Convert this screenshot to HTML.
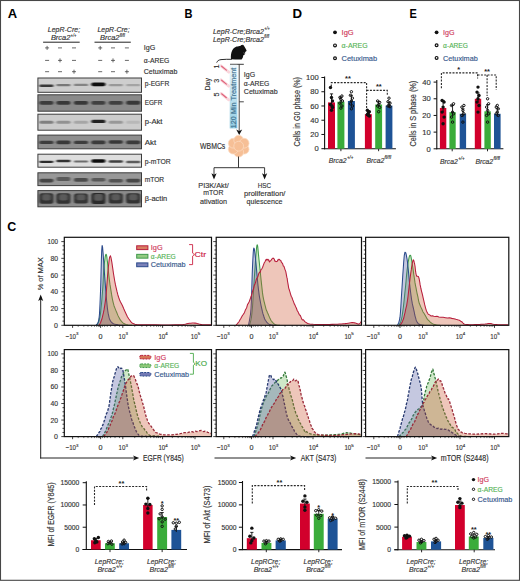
<!DOCTYPE html>
<html><head><meta charset="utf-8"><style>
html,body{margin:0;padding:0;background:#fff;}
svg{display:block;}
text{font-family:"Liberation Sans", sans-serif;}
</style></head><body>
<svg width="520" height="581" viewBox="0 0 520 581">
<rect x="0" y="0" width="520" height="581" fill="#fff"/>
<text x="7.80" y="18.00" font-size="13.2" fill="#000" font-weight="bold" textLength="9.40" lengthAdjust="spacingAndGlyphs" >A</text>
<text x="184.60" y="18.20" font-size="13.2" fill="#000" font-weight="bold" textLength="8.00" lengthAdjust="spacingAndGlyphs" >B</text>
<text x="7.30" y="231.40" font-size="13.4" fill="#000" font-weight="bold" textLength="9.00" lengthAdjust="spacingAndGlyphs" >C</text>
<text x="292.40" y="18.30" font-size="13.2" fill="#000" font-weight="bold" textLength="9.60" lengthAdjust="spacingAndGlyphs" >D</text>
<text x="409.60" y="18.30" font-size="13.2" fill="#000" font-weight="bold" textLength="7.30" lengthAdjust="spacingAndGlyphs" >E</text>
<text x="47.80" y="31.80" font-size="7.2" fill="#333" font-style="italic" textLength="32.30" lengthAdjust="spacingAndGlyphs" stroke="#333" stroke-width="0.15" >LepR-Cre;</text>
<text x="50.90" y="40.20" font-size="7.2" fill="#333" font-style="italic" textLength="19.50" lengthAdjust="spacingAndGlyphs" stroke="#333" stroke-width="0.15" >Brca2</text>
<text x="70.60" y="36.60" font-size="4.6" fill="#333" font-style="italic" textLength="5.80" lengthAdjust="spacingAndGlyphs" stroke="#333" stroke-width="0.15" >+/+</text>
<text x="97.50" y="31.80" font-size="7.2" fill="#333" font-style="italic" textLength="32.10" lengthAdjust="spacingAndGlyphs" stroke="#333" stroke-width="0.15" >LepR-Cre;</text>
<text x="100.00" y="40.20" font-size="7.2" fill="#333" font-style="italic" textLength="19.50" lengthAdjust="spacingAndGlyphs" stroke="#333" stroke-width="0.15" >Brca2</text>
<text x="119.70" y="36.60" font-size="4.6" fill="#333" font-style="italic" textLength="5.20" lengthAdjust="spacingAndGlyphs" stroke="#333" stroke-width="0.15" >fl/fl</text>
<line x1="43.10" y1="42.20" x2="79.70" y2="42.20" stroke="#222" stroke-width="1.0" />
<line x1="94.50" y1="42.20" x2="130.80" y2="42.20" stroke="#222" stroke-width="1.0" />
<line x1="45.10" y1="47.90" x2="49.10" y2="47.90" stroke="#444" stroke-width="0.8" />
<line x1="47.10" y1="45.90" x2="47.10" y2="49.90" stroke="#444" stroke-width="0.8" />
<line x1="58.00" y1="47.90" x2="62.00" y2="47.90" stroke="#444" stroke-width="0.8" />
<line x1="72.00" y1="47.90" x2="76.00" y2="47.90" stroke="#444" stroke-width="0.8" />
<line x1="98.20" y1="47.90" x2="102.20" y2="47.90" stroke="#444" stroke-width="0.8" />
<line x1="100.20" y1="45.90" x2="100.20" y2="49.90" stroke="#444" stroke-width="0.8" />
<line x1="111.00" y1="47.90" x2="115.00" y2="47.90" stroke="#444" stroke-width="0.8" />
<line x1="124.90" y1="47.90" x2="128.90" y2="47.90" stroke="#444" stroke-width="0.8" />
<line x1="45.10" y1="60.40" x2="49.10" y2="60.40" stroke="#444" stroke-width="0.8" />
<line x1="58.00" y1="60.40" x2="62.00" y2="60.40" stroke="#444" stroke-width="0.8" />
<line x1="60.00" y1="58.40" x2="60.00" y2="62.40" stroke="#444" stroke-width="0.8" />
<line x1="72.00" y1="60.40" x2="76.00" y2="60.40" stroke="#444" stroke-width="0.8" />
<line x1="98.20" y1="60.40" x2="102.20" y2="60.40" stroke="#444" stroke-width="0.8" />
<line x1="111.00" y1="60.40" x2="115.00" y2="60.40" stroke="#444" stroke-width="0.8" />
<line x1="113.00" y1="58.40" x2="113.00" y2="62.40" stroke="#444" stroke-width="0.8" />
<line x1="124.90" y1="60.40" x2="128.90" y2="60.40" stroke="#444" stroke-width="0.8" />
<line x1="45.10" y1="71.70" x2="49.10" y2="71.70" stroke="#444" stroke-width="0.8" />
<line x1="58.00" y1="71.70" x2="62.00" y2="71.70" stroke="#444" stroke-width="0.8" />
<line x1="72.00" y1="71.70" x2="76.00" y2="71.70" stroke="#444" stroke-width="0.8" />
<line x1="74.00" y1="69.70" x2="74.00" y2="73.70" stroke="#444" stroke-width="0.8" />
<line x1="98.20" y1="71.70" x2="102.20" y2="71.70" stroke="#444" stroke-width="0.8" />
<line x1="111.00" y1="71.70" x2="115.00" y2="71.70" stroke="#444" stroke-width="0.8" />
<line x1="124.90" y1="71.70" x2="128.90" y2="71.70" stroke="#444" stroke-width="0.8" />
<line x1="126.90" y1="69.70" x2="126.90" y2="73.70" stroke="#444" stroke-width="0.8" />
<text x="143.80" y="50.30" font-size="7.3" fill="#333" textLength="11.50" lengthAdjust="spacingAndGlyphs" stroke="#333" stroke-width="0.15" >IgG</text>
<text x="143.80" y="63.00" font-size="7.3" fill="#333" textLength="25.50" lengthAdjust="spacingAndGlyphs" stroke="#333" stroke-width="0.15" >α-AREG</text>
<text x="143.80" y="74.00" font-size="7.3" fill="#333" textLength="33.50" lengthAdjust="spacingAndGlyphs" stroke="#333" stroke-width="0.15" >Cetuximab</text>
<defs><filter id="bl" x="-20%" y="-60%" width="140%" height="220%"><feGaussianBlur stdDeviation="1.0 0.75"/></filter><filter id="bl2" x="-5%" y="-5%" width="110%" height="110%"><feGaussianBlur stdDeviation="0.5"/></filter></defs>
<rect x="37.90" y="78.00" width="103.60" height="14.30" fill="rgb(206,206,206)" stroke="#3c3c3c" stroke-width="1.0" />
<g filter="url(#bl)">
<rect x="39.30" y="84.50" width="14.2" height="2.60" rx="1.30" fill="rgb(56,56,56)"/>
<rect x="56.30" y="83.90" width="14.2" height="2.40" rx="1.20" fill="rgb(120,120,120)"/>
<rect x="73.90" y="83.70" width="14.2" height="2.40" rx="1.20" fill="rgb(132,132,132)"/>
<rect x="91.30" y="82.40" width="14.2" height="3.80" rx="1.90" fill="rgb(14,14,14)"/>
<rect x="108.70" y="84.05" width="14.2" height="2.30" rx="1.15" fill="rgb(152,152,152)"/>
<rect x="126.10" y="84.10" width="14.2" height="2.20" rx="1.10" fill="rgb(164,164,164)"/>
</g>
<rect x="37.90" y="94.80" width="103.60" height="16.40" fill="rgb(138,138,138)" stroke="#3c3c3c" stroke-width="1.0" />
<g filter="url(#bl)">
<rect x="39.30" y="100.90" width="14.2" height="3.80" rx="1.90" fill="rgb(58,58,58)"/>
<rect x="56.30" y="100.90" width="14.2" height="3.80" rx="1.90" fill="rgb(56,56,56)"/>
<rect x="73.90" y="100.90" width="14.2" height="3.80" rx="1.90" fill="rgb(56,56,56)"/>
<rect x="91.30" y="100.90" width="14.2" height="3.80" rx="1.90" fill="rgb(64,64,64)"/>
<rect x="108.70" y="100.90" width="14.2" height="3.80" rx="1.90" fill="rgb(64,64,64)"/>
<rect x="126.10" y="100.80" width="14.2" height="4.00" rx="2.00" fill="rgb(56,56,56)"/>
</g>
<rect x="37.90" y="114.20" width="103.60" height="16.00" fill="rgb(204,204,204)" stroke="#3c3c3c" stroke-width="1.0" />
<g filter="url(#bl)">
<rect x="39.30" y="120.70" width="14.2" height="3.00" rx="1.50" fill="rgb(128,128,128)"/>
<rect x="56.30" y="120.70" width="14.2" height="3.00" rx="1.50" fill="rgb(146,146,146)"/>
<rect x="73.90" y="120.70" width="14.2" height="3.00" rx="1.50" fill="rgb(166,166,166)"/>
<rect x="91.30" y="119.80" width="14.2" height="3.20" rx="1.60" fill="rgb(34,34,34)"/>
<rect x="108.70" y="120.70" width="14.2" height="3.00" rx="1.50" fill="rgb(152,152,152)"/>
<rect x="126.10" y="120.70" width="14.2" height="3.00" rx="1.50" fill="rgb(184,184,184)"/>
</g>
<rect x="37.90" y="135.10" width="103.60" height="13.70" fill="rgb(142,142,142)" stroke="#3c3c3c" stroke-width="1.0" />
<g filter="url(#bl)">
<rect x="39.30" y="140.70" width="14.2" height="3.40" rx="1.70" fill="rgb(60,60,60)"/>
<rect x="56.30" y="140.60" width="14.2" height="3.60" rx="1.80" fill="rgb(56,56,56)"/>
<rect x="73.90" y="140.70" width="14.2" height="3.40" rx="1.70" fill="rgb(62,62,62)"/>
<rect x="91.30" y="140.60" width="14.2" height="3.60" rx="1.80" fill="rgb(58,58,58)"/>
<rect x="108.70" y="140.30" width="14.2" height="3.40" rx="1.70" fill="rgb(56,56,56)"/>
<rect x="126.10" y="140.60" width="14.2" height="3.60" rx="1.80" fill="rgb(58,58,58)"/>
</g>
<rect x="37.90" y="154.20" width="103.60" height="13.00" fill="rgb(222,222,222)" stroke="#3c3c3c" stroke-width="1.0" />
<g filter="url(#bl)">
<rect x="39.30" y="160.65" width="14.2" height="2.30" rx="1.15" fill="rgb(44,44,44)"/>
<rect x="56.30" y="159.80" width="14.2" height="2.40" rx="1.20" fill="rgb(48,48,48)"/>
<rect x="73.90" y="160.60" width="14.2" height="2.00" rx="1.00" fill="rgb(108,108,108)"/>
<rect x="91.30" y="159.20" width="14.2" height="3.60" rx="1.80" fill="rgb(12,12,12)"/>
<rect x="108.70" y="160.35" width="14.2" height="2.50" rx="1.25" fill="rgb(64,64,64)"/>
<rect x="126.10" y="160.65" width="14.2" height="2.50" rx="1.25" fill="rgb(92,92,92)"/>
</g>
<rect x="37.90" y="172.80" width="103.60" height="12.80" fill="rgb(152,152,152)" stroke="#3c3c3c" stroke-width="1.0" />
<g filter="url(#bl)">
<rect x="39.30" y="178.80" width="14.2" height="3.60" rx="1.80" fill="rgb(68,68,68)"/>
<rect x="56.30" y="177.00" width="14.2" height="4.00" rx="2.00" fill="rgb(90,90,90)"/>
<rect x="73.90" y="178.10" width="14.2" height="3.60" rx="1.80" fill="rgb(76,76,76)"/>
<rect x="91.30" y="177.90" width="14.2" height="3.60" rx="1.80" fill="rgb(88,88,88)"/>
<rect x="108.70" y="179.00" width="14.2" height="3.40" rx="1.70" fill="rgb(82,82,82)"/>
<rect x="126.10" y="178.80" width="14.2" height="3.60" rx="1.80" fill="rgb(70,70,70)"/>
</g>
<rect x="37.90" y="190.60" width="103.60" height="16.20" fill="rgb(140,140,140)" stroke="#3c3c3c" stroke-width="1.0" />
<g filter="url(#bl)">
<rect x="39.30" y="193.15" width="14.2" height="10.50" rx="2.50" fill="rgb(48,48,48)"/>
<rect x="42.10" y="194.15" width="8.6" height="6.30" rx="2" fill="#5a5a5a"/>
<rect x="56.30" y="193.15" width="14.2" height="10.50" rx="2.50" fill="rgb(48,48,48)"/>
<rect x="59.10" y="194.15" width="8.6" height="6.30" rx="2" fill="#5a5a5a"/>
<rect x="73.90" y="193.40" width="14.2" height="10.00" rx="2.50" fill="rgb(52,52,52)"/>
<rect x="76.70" y="194.40" width="8.6" height="5.80" rx="2" fill="#5a5a5a"/>
<rect x="91.30" y="192.90" width="14.2" height="11.00" rx="2.50" fill="rgb(44,44,44)"/>
<rect x="94.10" y="193.90" width="8.6" height="6.80" rx="2" fill="#5a5a5a"/>
<rect x="108.70" y="193.30" width="14.2" height="10.20" rx="2.50" fill="rgb(50,50,50)"/>
<rect x="111.50" y="194.30" width="8.6" height="6.00" rx="2" fill="#5a5a5a"/>
<rect x="126.10" y="193.30" width="14.2" height="10.20" rx="2.50" fill="rgb(50,50,50)"/>
<rect x="128.90" y="194.30" width="8.6" height="6.00" rx="2" fill="#5a5a5a"/>
</g>
<text x="144.70" y="86.30" font-size="7.3" fill="#333" textLength="24.60" lengthAdjust="spacingAndGlyphs" stroke="#333" stroke-width="0.15" >p-EGFR</text>
<text x="144.70" y="104.60" font-size="7.3" fill="#333" textLength="17.60" lengthAdjust="spacingAndGlyphs" stroke="#333" stroke-width="0.15" >EGFR</text>
<text x="144.70" y="124.30" font-size="7.3" fill="#333" textLength="17.80" lengthAdjust="spacingAndGlyphs" stroke="#333" stroke-width="0.15" >p-Akt</text>
<text x="144.70" y="145.00" font-size="7.3" fill="#333" textLength="11.50" lengthAdjust="spacingAndGlyphs" stroke="#333" stroke-width="0.15" >Akt</text>
<text x="144.70" y="164.00" font-size="7.3" fill="#333" textLength="26.00" lengthAdjust="spacingAndGlyphs" stroke="#333" stroke-width="0.15" >p-mTOR</text>
<text x="144.70" y="182.40" font-size="7.3" fill="#333" textLength="19.50" lengthAdjust="spacingAndGlyphs" stroke="#333" stroke-width="0.15" >mTOR</text>
<text x="144.70" y="201.20" font-size="7.3" fill="#333" textLength="22.50" lengthAdjust="spacingAndGlyphs" stroke="#333" stroke-width="0.15" >β-actin</text>
<text x="212.90" y="33.50" font-size="7.2" fill="#333" font-style="italic" textLength="51.00" lengthAdjust="spacingAndGlyphs" stroke="#333" stroke-width="0.15" >LepR-Cre;Brca2</text>
<text x="264.20" y="29.80" font-size="4.6" fill="#333" font-style="italic" textLength="5.50" lengthAdjust="spacingAndGlyphs" stroke="#333" stroke-width="0.15" >+/+</text>
<text x="212.90" y="41.50" font-size="7.2" fill="#333" font-style="italic" textLength="51.00" lengthAdjust="spacingAndGlyphs" stroke="#333" stroke-width="0.15" >LepR-Cre;Brca2</text>
<text x="264.20" y="37.80" font-size="4.6" fill="#333" font-style="italic" textLength="5.00" lengthAdjust="spacingAndGlyphs" stroke="#333" stroke-width="0.15" >fl/fl</text>
<path d="M231.0,59.2 C230.6,56.5 231.0,52.5 232.3,50.2 C233.2,48.6 234.6,47.4 236.6,46.6 C238.0,46.1 239.4,46.1 240.4,45.9 C240.8,44.9 241.6,44.6 242.1,45.2 C242.6,44.6 243.4,44.6 243.7,45.6 C244.6,46.6 245.6,48.6 246.6,50.6 C246.4,51.4 245.8,51.8 245.0,52.0 C245.4,52.8 245.2,53.6 244.8,54.2 C244.2,55.0 243.6,55.2 243.2,55.6 C243.2,57.0 242.6,58.6 241.6,59.4 L235.0,59.6 Z" fill="#111"/>
<path d="M231.8,59.3 C228.5,59.2 224.5,59.3 221.0,59.6 C218.6,59.9 217.3,61.0 216.7,62.6" fill="none" stroke="#111" stroke-width="0.9"/>
<path d="M243.9,52.6 C244.4,52.9 244.6,53.4 244.3,53.9" fill="none" stroke="#fff" stroke-width="0.5"/>
<line x1="230.00" y1="64.30" x2="243.80" y2="64.30" stroke="#222" stroke-width="0.9" />
<defs><linearGradient id="bg1" x1="0" y1="0" x2="0" y2="1"><stop offset="0" stop-color="#eef7fb"/><stop offset="0.45" stop-color="#c4e4f1"/><stop offset="1" stop-color="#92cce3"/></linearGradient></defs>
<rect x="229.70" y="64.80" width="7.70" height="63.60" fill="url(#bg1)" stroke="none" stroke-width="0" />
<line x1="239.20" y1="64.30" x2="239.20" y2="131.00" stroke="#333" stroke-width="0.9" />
<line x1="239.20" y1="101.80" x2="243.80" y2="101.80" stroke="#333" stroke-width="0.9" />
<path d="M236.2,129.4 L239.2,135.0 L242.2,129.4 L239.2,131.0 Z" fill="#111"/>
<text x="235.80" y="128.20" font-size="6.4" fill="#3f7290" textLength="60.50" lengthAdjust="spacingAndGlyphs" transform="rotate(-90 235.80 128.20)" stroke="#3f7290" stroke-width="0.15" >120 Min Treatment</text>
<text x="209.60" y="90.50" font-size="7.0" fill="#333" textLength="12.50" lengthAdjust="spacingAndGlyphs" transform="rotate(-90 209.60 90.50)" stroke="#333" stroke-width="0.15" >Day</text>
<text x="218.80" y="68.60" font-size="7.2" fill="#333" transform="rotate(-90 218.80 68.60)" stroke="#333" stroke-width="0.15" >1</text>
<text x="218.80" y="82.80" font-size="7.2" fill="#333" transform="rotate(-90 218.80 82.80)" stroke="#333" stroke-width="0.15" >3</text>
<text x="218.80" y="96.40" font-size="7.2" fill="#333" transform="rotate(-90 218.80 96.40)" stroke="#333" stroke-width="0.15" >5</text>
<line x1="221.0" y1="65.80" x2="228.8" y2="72.20" stroke="#f9d6dc" stroke-width="2.8" stroke-linecap="round"/>
<line x1="221.6" y1="66.20" x2="226.4" y2="70.10" stroke="#de6078" stroke-width="1.1" stroke-linecap="round"/>
<line x1="221.0" y1="79.80" x2="228.8" y2="86.20" stroke="#f9d6dc" stroke-width="2.8" stroke-linecap="round"/>
<line x1="221.6" y1="80.20" x2="226.4" y2="84.10" stroke="#de6078" stroke-width="1.1" stroke-linecap="round"/>
<line x1="221.0" y1="93.40" x2="228.8" y2="99.80" stroke="#f9d6dc" stroke-width="2.8" stroke-linecap="round"/>
<line x1="221.6" y1="93.80" x2="226.4" y2="97.70" stroke="#de6078" stroke-width="1.1" stroke-linecap="round"/>
<text x="243.80" y="77.30" font-size="7.4" fill="#333" textLength="11.30" lengthAdjust="spacingAndGlyphs" stroke="#333" stroke-width="0.15" >IgG</text>
<text x="243.80" y="85.80" font-size="7.4" fill="#333" textLength="25.50" lengthAdjust="spacingAndGlyphs" stroke="#333" stroke-width="0.15" >α-AREG</text>
<text x="243.80" y="94.20" font-size="7.4" fill="#333" textLength="33.80" lengthAdjust="spacingAndGlyphs" stroke="#333" stroke-width="0.15" >Cetuximab</text>
<circle cx="244.16" cy="149.20" r="4.9" fill="#f6bf96" stroke="#fcdcc4" stroke-width="0.7"/>
<circle cx="238.70" cy="152.20" r="4.9" fill="#f6bf96" stroke="#fcdcc4" stroke-width="0.7"/>
<circle cx="233.24" cy="149.20" r="4.9" fill="#f6bf96" stroke="#fcdcc4" stroke-width="0.7"/>
<circle cx="233.24" cy="143.20" r="4.9" fill="#f6bf96" stroke="#fcdcc4" stroke-width="0.7"/>
<circle cx="238.70" cy="140.20" r="4.9" fill="#f6bf96" stroke="#fcdcc4" stroke-width="0.7"/>
<circle cx="244.16" cy="143.20" r="4.9" fill="#f6bf96" stroke="#fcdcc4" stroke-width="0.7"/>
<circle cx="238.70" cy="146.20" r="4.9" fill="#f6bf96" stroke="#fcdcc4" stroke-width="0.7"/>
<text x="200.10" y="149.00" font-size="8.2" fill="#333" textLength="25.20" lengthAdjust="spacingAndGlyphs" stroke="#333" stroke-width="0.15" >WBMCs</text>
<line x1="238.50" y1="156.50" x2="238.50" y2="167.70" stroke="#222" stroke-width="0.9" />
<line x1="214.00" y1="167.70" x2="264.60" y2="167.70" stroke="#222" stroke-width="0.9" />
<line x1="214.00" y1="167.70" x2="214.00" y2="175.00" stroke="#222" stroke-width="0.9" />
<line x1="264.60" y1="167.70" x2="264.60" y2="175.00" stroke="#222" stroke-width="0.9" />
<path d="M211.4,173.2 L214.0,179.4 L216.6,173.2 L214.0,174.8 Z" fill="#111"/>
<path d="M262.0,173.2 L264.6,179.4 L267.2,173.2 L264.6,174.8 Z" fill="#111"/>
<text x="213.50" y="187.50" font-size="7.8" fill="#333" text-anchor="middle" textLength="30.50" lengthAdjust="spacingAndGlyphs" stroke="#333" stroke-width="0.15" >PI3K/Akt/</text>
<text x="213.30" y="195.40" font-size="7.8" fill="#333" text-anchor="middle" textLength="20.10" lengthAdjust="spacingAndGlyphs" stroke="#333" stroke-width="0.15" >mTOR</text>
<text x="213.50" y="203.60" font-size="7.8" fill="#333" text-anchor="middle" textLength="26.90" lengthAdjust="spacingAndGlyphs" stroke="#333" stroke-width="0.15" >ativation</text>
<text x="264.40" y="187.70" font-size="7.8" fill="#333" text-anchor="middle" textLength="13.30" lengthAdjust="spacingAndGlyphs" stroke="#333" stroke-width="0.15" >HSC</text>
<text x="264.70" y="196.30" font-size="7.8" fill="#333" text-anchor="middle" textLength="41.50" lengthAdjust="spacingAndGlyphs" stroke="#333" stroke-width="0.15" >proliferation/</text>
<text x="264.50" y="204.10" font-size="7.8" fill="#333" text-anchor="middle" textLength="35.80" lengthAdjust="spacingAndGlyphs" stroke="#333" stroke-width="0.15" >quiescence</text>
<circle cx="335.00" cy="32.30" r="1.90" fill="#111"/>
<text x="341.60" y="34.90" font-size="7.4" fill="#d03a5a" textLength="12.08" lengthAdjust="spacingAndGlyphs" stroke="#d03a5a" stroke-width="0.15" >IgG</text>
<circle cx="335.00" cy="45.40" r="1.40" fill="none" stroke="#111" stroke-width="1.2"/>
<text x="341.60" y="48.00" font-size="7.4" fill="#58b458" textLength="26.04" lengthAdjust="spacingAndGlyphs" stroke="#58b458" stroke-width="0.15" >α-AREG</text>
<circle cx="335.00" cy="58.20" r="1.40" fill="none" stroke="#111" stroke-width="1.2"/>
<text x="341.60" y="60.80" font-size="7.4" fill="#36588c" textLength="35.49" lengthAdjust="spacingAndGlyphs" stroke="#36588c" stroke-width="0.15" >Cetuximab</text>
<line x1="324.60" y1="76.60" x2="324.60" y2="149.20" stroke="#111" stroke-width="1.1" />
<line x1="324.10" y1="148.70" x2="395.90" y2="148.70" stroke="#111" stroke-width="1.1" />
<line x1="321.40" y1="148.70" x2="324.60" y2="148.70" stroke="#111" stroke-width="1.0" />
<text x="318.70" y="151.40" font-size="7.6" fill="#333" text-anchor="end" stroke="#333" stroke-width="0.15" >0</text>
<line x1="321.40" y1="134.46" x2="324.60" y2="134.46" stroke="#111" stroke-width="1.0" />
<text x="318.70" y="137.16" font-size="7.6" fill="#333" text-anchor="end" stroke="#333" stroke-width="0.15" >20</text>
<line x1="321.40" y1="120.22" x2="324.60" y2="120.22" stroke="#111" stroke-width="1.0" />
<text x="318.70" y="122.92" font-size="7.6" fill="#333" text-anchor="end" stroke="#333" stroke-width="0.15" >40</text>
<line x1="321.40" y1="105.98" x2="324.60" y2="105.98" stroke="#111" stroke-width="1.0" />
<text x="318.70" y="108.68" font-size="7.6" fill="#333" text-anchor="end" stroke="#333" stroke-width="0.15" >60</text>
<line x1="321.40" y1="91.74" x2="324.60" y2="91.74" stroke="#111" stroke-width="1.0" />
<text x="318.70" y="94.44" font-size="7.6" fill="#333" text-anchor="end" stroke="#333" stroke-width="0.15" >80</text>
<line x1="321.40" y1="77.50" x2="324.60" y2="77.50" stroke="#111" stroke-width="1.0" />
<text x="318.70" y="80.20" font-size="7.6" fill="#333" text-anchor="end" stroke="#333" stroke-width="0.15" >100</text>
<line x1="340.90" y1="148.70" x2="340.90" y2="151.20" stroke="#111" stroke-width="0.9" />
<line x1="378.60" y1="148.70" x2="378.60" y2="151.20" stroke="#111" stroke-width="0.9" />
<text x="299.80" y="146.50" font-size="8.2" fill="#333" textLength="69.50" lengthAdjust="spacingAndGlyphs" transform="rotate(-90 299.80 146.50)" stroke="#333" stroke-width="0.15" >Cells in G0 phase (%)</text>
<rect x="328.00" y="102.42" width="7.00" height="46.28" fill="#d2002c" stroke="none" stroke-width="0" />
<line x1="331.50" y1="107.55" x2="331.50" y2="93.88" stroke="#111" stroke-width="0.9" />
<line x1="329.90" y1="93.88" x2="333.10" y2="93.88" stroke="#111" stroke-width="0.9" />
<circle cx="330.50" cy="87.47" r="1.70" fill="#111"/>
<circle cx="331.50" cy="97.44" r="1.70" fill="#111"/>
<circle cx="332.50" cy="101.00" r="1.70" fill="#111"/>
<circle cx="330.50" cy="104.56" r="1.70" fill="#111"/>
<circle cx="332.50" cy="107.40" r="1.70" fill="#111"/>
<circle cx="331.50" cy="110.25" r="1.70" fill="#111"/>
<circle cx="332.00" cy="105.98" r="1.70" fill="#111"/>
<rect x="337.40" y="101.71" width="7.00" height="46.99" fill="#3aac3a" stroke="none" stroke-width="0" />
<line x1="340.90" y1="104.27" x2="340.90" y2="97.44" stroke="#111" stroke-width="0.9" />
<line x1="339.30" y1="97.44" x2="342.50" y2="97.44" stroke="#111" stroke-width="0.9" />
<circle cx="339.90" cy="97.44" r="1.20" fill="none" stroke="#111" stroke-width="1.0"/>
<circle cx="341.90" cy="96.01" r="1.20" fill="none" stroke="#111" stroke-width="1.0"/>
<circle cx="340.90" cy="99.57" r="1.20" fill="none" stroke="#111" stroke-width="1.0"/>
<circle cx="339.90" cy="103.13" r="1.20" fill="none" stroke="#111" stroke-width="1.0"/>
<circle cx="341.90" cy="105.98" r="1.20" fill="none" stroke="#111" stroke-width="1.0"/>
<circle cx="340.90" cy="108.12" r="1.20" fill="none" stroke="#111" stroke-width="1.0"/>
<circle cx="342.40" cy="101.00" r="1.20" fill="none" stroke="#111" stroke-width="1.0"/>
<rect x="347.90" y="101.00" width="7.00" height="47.70" fill="#1e5396" stroke="none" stroke-width="0" />
<line x1="351.40" y1="104.41" x2="351.40" y2="95.30" stroke="#111" stroke-width="0.9" />
<line x1="349.80" y1="95.30" x2="353.00" y2="95.30" stroke="#111" stroke-width="0.9" />
<circle cx="351.40" cy="91.74" r="1.20" fill="none" stroke="#111" stroke-width="1.0"/>
<circle cx="350.40" cy="95.30" r="1.20" fill="none" stroke="#111" stroke-width="1.0"/>
<circle cx="352.40" cy="98.15" r="1.20" fill="none" stroke="#111" stroke-width="1.0"/>
<circle cx="351.40" cy="101.00" r="1.20" fill="none" stroke="#111" stroke-width="1.0"/>
<circle cx="350.40" cy="103.84" r="1.20" fill="none" stroke="#111" stroke-width="1.0"/>
<circle cx="352.40" cy="105.98" r="1.20" fill="none" stroke="#111" stroke-width="1.0"/>
<circle cx="351.40" cy="108.83" r="1.20" fill="none" stroke="#111" stroke-width="1.0"/>
<rect x="364.90" y="114.17" width="6.90" height="34.53" fill="#d2002c" stroke="none" stroke-width="0" />
<line x1="368.35" y1="115.88" x2="368.35" y2="111.32" stroke="#111" stroke-width="0.9" />
<line x1="366.75" y1="111.32" x2="369.95" y2="111.32" stroke="#111" stroke-width="0.9" />
<circle cx="367.35" cy="110.25" r="1.70" fill="#111"/>
<circle cx="369.35" cy="111.68" r="1.70" fill="#111"/>
<circle cx="368.35" cy="113.10" r="1.70" fill="#111"/>
<circle cx="367.35" cy="114.52" r="1.70" fill="#111"/>
<circle cx="369.35" cy="115.95" r="1.70" fill="#111"/>
<circle cx="368.35" cy="115.24" r="1.70" fill="#111"/>
<rect x="375.20" y="104.56" width="6.90" height="44.14" fill="#3aac3a" stroke="none" stroke-width="0" />
<line x1="378.65" y1="106.26" x2="378.65" y2="101.71" stroke="#111" stroke-width="0.9" />
<line x1="377.05" y1="101.71" x2="380.25" y2="101.71" stroke="#111" stroke-width="0.9" />
<circle cx="377.65" cy="101.00" r="1.20" fill="none" stroke="#111" stroke-width="1.0"/>
<circle cx="379.65" cy="102.42" r="1.20" fill="none" stroke="#111" stroke-width="1.0"/>
<circle cx="378.65" cy="104.56" r="1.20" fill="none" stroke="#111" stroke-width="1.0"/>
<circle cx="377.65" cy="105.98" r="1.20" fill="none" stroke="#111" stroke-width="1.0"/>
<circle cx="379.65" cy="107.40" r="1.20" fill="none" stroke="#111" stroke-width="1.0"/>
<circle cx="378.65" cy="111.68" r="1.20" fill="none" stroke="#111" stroke-width="1.0"/>
<rect x="385.60" y="105.62" width="6.80" height="43.08" fill="#1e5396" stroke="none" stroke-width="0" />
<line x1="389.00" y1="107.76" x2="389.00" y2="102.06" stroke="#111" stroke-width="0.9" />
<line x1="387.40" y1="102.06" x2="390.60" y2="102.06" stroke="#111" stroke-width="0.9" />
<circle cx="389.00" cy="98.15" r="1.20" fill="none" stroke="#111" stroke-width="1.0"/>
<circle cx="388.00" cy="101.71" r="1.20" fill="none" stroke="#111" stroke-width="1.0"/>
<circle cx="390.00" cy="103.13" r="1.20" fill="none" stroke="#111" stroke-width="1.0"/>
<circle cx="389.00" cy="105.27" r="1.20" fill="none" stroke="#111" stroke-width="1.0"/>
<circle cx="388.00" cy="105.98" r="1.20" fill="none" stroke="#111" stroke-width="1.0"/>
<circle cx="390.00" cy="106.69" r="1.20" fill="none" stroke="#111" stroke-width="1.0"/>
<path d="M331.30,86.50 L331.30,82.60 L366.60,82.60 L366.60,109.70" fill="none" stroke="#2a2a2a" stroke-width="1.1" stroke-dasharray="2.0 1.3"/>
<path d="M366.60,90.40 L387.30,90.40 L387.30,95.50" fill="none" stroke="#2a2a2a" stroke-width="1.1" stroke-dasharray="2.0 1.3"/>
<text x="348.00" y="81.00" font-size="7.4" fill="#222" text-anchor="middle" font-weight="bold" >**</text>
<text x="378.80" y="89.00" font-size="7.4" fill="#222" text-anchor="middle" font-weight="bold" >**</text>
<text x="328.80" y="163.20" font-size="7.3" fill="#333" font-style="italic" textLength="17.70" lengthAdjust="spacingAndGlyphs" stroke="#333" stroke-width="0.15" >Brca2</text>
<text x="346.90" y="159.20" font-size="4.6" fill="#333" font-style="italic" textLength="6.40" lengthAdjust="spacingAndGlyphs" stroke="#333" stroke-width="0.15" >+/+</text>
<text x="366.50" y="163.20" font-size="7.3" fill="#333" font-style="italic" textLength="17.70" lengthAdjust="spacingAndGlyphs" stroke="#333" stroke-width="0.15" >Brca2</text>
<text x="384.60" y="159.20" font-size="4.6" fill="#333" font-style="italic" textLength="6.40" lengthAdjust="spacingAndGlyphs" stroke="#333" stroke-width="0.15" >fl/fl</text>
<circle cx="436.60" cy="32.30" r="1.90" fill="#111"/>
<text x="443.10" y="34.90" font-size="7.3" fill="#d03a5a" textLength="11.50" lengthAdjust="spacingAndGlyphs" stroke="#d03a5a" stroke-width="0.15" >IgG</text>
<circle cx="436.60" cy="45.20" r="1.40" fill="none" stroke="#111" stroke-width="1.2"/>
<text x="443.10" y="47.80" font-size="7.3" fill="#58b458" textLength="24.80" lengthAdjust="spacingAndGlyphs" stroke="#58b458" stroke-width="0.15" >α-AREG</text>
<circle cx="436.60" cy="57.90" r="1.40" fill="none" stroke="#111" stroke-width="1.2"/>
<text x="443.10" y="60.50" font-size="7.3" fill="#36588c" textLength="34.60" lengthAdjust="spacingAndGlyphs" stroke="#36588c" stroke-width="0.15" >Cetuximab</text>
<line x1="436.80" y1="80.00" x2="436.80" y2="149.30" stroke="#111" stroke-width="1.1" />
<line x1="436.30" y1="148.80" x2="503.40" y2="148.80" stroke="#111" stroke-width="1.1" />
<line x1="433.60" y1="148.80" x2="436.80" y2="148.80" stroke="#111" stroke-width="1.0" />
<text x="430.80" y="151.50" font-size="7.6" fill="#333" text-anchor="end" stroke="#333" stroke-width="0.15" >0</text>
<line x1="433.60" y1="132.12" x2="436.80" y2="132.12" stroke="#111" stroke-width="1.0" />
<text x="430.80" y="134.82" font-size="7.6" fill="#333" text-anchor="end" stroke="#333" stroke-width="0.15" >10</text>
<line x1="433.60" y1="115.45" x2="436.80" y2="115.45" stroke="#111" stroke-width="1.0" />
<text x="430.80" y="118.15" font-size="7.6" fill="#333" text-anchor="end" stroke="#333" stroke-width="0.15" >20</text>
<line x1="433.60" y1="98.78" x2="436.80" y2="98.78" stroke="#111" stroke-width="1.0" />
<text x="430.80" y="101.48" font-size="7.6" fill="#333" text-anchor="end" stroke="#333" stroke-width="0.15" >30</text>
<line x1="433.60" y1="82.10" x2="436.80" y2="82.10" stroke="#111" stroke-width="1.0" />
<text x="430.80" y="84.80" font-size="7.6" fill="#333" text-anchor="end" stroke="#333" stroke-width="0.15" >40</text>
<line x1="452.20" y1="148.80" x2="452.20" y2="151.30" stroke="#111" stroke-width="0.9" />
<line x1="487.50" y1="148.80" x2="487.50" y2="151.30" stroke="#111" stroke-width="0.9" />
<text x="415.60" y="146.60" font-size="8.2" fill="#333" textLength="65.80" lengthAdjust="spacingAndGlyphs" transform="rotate(-90 415.60 146.60)" stroke="#333" stroke-width="0.15" >Cells in S phase (%)</text>
<rect x="439.90" y="107.95" width="6.40" height="40.85" fill="#d2002c" stroke="none" stroke-width="0" />
<line x1="443.10" y1="112.45" x2="443.10" y2="100.44" stroke="#111" stroke-width="0.9" />
<line x1="441.50" y1="100.44" x2="444.70" y2="100.44" stroke="#111" stroke-width="0.9" />
<circle cx="442.10" cy="100.44" r="1.70" fill="#111"/>
<circle cx="444.10" cy="102.11" r="1.70" fill="#111"/>
<circle cx="443.10" cy="107.11" r="1.70" fill="#111"/>
<circle cx="442.10" cy="112.12" r="1.70" fill="#111"/>
<circle cx="444.10" cy="117.12" r="1.70" fill="#111"/>
<circle cx="443.10" cy="123.79" r="1.70" fill="#111"/>
<rect x="449.40" y="112.12" width="6.30" height="36.69" fill="#3aac3a" stroke="none" stroke-width="0" />
<line x1="452.55" y1="116.12" x2="452.55" y2="105.45" stroke="#111" stroke-width="0.9" />
<line x1="450.95" y1="105.45" x2="454.15" y2="105.45" stroke="#111" stroke-width="0.9" />
<circle cx="453.55" cy="103.78" r="1.20" fill="none" stroke="#111" stroke-width="1.0"/>
<circle cx="451.55" cy="105.45" r="1.20" fill="none" stroke="#111" stroke-width="1.0"/>
<circle cx="452.55" cy="112.12" r="1.20" fill="none" stroke="#111" stroke-width="1.0"/>
<circle cx="453.55" cy="113.78" r="1.20" fill="none" stroke="#111" stroke-width="1.0"/>
<circle cx="451.55" cy="117.12" r="1.20" fill="none" stroke="#111" stroke-width="1.0"/>
<circle cx="452.55" cy="122.12" r="1.20" fill="none" stroke="#111" stroke-width="1.0"/>
<rect x="459.70" y="113.78" width="6.40" height="35.02" fill="#1e5396" stroke="none" stroke-width="0" />
<line x1="462.90" y1="116.78" x2="462.90" y2="108.78" stroke="#111" stroke-width="0.9" />
<line x1="461.30" y1="108.78" x2="464.50" y2="108.78" stroke="#111" stroke-width="0.9" />
<circle cx="463.90" cy="105.45" r="1.20" fill="none" stroke="#111" stroke-width="1.0"/>
<circle cx="461.90" cy="107.11" r="1.20" fill="none" stroke="#111" stroke-width="1.0"/>
<circle cx="462.90" cy="110.45" r="1.20" fill="none" stroke="#111" stroke-width="1.0"/>
<circle cx="463.90" cy="113.78" r="1.20" fill="none" stroke="#111" stroke-width="1.0"/>
<circle cx="461.90" cy="115.45" r="1.20" fill="none" stroke="#111" stroke-width="1.0"/>
<circle cx="462.90" cy="122.12" r="1.20" fill="none" stroke="#111" stroke-width="1.0"/>
<rect x="474.80" y="98.78" width="6.40" height="50.03" fill="#d2002c" stroke="none" stroke-width="0" />
<line x1="478.00" y1="102.28" x2="478.00" y2="92.94" stroke="#111" stroke-width="0.9" />
<line x1="476.40" y1="92.94" x2="479.60" y2="92.94" stroke="#111" stroke-width="0.9" />
<circle cx="478.00" cy="87.10" r="1.70" fill="#111"/>
<circle cx="477.00" cy="92.11" r="1.70" fill="#111"/>
<circle cx="479.00" cy="95.44" r="1.70" fill="#111"/>
<circle cx="478.00" cy="98.78" r="1.70" fill="#111"/>
<circle cx="477.00" cy="102.11" r="1.70" fill="#111"/>
<circle cx="479.00" cy="105.45" r="1.70" fill="#111"/>
<circle cx="478.00" cy="112.12" r="1.70" fill="#111"/>
<rect x="484.40" y="111.28" width="6.40" height="37.52" fill="#3aac3a" stroke="none" stroke-width="0" />
<line x1="487.60" y1="115.28" x2="487.60" y2="104.61" stroke="#111" stroke-width="0.9" />
<line x1="486.00" y1="104.61" x2="489.20" y2="104.61" stroke="#111" stroke-width="0.9" />
<circle cx="487.60" cy="98.78" r="1.20" fill="none" stroke="#111" stroke-width="1.0"/>
<circle cx="488.60" cy="103.78" r="1.20" fill="none" stroke="#111" stroke-width="1.0"/>
<circle cx="486.60" cy="107.11" r="1.20" fill="none" stroke="#111" stroke-width="1.0"/>
<circle cx="487.60" cy="110.45" r="1.20" fill="none" stroke="#111" stroke-width="1.0"/>
<circle cx="488.60" cy="113.78" r="1.20" fill="none" stroke="#111" stroke-width="1.0"/>
<circle cx="486.60" cy="115.45" r="1.20" fill="none" stroke="#111" stroke-width="1.0"/>
<circle cx="487.60" cy="122.12" r="1.20" fill="none" stroke="#111" stroke-width="1.0"/>
<rect x="494.00" y="113.78" width="6.60" height="35.02" fill="#1e5396" stroke="none" stroke-width="0" />
<line x1="497.30" y1="116.78" x2="497.30" y2="108.78" stroke="#111" stroke-width="0.9" />
<line x1="495.70" y1="108.78" x2="498.90" y2="108.78" stroke="#111" stroke-width="0.9" />
<circle cx="497.30" cy="105.45" r="1.20" fill="none" stroke="#111" stroke-width="1.0"/>
<circle cx="496.30" cy="107.11" r="1.20" fill="none" stroke="#111" stroke-width="1.0"/>
<circle cx="498.30" cy="108.78" r="1.20" fill="none" stroke="#111" stroke-width="1.0"/>
<circle cx="497.30" cy="112.12" r="1.20" fill="none" stroke="#111" stroke-width="1.0"/>
<circle cx="496.30" cy="113.78" r="1.20" fill="none" stroke="#111" stroke-width="1.0"/>
<circle cx="498.30" cy="115.45" r="1.20" fill="none" stroke="#111" stroke-width="1.0"/>
<path d="M441.40,88.20 L441.40,72.90 L477.60,72.90 L477.60,78.50" fill="none" stroke="#2a2a2a" stroke-width="1.1" stroke-dasharray="2.0 1.3"/>
<path d="M477.60,75.00 L496.20,75.00 L496.20,90.00" fill="none" stroke="#2a2a2a" stroke-width="1.1" stroke-dasharray="2.0 1.3"/>
<path d="M487.10,75.00 L487.10,96.00" fill="none" stroke="#2a2a2a" stroke-width="1.1" stroke-dasharray="2.0 1.3"/>
<text x="458.60" y="72.00" font-size="7.4" fill="#222" text-anchor="middle" font-weight="bold" >*</text>
<text x="487.10" y="73.60" font-size="7.4" fill="#222" text-anchor="middle" font-weight="bold" >**</text>
<text x="440.10" y="163.50" font-size="7.3" fill="#333" font-style="italic" textLength="17.70" lengthAdjust="spacingAndGlyphs" stroke="#333" stroke-width="0.15" >Brca2</text>
<text x="458.20" y="159.50" font-size="4.6" fill="#333" font-style="italic" textLength="6.40" lengthAdjust="spacingAndGlyphs" stroke="#333" stroke-width="0.15" >+/+</text>
<text x="475.40" y="163.50" font-size="7.3" fill="#333" font-style="italic" textLength="17.70" lengthAdjust="spacingAndGlyphs" stroke="#333" stroke-width="0.15" >Brca2</text>
<text x="493.50" y="159.50" font-size="4.6" fill="#333" font-style="italic" textLength="6.40" lengthAdjust="spacingAndGlyphs" stroke="#333" stroke-width="0.15" >fl/fl</text>
<text x="42.80" y="290.30" font-size="8.1" fill="#333" textLength="33.00" lengthAdjust="spacingAndGlyphs" transform="rotate(-90 42.80 290.30)" stroke="#333" stroke-width="0.15" >% of MAX</text>
<line x1="40.70" y1="297.00" x2="40.70" y2="458.50" stroke="#222" stroke-width="1.0" />
<path d="M38.2,301.0 L40.7,294.6 L43.2,301.0 L40.7,299.4 Z" fill="#111"/>
<line x1="40.20" y1="458.00" x2="135.20" y2="458.00" stroke="#222" stroke-width="1.0" />
<path d="M133.00,455.4 L139.20,458.0 L133.00,460.6 L134.60,458.0 Z" fill="#111"/>
<text x="143.10" y="461.00" font-size="8.5" fill="#2a2a2a" textLength="40.70" lengthAdjust="spacingAndGlyphs" stroke="#2a2a2a" stroke-width="0.15" >EGFR (Y845)</text>
<line x1="214.50" y1="458.00" x2="292.20" y2="458.00" stroke="#222" stroke-width="1.0" />
<path d="M290.00,455.4 L296.20,458.0 L290.00,460.6 L291.60,458.0 Z" fill="#111"/>
<text x="300.80" y="461.00" font-size="8.5" fill="#2a2a2a" textLength="35.40" lengthAdjust="spacingAndGlyphs" stroke="#2a2a2a" stroke-width="0.15" >AKT (S473)</text>
<line x1="365.50" y1="458.00" x2="433.20" y2="458.00" stroke="#222" stroke-width="1.0" />
<path d="M431.00,455.4 L437.20,458.0 L431.00,460.6 L432.60,458.0 Z" fill="#111"/>
<text x="440.80" y="461.00" font-size="8.5" fill="#2a2a2a" textLength="47.70" lengthAdjust="spacingAndGlyphs" stroke="#2a2a2a" stroke-width="0.15" >mTOR (S2448)</text>
<g>
<path d="M97.00,325.30 L97.42,324.43 L98.01,323.36 L98.69,321.89 L99.38,319.69 L100.00,316.69 L100.55,313.09 L101.08,307.79 L101.60,302.69 L102.07,297.02 L102.50,291.51 L102.86,286.60 L103.15,280.85 L103.41,275.80 L103.68,270.63 L104.00,266.42 L104.38,263.01 L104.79,260.01 L105.21,256.80 L105.62,254.93 L106.00,254.24 L106.33,254.66 L106.62,255.61 L106.90,257.44 L107.18,260.26 L107.50,262.21 L107.82,265.62 L108.14,268.50 L108.48,272.02 L108.89,275.85 L109.40,279.97 L110.02,284.68 L110.74,289.04 L111.52,294.20 L112.35,298.84 L113.20,302.61 L114.09,305.98 L115.04,308.42 L116.02,310.83 L116.98,313.07 L117.90,315.38 L118.74,316.98 L119.54,318.41 L120.32,319.89 L121.13,320.91 L122.00,321.95 L122.94,322.82 L123.94,323.52 L124.96,324.07 L125.99,324.52 L127.00,324.88 L128.08,325.13 L129.24,325.25 L130.36,325.28 L131.32,325.28 L132.00,325.30 L132.00,325.30 L97.00,325.30 Z" fill="#6eb958" fill-opacity="0.33" stroke="none"/>
<path d="M97.00,325.30 L97.42,324.43 L98.01,323.36 L98.69,321.89 L99.38,319.69 L100.00,316.69 L100.55,313.09 L101.08,307.79 L101.60,302.69 L102.07,297.02 L102.50,291.51 L102.86,286.60 L103.15,280.85 L103.41,275.80 L103.68,270.63 L104.00,266.42 L104.38,263.01 L104.79,260.01 L105.21,256.80 L105.62,254.93 L106.00,254.24 L106.33,254.66 L106.62,255.61 L106.90,257.44 L107.18,260.26 L107.50,262.21 L107.82,265.62 L108.14,268.50 L108.48,272.02 L108.89,275.85 L109.40,279.97 L110.02,284.68 L110.74,289.04 L111.52,294.20 L112.35,298.84 L113.20,302.61 L114.09,305.98 L115.04,308.42 L116.02,310.83 L116.98,313.07 L117.90,315.38 L118.74,316.98 L119.54,318.41 L120.32,319.89 L121.13,320.91 L122.00,321.95 L122.94,322.82 L123.94,323.52 L124.96,324.07 L125.99,324.52 L127.00,324.88 L128.08,325.13 L129.24,325.25 L130.36,325.28 L131.32,325.28 L132.00,325.30" fill="none" stroke="#3f9a4a" stroke-width="1.05" stroke-linejoin="round"/>
<path d="M96.00,325.30 L96.43,324.71 L97.06,324.07 L97.76,323.05 L98.45,321.34 L99.00,318.46 L99.39,315.05 L99.70,310.40 L99.96,304.70 L100.22,298.78 L100.50,291.84 L100.80,282.88 L101.08,271.26 L101.38,259.43 L101.71,250.71 L102.10,245.52 L102.56,247.05 L103.08,252.97 L103.63,260.67 L104.18,269.53 L104.70,276.43 L105.18,282.85 L105.66,288.95 L106.12,294.62 L106.56,300.13 L107.00,304.24 L107.40,308.09 L107.77,310.87 L108.14,313.17 L108.54,315.06 L109.00,317.17 L109.49,318.90 L109.98,319.92 L110.54,321.15 L111.19,321.97 L112.00,322.79 L112.99,323.48 L114.14,323.98 L115.38,324.35 L116.69,324.63 L118.00,324.88 L119.45,325.08 L121.06,325.19 L122.66,325.24 L124.03,325.27 L125.00,325.30 L125.00,325.30 L96.00,325.30 Z" fill="#4f58a1" fill-opacity="0.33" stroke="none"/>
<path d="M96.00,325.30 L96.43,324.71 L97.06,324.07 L97.76,323.05 L98.45,321.34 L99.00,318.46 L99.39,315.05 L99.70,310.40 L99.96,304.70 L100.22,298.78 L100.50,291.84 L100.80,282.88 L101.08,271.26 L101.38,259.43 L101.71,250.71 L102.10,245.52 L102.56,247.05 L103.08,252.97 L103.63,260.67 L104.18,269.53 L104.70,276.43 L105.18,282.85 L105.66,288.95 L106.12,294.62 L106.56,300.13 L107.00,304.24 L107.40,308.09 L107.77,310.87 L108.14,313.17 L108.54,315.06 L109.00,317.17 L109.49,318.90 L109.98,319.92 L110.54,321.15 L111.19,321.97 L112.00,322.79 L112.99,323.48 L114.14,323.98 L115.38,324.35 L116.69,324.63 L118.00,324.88 L119.45,325.08 L121.06,325.19 L122.66,325.24 L124.03,325.27 L125.00,325.30" fill="none" stroke="#2b4a8c" stroke-width="1.05" stroke-linejoin="round"/>
<path d="M99.00,325.30 L99.40,324.58 L99.96,323.67 L100.62,322.45 L101.32,320.49 L102.00,318.75 L102.68,315.95 L103.41,312.95 L104.15,309.13 L104.86,304.61 L105.50,300.11 L106.08,294.90 L106.61,288.20 L107.10,282.02 L107.56,275.73 L108.00,270.63 L108.41,266.50 L108.78,263.46 L109.12,260.11 L109.46,257.97 L109.80,256.59 L110.13,256.26 L110.45,255.80 L110.77,256.83 L111.11,258.24 L111.50,260.28 L111.93,262.70 L112.38,265.92 L112.86,269.14 L113.40,273.03 L114.00,276.66 L114.68,280.72 L115.43,284.68 L116.22,288.02 L117.05,291.71 L117.90,294.98 L118.75,297.61 L119.61,299.97 L120.51,302.00 L121.47,303.72 L122.50,305.70 L123.64,308.51 L124.86,311.19 L126.14,314.04 L127.43,316.82 L128.70,318.74 L129.80,320.28 L130.75,321.62 L131.78,322.72 L133.09,323.60 L134.90,324.30 L137.11,324.74 L139.58,324.89 L142.46,324.88 L145.88,324.81 L150.00,324.80 L155.40,324.85 L161.98,324.90 L168.87,324.92 L175.17,324.89 L180.00,324.80 L183.02,324.60 L184.83,324.31 L185.93,323.99 L186.82,323.68 L188.00,323.46 L189.46,323.30 L190.87,323.16 L192.25,323.08 L193.62,323.06 L195.00,323.12 L196.37,323.33 L197.70,323.65 L199.06,324.03 L200.47,324.38 L202.00,324.63 L203.82,324.76 L205.89,324.83 L207.95,324.86 L209.74,324.87 L211.00,324.88 L211.00,325.30 L99.00,325.30 Z" fill="#cb522e" fill-opacity="0.33" stroke="none"/>
<path d="M99.00,325.30 L99.40,324.58 L99.96,323.67 L100.62,322.45 L101.32,320.49 L102.00,318.75 L102.68,315.95 L103.41,312.95 L104.15,309.13 L104.86,304.61 L105.50,300.11 L106.08,294.90 L106.61,288.20 L107.10,282.02 L107.56,275.73 L108.00,270.63 L108.41,266.50 L108.78,263.46 L109.12,260.11 L109.46,257.97 L109.80,256.59 L110.13,256.26 L110.45,255.80 L110.77,256.83 L111.11,258.24 L111.50,260.28 L111.93,262.70 L112.38,265.92 L112.86,269.14 L113.40,273.03 L114.00,276.66 L114.68,280.72 L115.43,284.68 L116.22,288.02 L117.05,291.71 L117.90,294.98 L118.75,297.61 L119.61,299.97 L120.51,302.00 L121.47,303.72 L122.50,305.70 L123.64,308.51 L124.86,311.19 L126.14,314.04 L127.43,316.82 L128.70,318.74 L129.80,320.28 L130.75,321.62 L131.78,322.72 L133.09,323.60 L134.90,324.30 L137.11,324.74 L139.58,324.89 L142.46,324.88 L145.88,324.81 L150.00,324.80 L155.40,324.85 L161.98,324.90 L168.87,324.92 L175.17,324.89 L180.00,324.80 L183.02,324.60 L184.83,324.31 L185.93,323.99 L186.82,323.68 L188.00,323.46 L189.46,323.30 L190.87,323.16 L192.25,323.08 L193.62,323.06 L195.00,323.12 L196.37,323.33 L197.70,323.65 L199.06,324.03 L200.47,324.38 L202.00,324.63 L203.82,324.76 L205.89,324.83 L207.95,324.86 L209.74,324.87 L211.00,324.88" fill="none" stroke="#b81e3c" stroke-width="1.05" stroke-linejoin="round"/>
</g>
<rect x="64.30" y="237.30" width="147.20" height="88.00" fill="none" stroke="#111" stroke-width="1.2" />
<line x1="61.30" y1="325.30" x2="64.30" y2="325.30" stroke="#111" stroke-width="0.8" />
<line x1="62.50" y1="321.12" x2="64.30" y2="321.12" stroke="#111" stroke-width="0.8" />
<line x1="62.50" y1="316.93" x2="64.30" y2="316.93" stroke="#111" stroke-width="0.8" />
<line x1="62.50" y1="312.75" x2="64.30" y2="312.75" stroke="#111" stroke-width="0.8" />
<line x1="61.30" y1="308.56" x2="64.30" y2="308.56" stroke="#111" stroke-width="0.8" />
<line x1="62.50" y1="304.38" x2="64.30" y2="304.38" stroke="#111" stroke-width="0.8" />
<line x1="62.50" y1="300.19" x2="64.30" y2="300.19" stroke="#111" stroke-width="0.8" />
<line x1="62.50" y1="296.00" x2="64.30" y2="296.00" stroke="#111" stroke-width="0.8" />
<line x1="61.30" y1="291.82" x2="64.30" y2="291.82" stroke="#111" stroke-width="0.8" />
<line x1="62.50" y1="287.63" x2="64.30" y2="287.63" stroke="#111" stroke-width="0.8" />
<line x1="62.50" y1="283.45" x2="64.30" y2="283.45" stroke="#111" stroke-width="0.8" />
<line x1="62.50" y1="279.27" x2="64.30" y2="279.27" stroke="#111" stroke-width="0.8" />
<line x1="61.30" y1="275.08" x2="64.30" y2="275.08" stroke="#111" stroke-width="0.8" />
<line x1="62.50" y1="270.90" x2="64.30" y2="270.90" stroke="#111" stroke-width="0.8" />
<line x1="62.50" y1="266.71" x2="64.30" y2="266.71" stroke="#111" stroke-width="0.8" />
<line x1="62.50" y1="262.53" x2="64.30" y2="262.53" stroke="#111" stroke-width="0.8" />
<line x1="61.30" y1="258.34" x2="64.30" y2="258.34" stroke="#111" stroke-width="0.8" />
<line x1="62.50" y1="254.16" x2="64.30" y2="254.16" stroke="#111" stroke-width="0.8" />
<line x1="62.50" y1="249.97" x2="64.30" y2="249.97" stroke="#111" stroke-width="0.8" />
<line x1="62.50" y1="245.79" x2="64.30" y2="245.79" stroke="#111" stroke-width="0.8" />
<line x1="61.30" y1="241.60" x2="64.30" y2="241.60" stroke="#111" stroke-width="0.8" />
<line x1="72.60" y1="325.30" x2="72.60" y2="327.90" stroke="#111" stroke-width="0.8" />
<line x1="100.60" y1="325.30" x2="100.60" y2="327.90" stroke="#111" stroke-width="0.8" />
<line x1="122.80" y1="325.30" x2="122.80" y2="327.90" stroke="#111" stroke-width="0.8" />
<line x1="162.60" y1="325.30" x2="162.60" y2="327.90" stroke="#111" stroke-width="0.8" />
<line x1="195.00" y1="325.30" x2="195.00" y2="327.90" stroke="#111" stroke-width="0.8" />
<line x1="78.20" y1="325.30" x2="78.20" y2="326.80" stroke="#111" stroke-width="0.6" />
<line x1="83.80" y1="325.30" x2="83.80" y2="326.80" stroke="#111" stroke-width="0.6" />
<line x1="88.00" y1="325.30" x2="88.00" y2="326.80" stroke="#111" stroke-width="0.6" />
<line x1="91.64" y1="325.30" x2="91.64" y2="326.80" stroke="#111" stroke-width="0.6" />
<line x1="94.44" y1="325.30" x2="94.44" y2="326.80" stroke="#111" stroke-width="0.6" />
<line x1="96.68" y1="325.30" x2="96.68" y2="326.80" stroke="#111" stroke-width="0.6" />
<line x1="98.36" y1="325.30" x2="98.36" y2="326.80" stroke="#111" stroke-width="0.6" />
<line x1="99.48" y1="325.30" x2="99.48" y2="326.80" stroke="#111" stroke-width="0.6" />
<line x1="102.38" y1="325.30" x2="102.38" y2="326.80" stroke="#111" stroke-width="0.6" />
<line x1="104.60" y1="325.30" x2="104.60" y2="326.80" stroke="#111" stroke-width="0.6" />
<line x1="107.26" y1="325.30" x2="107.26" y2="326.80" stroke="#111" stroke-width="0.6" />
<line x1="110.59" y1="325.30" x2="110.59" y2="326.80" stroke="#111" stroke-width="0.6" />
<line x1="115.03" y1="325.30" x2="115.03" y2="326.80" stroke="#111" stroke-width="0.6" />
<line x1="119.47" y1="325.30" x2="119.47" y2="326.80" stroke="#111" stroke-width="0.6" />
<line x1="134.74" y1="325.30" x2="134.74" y2="326.80" stroke="#111" stroke-width="0.6" />
<line x1="172.32" y1="325.30" x2="172.32" y2="326.80" stroke="#111" stroke-width="0.6" />
<line x1="141.90" y1="325.30" x2="141.90" y2="326.80" stroke="#111" stroke-width="0.6" />
<line x1="178.15" y1="325.30" x2="178.15" y2="326.80" stroke="#111" stroke-width="0.6" />
<line x1="146.68" y1="325.30" x2="146.68" y2="326.80" stroke="#111" stroke-width="0.6" />
<line x1="182.04" y1="325.30" x2="182.04" y2="326.80" stroke="#111" stroke-width="0.6" />
<line x1="150.66" y1="325.30" x2="150.66" y2="326.80" stroke="#111" stroke-width="0.6" />
<line x1="185.28" y1="325.30" x2="185.28" y2="326.80" stroke="#111" stroke-width="0.6" />
<line x1="153.84" y1="325.30" x2="153.84" y2="326.80" stroke="#111" stroke-width="0.6" />
<line x1="187.87" y1="325.30" x2="187.87" y2="326.80" stroke="#111" stroke-width="0.6" />
<line x1="156.63" y1="325.30" x2="156.63" y2="326.80" stroke="#111" stroke-width="0.6" />
<line x1="190.14" y1="325.30" x2="190.14" y2="326.80" stroke="#111" stroke-width="0.6" />
<line x1="158.62" y1="325.30" x2="158.62" y2="326.80" stroke="#111" stroke-width="0.6" />
<line x1="191.76" y1="325.30" x2="191.76" y2="326.80" stroke="#111" stroke-width="0.6" />
<line x1="160.61" y1="325.30" x2="160.61" y2="326.80" stroke="#111" stroke-width="0.6" />
<line x1="193.38" y1="325.30" x2="193.38" y2="326.80" stroke="#111" stroke-width="0.6" />
<text x="65.60" y="338.70" font-size="7.2" fill="#333" textLength="10.40" lengthAdjust="spacingAndGlyphs" stroke="#333" stroke-width="0.15" >−10</text>
<text x="76.10" y="335.30" font-size="4.4" fill="#333" stroke="#333" stroke-width="0.15" >3</text>
<text x="100.60" y="338.70" font-size="7.2" fill="#333" text-anchor="middle" stroke="#333" stroke-width="0.15" >0</text>
<text x="118.60" y="338.70" font-size="7.2" fill="#333" textLength="6.80" lengthAdjust="spacingAndGlyphs" stroke="#333" stroke-width="0.15" >10</text>
<text x="125.50" y="335.30" font-size="4.4" fill="#333" stroke="#333" stroke-width="0.15" >3</text>
<text x="158.40" y="338.70" font-size="7.2" fill="#333" textLength="6.80" lengthAdjust="spacingAndGlyphs" stroke="#333" stroke-width="0.15" >10</text>
<text x="165.30" y="335.30" font-size="4.4" fill="#333" stroke="#333" stroke-width="0.15" >4</text>
<text x="190.80" y="338.70" font-size="7.2" fill="#333" textLength="6.80" lengthAdjust="spacingAndGlyphs" stroke="#333" stroke-width="0.15" >10</text>
<text x="197.70" y="335.30" font-size="4.4" fill="#333" stroke="#333" stroke-width="0.15" >5</text>
<text x="58.00" y="327.80" font-size="7.2" fill="#333" text-anchor="end" textLength="3.90" lengthAdjust="spacingAndGlyphs" stroke="#333" stroke-width="0.15" >0</text>
<text x="58.00" y="311.06" font-size="7.2" fill="#333" text-anchor="end" textLength="7.60" lengthAdjust="spacingAndGlyphs" stroke="#333" stroke-width="0.15" >20</text>
<text x="58.00" y="294.32" font-size="7.2" fill="#333" text-anchor="end" textLength="7.60" lengthAdjust="spacingAndGlyphs" stroke="#333" stroke-width="0.15" >40</text>
<text x="58.00" y="277.58" font-size="7.2" fill="#333" text-anchor="end" textLength="7.60" lengthAdjust="spacingAndGlyphs" stroke="#333" stroke-width="0.15" >60</text>
<text x="58.00" y="260.84" font-size="7.2" fill="#333" text-anchor="end" textLength="7.60" lengthAdjust="spacingAndGlyphs" stroke="#333" stroke-width="0.15" >80</text>
<text x="58.00" y="244.10" font-size="7.2" fill="#333" text-anchor="end" textLength="10.60" lengthAdjust="spacingAndGlyphs" stroke="#333" stroke-width="0.15" >100</text>
<g>
<path d="M249.50,325.30 L249.84,323.99 L250.32,322.39 L250.88,320.26 L251.46,317.19 L252.00,312.43 L252.50,306.97 L253.00,299.31 L253.50,291.05 L254.00,282.72 L254.50,275.00 L255.01,267.83 L255.52,260.18 L256.04,253.71 L256.53,247.96 L257.00,244.98 L257.41,244.89 L257.76,246.87 L258.12,250.58 L258.51,254.90 L259.00,259.66 L259.62,265.47 L260.34,272.47 L261.10,280.09 L261.84,286.80 L262.50,292.92 L263.06,296.61 L263.57,299.12 L264.05,301.34 L264.52,303.24 L265.00,305.12 L265.48,306.78 L265.95,308.83 L266.43,310.32 L266.94,311.29 L267.50,312.73 L268.13,314.02 L268.80,315.64 L269.52,317.40 L270.25,318.82 L271.00,320.51 L271.75,321.38 L272.52,322.35 L273.30,323.19 L274.13,323.89 L275.00,324.46 L276.02,324.86 L277.17,325.08 L278.31,325.19 L279.30,325.24 L280.00,325.30 L280.00,325.30 L249.50,325.30 Z" fill="#6eb958" fill-opacity="0.33" stroke="none"/>
<path d="M249.50,325.30 L249.84,323.99 L250.32,322.39 L250.88,320.26 L251.46,317.19 L252.00,312.43 L252.50,306.97 L253.00,299.31 L253.50,291.05 L254.00,282.72 L254.50,275.00 L255.01,267.83 L255.52,260.18 L256.04,253.71 L256.53,247.96 L257.00,244.98 L257.41,244.89 L257.76,246.87 L258.12,250.58 L258.51,254.90 L259.00,259.66 L259.62,265.47 L260.34,272.47 L261.10,280.09 L261.84,286.80 L262.50,292.92 L263.06,296.61 L263.57,299.12 L264.05,301.34 L264.52,303.24 L265.00,305.12 L265.48,306.78 L265.95,308.83 L266.43,310.32 L266.94,311.29 L267.50,312.73 L268.13,314.02 L268.80,315.64 L269.52,317.40 L270.25,318.82 L271.00,320.51 L271.75,321.38 L272.52,322.35 L273.30,323.19 L274.13,323.89 L275.00,324.46 L276.02,324.86 L277.17,325.08 L278.31,325.19 L279.30,325.24 L280.00,325.30" fill="none" stroke="#3f9a4a" stroke-width="1.05" stroke-linejoin="round"/>
<path d="M248.50,325.30 L248.86,323.43 L249.37,320.78 L249.95,317.53 L250.52,314.10 L251.00,308.58 L251.37,301.17 L251.68,292.53 L251.96,282.64 L252.23,274.00 L252.50,267.04 L252.77,261.33 L253.02,256.43 L253.26,252.32 L253.52,249.69 L253.80,248.06 L254.10,248.41 L254.41,249.48 L254.74,251.95 L255.10,254.69 L255.50,258.15 L255.96,263.03 L256.47,268.75 L257.00,274.70 L257.52,280.46 L258.00,285.35 L258.42,289.08 L258.79,291.88 L259.15,294.86 L259.54,297.37 L260.00,299.86 L260.54,302.74 L261.13,305.79 L261.75,308.56 L262.38,311.44 L263.00,313.90 L263.58,315.49 L264.15,317.52 L264.73,319.01 L265.34,320.28 L266.00,321.02 L266.70,322.12 L267.43,322.95 L268.21,323.62 L269.06,324.17 L270.00,324.63 L271.17,324.96 L272.54,325.14 L273.94,325.22 L275.15,325.25 L276.00,325.30 L276.00,325.30 L248.50,325.30 Z" fill="#4f58a1" fill-opacity="0.33" stroke="none"/>
<path d="M248.50,325.30 L248.86,323.43 L249.37,320.78 L249.95,317.53 L250.52,314.10 L251.00,308.58 L251.37,301.17 L251.68,292.53 L251.96,282.64 L252.23,274.00 L252.50,267.04 L252.77,261.33 L253.02,256.43 L253.26,252.32 L253.52,249.69 L253.80,248.06 L254.10,248.41 L254.41,249.48 L254.74,251.95 L255.10,254.69 L255.50,258.15 L255.96,263.03 L256.47,268.75 L257.00,274.70 L257.52,280.46 L258.00,285.35 L258.42,289.08 L258.79,291.88 L259.15,294.86 L259.54,297.37 L260.00,299.86 L260.54,302.74 L261.13,305.79 L261.75,308.56 L262.38,311.44 L263.00,313.90 L263.58,315.49 L264.15,317.52 L264.73,319.01 L265.34,320.28 L266.00,321.02 L266.70,322.12 L267.43,322.95 L268.21,323.62 L269.06,324.17 L270.00,324.63 L271.17,324.96 L272.54,325.14 L273.94,325.22 L275.15,325.25 L276.00,325.30" fill="none" stroke="#2b4a8c" stroke-width="1.05" stroke-linejoin="round"/>
<path d="M236.00,325.30 L236.54,324.66 L237.31,323.77 L238.21,322.71 L239.14,321.52 L240.00,319.83 L240.81,318.50 L241.62,316.96 L242.44,315.41 L243.23,314.49 L244.00,313.39 L244.72,311.85 L245.39,309.90 L246.05,308.77 L246.74,307.47 L247.50,304.55 L248.35,303.39 L249.28,301.48 L250.22,298.83 L251.15,296.30 L252.00,293.46 L252.77,290.57 L253.49,289.07 L254.17,285.89 L254.84,284.33 L255.50,282.53 L256.17,279.78 L256.84,278.14 L257.50,277.53 L258.12,275.83 L258.70,273.72 L259.19,272.66 L259.60,271.97 L260.00,272.52 L260.45,271.60 L261.00,269.49 L261.71,269.08 L262.53,267.50 L263.39,265.07 L264.24,262.81 L265.00,261.77 L265.68,260.14 L266.32,259.24 L266.92,260.29 L267.48,259.50 L268.00,259.22 L268.45,260.15 L268.82,260.00 L269.18,261.46 L269.55,262.00 L270.00,261.23 L270.54,260.89 L271.13,260.12 L271.75,259.06 L272.38,258.81 L273.00,257.95 L273.60,258.55 L274.20,258.89 L274.80,261.11 L275.40,261.05 L276.00,261.62 L276.60,261.59 L277.20,261.43 L277.80,259.85 L278.40,260.01 L279.00,259.18 L279.60,259.61 L280.20,260.33 L280.80,260.48 L281.40,262.21 L282.00,262.85 L282.62,263.61 L283.26,265.98 L283.89,266.15 L284.48,267.87 L285.00,269.58 L285.44,270.66 L285.80,271.67 L286.13,273.45 L286.45,275.10 L286.80,277.21 L287.15,278.10 L287.49,281.00 L287.83,282.78 L288.23,285.10 L288.70,288.07 L289.28,289.75 L289.93,291.93 L290.63,294.30 L291.34,296.50 L292.00,297.59 L292.61,299.53 L293.19,300.88 L293.76,302.34 L294.36,304.05 L295.00,305.14 L295.69,306.79 L296.42,308.23 L297.18,310.50 L297.94,311.61 L298.70,313.35 L299.46,314.91 L300.23,315.28 L301.00,317.17 L301.76,319.07 L302.50,319.98 L303.21,319.71 L303.90,320.34 L304.58,321.47 L305.27,321.93 L306.00,322.37 L306.67,322.81 L307.28,323.19 L307.94,323.53 L308.81,323.81 L310.00,324.04 L311.54,324.22 L313.33,324.33 L315.35,324.40 L317.58,324.44 L320.00,324.46 L322.76,324.48 L325.88,324.46 L329.12,324.43 L332.24,324.37 L335.00,324.30 L337.37,324.20 L339.50,324.08 L341.46,323.94 L343.27,323.79 L345.00,323.63 L346.64,323.42 L348.16,323.17 L349.56,322.92 L350.84,322.73 L352.00,322.62 L353.01,322.63 L353.86,322.73 L354.62,322.88 L355.31,323.05 L356.00,323.21 L356.67,323.42 L357.30,323.71 L357.88,323.97 L358.45,324.11 L359.00,324.04 L359.57,323.65 L360.16,323.00 L360.70,322.26 L361.17,321.57 L361.50,321.02 L361.50,325.30 L236.00,325.30 Z" fill="#cb522e" fill-opacity="0.33" stroke="none"/>
<path d="M236.00,325.30 L236.54,324.66 L237.31,323.77 L238.21,322.71 L239.14,321.52 L240.00,319.83 L240.81,318.50 L241.62,316.96 L242.44,315.41 L243.23,314.49 L244.00,313.39 L244.72,311.85 L245.39,309.90 L246.05,308.77 L246.74,307.47 L247.50,304.55 L248.35,303.39 L249.28,301.48 L250.22,298.83 L251.15,296.30 L252.00,293.46 L252.77,290.57 L253.49,289.07 L254.17,285.89 L254.84,284.33 L255.50,282.53 L256.17,279.78 L256.84,278.14 L257.50,277.53 L258.12,275.83 L258.70,273.72 L259.19,272.66 L259.60,271.97 L260.00,272.52 L260.45,271.60 L261.00,269.49 L261.71,269.08 L262.53,267.50 L263.39,265.07 L264.24,262.81 L265.00,261.77 L265.68,260.14 L266.32,259.24 L266.92,260.29 L267.48,259.50 L268.00,259.22 L268.45,260.15 L268.82,260.00 L269.18,261.46 L269.55,262.00 L270.00,261.23 L270.54,260.89 L271.13,260.12 L271.75,259.06 L272.38,258.81 L273.00,257.95 L273.60,258.55 L274.20,258.89 L274.80,261.11 L275.40,261.05 L276.00,261.62 L276.60,261.59 L277.20,261.43 L277.80,259.85 L278.40,260.01 L279.00,259.18 L279.60,259.61 L280.20,260.33 L280.80,260.48 L281.40,262.21 L282.00,262.85 L282.62,263.61 L283.26,265.98 L283.89,266.15 L284.48,267.87 L285.00,269.58 L285.44,270.66 L285.80,271.67 L286.13,273.45 L286.45,275.10 L286.80,277.21 L287.15,278.10 L287.49,281.00 L287.83,282.78 L288.23,285.10 L288.70,288.07 L289.28,289.75 L289.93,291.93 L290.63,294.30 L291.34,296.50 L292.00,297.59 L292.61,299.53 L293.19,300.88 L293.76,302.34 L294.36,304.05 L295.00,305.14 L295.69,306.79 L296.42,308.23 L297.18,310.50 L297.94,311.61 L298.70,313.35 L299.46,314.91 L300.23,315.28 L301.00,317.17 L301.76,319.07 L302.50,319.98 L303.21,319.71 L303.90,320.34 L304.58,321.47 L305.27,321.93 L306.00,322.37 L306.67,322.81 L307.28,323.19 L307.94,323.53 L308.81,323.81 L310.00,324.04 L311.54,324.22 L313.33,324.33 L315.35,324.40 L317.58,324.44 L320.00,324.46 L322.76,324.48 L325.88,324.46 L329.12,324.43 L332.24,324.37 L335.00,324.30 L337.37,324.20 L339.50,324.08 L341.46,323.94 L343.27,323.79 L345.00,323.63 L346.64,323.42 L348.16,323.17 L349.56,322.92 L350.84,322.73 L352.00,322.62 L353.01,322.63 L353.86,322.73 L354.62,322.88 L355.31,323.05 L356.00,323.21 L356.67,323.42 L357.30,323.71 L357.88,323.97 L358.45,324.11 L359.00,324.04 L359.57,323.65 L360.16,323.00 L360.70,322.26 L361.17,321.57 L361.50,321.02" fill="none" stroke="#b81e3c" stroke-width="1.05" stroke-linejoin="round"/>
</g>
<rect x="216.20" y="237.30" width="145.30" height="88.00" fill="none" stroke="#111" stroke-width="1.2" />
<line x1="213.20" y1="325.30" x2="216.20" y2="325.30" stroke="#111" stroke-width="0.8" />
<line x1="214.40" y1="321.12" x2="216.20" y2="321.12" stroke="#111" stroke-width="0.8" />
<line x1="214.40" y1="316.93" x2="216.20" y2="316.93" stroke="#111" stroke-width="0.8" />
<line x1="214.40" y1="312.75" x2="216.20" y2="312.75" stroke="#111" stroke-width="0.8" />
<line x1="213.20" y1="308.56" x2="216.20" y2="308.56" stroke="#111" stroke-width="0.8" />
<line x1="214.40" y1="304.38" x2="216.20" y2="304.38" stroke="#111" stroke-width="0.8" />
<line x1="214.40" y1="300.19" x2="216.20" y2="300.19" stroke="#111" stroke-width="0.8" />
<line x1="214.40" y1="296.00" x2="216.20" y2="296.00" stroke="#111" stroke-width="0.8" />
<line x1="213.20" y1="291.82" x2="216.20" y2="291.82" stroke="#111" stroke-width="0.8" />
<line x1="214.40" y1="287.63" x2="216.20" y2="287.63" stroke="#111" stroke-width="0.8" />
<line x1="214.40" y1="283.45" x2="216.20" y2="283.45" stroke="#111" stroke-width="0.8" />
<line x1="214.40" y1="279.27" x2="216.20" y2="279.27" stroke="#111" stroke-width="0.8" />
<line x1="213.20" y1="275.08" x2="216.20" y2="275.08" stroke="#111" stroke-width="0.8" />
<line x1="214.40" y1="270.90" x2="216.20" y2="270.90" stroke="#111" stroke-width="0.8" />
<line x1="214.40" y1="266.71" x2="216.20" y2="266.71" stroke="#111" stroke-width="0.8" />
<line x1="214.40" y1="262.53" x2="216.20" y2="262.53" stroke="#111" stroke-width="0.8" />
<line x1="213.20" y1="258.34" x2="216.20" y2="258.34" stroke="#111" stroke-width="0.8" />
<line x1="214.40" y1="254.16" x2="216.20" y2="254.16" stroke="#111" stroke-width="0.8" />
<line x1="214.40" y1="249.97" x2="216.20" y2="249.97" stroke="#111" stroke-width="0.8" />
<line x1="214.40" y1="245.79" x2="216.20" y2="245.79" stroke="#111" stroke-width="0.8" />
<line x1="213.20" y1="241.60" x2="216.20" y2="241.60" stroke="#111" stroke-width="0.8" />
<line x1="223.80" y1="325.30" x2="223.80" y2="327.90" stroke="#111" stroke-width="0.8" />
<line x1="251.50" y1="325.30" x2="251.50" y2="327.90" stroke="#111" stroke-width="0.8" />
<line x1="273.00" y1="325.30" x2="273.00" y2="327.90" stroke="#111" stroke-width="0.8" />
<line x1="313.00" y1="325.30" x2="313.00" y2="327.90" stroke="#111" stroke-width="0.8" />
<line x1="348.60" y1="325.30" x2="348.60" y2="327.90" stroke="#111" stroke-width="0.8" />
<line x1="229.34" y1="325.30" x2="229.34" y2="326.80" stroke="#111" stroke-width="0.6" />
<line x1="234.88" y1="325.30" x2="234.88" y2="326.80" stroke="#111" stroke-width="0.6" />
<line x1="239.03" y1="325.30" x2="239.03" y2="326.80" stroke="#111" stroke-width="0.6" />
<line x1="242.64" y1="325.30" x2="242.64" y2="326.80" stroke="#111" stroke-width="0.6" />
<line x1="245.41" y1="325.30" x2="245.41" y2="326.80" stroke="#111" stroke-width="0.6" />
<line x1="247.62" y1="325.30" x2="247.62" y2="326.80" stroke="#111" stroke-width="0.6" />
<line x1="249.28" y1="325.30" x2="249.28" y2="326.80" stroke="#111" stroke-width="0.6" />
<line x1="250.39" y1="325.30" x2="250.39" y2="326.80" stroke="#111" stroke-width="0.6" />
<line x1="253.22" y1="325.30" x2="253.22" y2="326.80" stroke="#111" stroke-width="0.6" />
<line x1="255.37" y1="325.30" x2="255.37" y2="326.80" stroke="#111" stroke-width="0.6" />
<line x1="257.95" y1="325.30" x2="257.95" y2="326.80" stroke="#111" stroke-width="0.6" />
<line x1="261.18" y1="325.30" x2="261.18" y2="326.80" stroke="#111" stroke-width="0.6" />
<line x1="265.48" y1="325.30" x2="265.48" y2="326.80" stroke="#111" stroke-width="0.6" />
<line x1="269.77" y1="325.30" x2="269.77" y2="326.80" stroke="#111" stroke-width="0.6" />
<line x1="285.00" y1="325.30" x2="285.00" y2="326.80" stroke="#111" stroke-width="0.6" />
<line x1="323.68" y1="325.30" x2="323.68" y2="326.80" stroke="#111" stroke-width="0.6" />
<line x1="292.20" y1="325.30" x2="292.20" y2="326.80" stroke="#111" stroke-width="0.6" />
<line x1="330.09" y1="325.30" x2="330.09" y2="326.80" stroke="#111" stroke-width="0.6" />
<line x1="297.00" y1="325.30" x2="297.00" y2="326.80" stroke="#111" stroke-width="0.6" />
<line x1="334.36" y1="325.30" x2="334.36" y2="326.80" stroke="#111" stroke-width="0.6" />
<line x1="301.00" y1="325.30" x2="301.00" y2="326.80" stroke="#111" stroke-width="0.6" />
<line x1="337.92" y1="325.30" x2="337.92" y2="326.80" stroke="#111" stroke-width="0.6" />
<line x1="304.20" y1="325.30" x2="304.20" y2="326.80" stroke="#111" stroke-width="0.6" />
<line x1="340.77" y1="325.30" x2="340.77" y2="326.80" stroke="#111" stroke-width="0.6" />
<line x1="307.00" y1="325.30" x2="307.00" y2="326.80" stroke="#111" stroke-width="0.6" />
<line x1="343.26" y1="325.30" x2="343.26" y2="326.80" stroke="#111" stroke-width="0.6" />
<line x1="309.00" y1="325.30" x2="309.00" y2="326.80" stroke="#111" stroke-width="0.6" />
<line x1="345.04" y1="325.30" x2="345.04" y2="326.80" stroke="#111" stroke-width="0.6" />
<line x1="311.00" y1="325.30" x2="311.00" y2="326.80" stroke="#111" stroke-width="0.6" />
<line x1="346.82" y1="325.30" x2="346.82" y2="326.80" stroke="#111" stroke-width="0.6" />
<text x="216.80" y="338.70" font-size="7.2" fill="#333" textLength="10.40" lengthAdjust="spacingAndGlyphs" stroke="#333" stroke-width="0.15" >−10</text>
<text x="227.30" y="335.30" font-size="4.4" fill="#333" stroke="#333" stroke-width="0.15" >3</text>
<text x="251.50" y="338.70" font-size="7.2" fill="#333" text-anchor="middle" stroke="#333" stroke-width="0.15" >0</text>
<text x="268.80" y="338.70" font-size="7.2" fill="#333" textLength="6.80" lengthAdjust="spacingAndGlyphs" stroke="#333" stroke-width="0.15" >10</text>
<text x="275.70" y="335.30" font-size="4.4" fill="#333" stroke="#333" stroke-width="0.15" >3</text>
<text x="308.80" y="338.70" font-size="7.2" fill="#333" textLength="6.80" lengthAdjust="spacingAndGlyphs" stroke="#333" stroke-width="0.15" >10</text>
<text x="315.70" y="335.30" font-size="4.4" fill="#333" stroke="#333" stroke-width="0.15" >4</text>
<text x="344.40" y="338.70" font-size="7.2" fill="#333" textLength="6.80" lengthAdjust="spacingAndGlyphs" stroke="#333" stroke-width="0.15" >10</text>
<text x="351.30" y="335.30" font-size="4.4" fill="#333" stroke="#333" stroke-width="0.15" >5</text>
<g>
<path d="M399.00,325.30 L399.41,324.43 L399.98,323.36 L400.66,321.89 L401.35,319.51 L402.00,316.75 L402.61,312.68 L403.22,308.21 L403.84,302.87 L404.43,297.39 L405.00,291.58 L405.53,286.74 L406.04,281.25 L406.52,275.54 L407.01,271.14 L407.50,267.04 L408.01,263.01 L408.52,260.45 L409.04,257.58 L409.53,255.88 L410.00,255.33 L410.42,255.30 L410.79,255.78 L411.15,257.64 L411.54,259.92 L412.00,262.41 L412.54,265.65 L413.15,269.89 L413.79,274.67 L414.42,278.54 L415.00,282.65 L415.53,285.60 L416.04,287.96 L416.52,290.57 L417.01,293.02 L417.50,295.18 L417.96,297.03 L418.38,299.71 L418.82,301.52 L419.34,303.57 L420.00,304.94 L420.84,307.11 L421.82,309.07 L422.88,311.67 L423.96,313.30 L425.00,315.00 L426.00,316.82 L427.00,318.66 L428.00,319.95 L429.00,320.75 L430.00,321.95 L431.00,322.78 L432.00,323.41 L433.00,323.90 L434.00,324.29 L435.00,324.63 L436.08,324.90 L437.24,325.08 L438.36,325.18 L439.32,325.24 L440.00,325.30 L440.00,325.30 L399.00,325.30 Z" fill="#6eb958" fill-opacity="0.33" stroke="none"/>
<path d="M399.00,325.30 L399.41,324.43 L399.98,323.36 L400.66,321.89 L401.35,319.51 L402.00,316.75 L402.61,312.68 L403.22,308.21 L403.84,302.87 L404.43,297.39 L405.00,291.58 L405.53,286.74 L406.04,281.25 L406.52,275.54 L407.01,271.14 L407.50,267.04 L408.01,263.01 L408.52,260.45 L409.04,257.58 L409.53,255.88 L410.00,255.33 L410.42,255.30 L410.79,255.78 L411.15,257.64 L411.54,259.92 L412.00,262.41 L412.54,265.65 L413.15,269.89 L413.79,274.67 L414.42,278.54 L415.00,282.65 L415.53,285.60 L416.04,287.96 L416.52,290.57 L417.01,293.02 L417.50,295.18 L417.96,297.03 L418.38,299.71 L418.82,301.52 L419.34,303.57 L420.00,304.94 L420.84,307.11 L421.82,309.07 L422.88,311.67 L423.96,313.30 L425.00,315.00 L426.00,316.82 L427.00,318.66 L428.00,319.95 L429.00,320.75 L430.00,321.95 L431.00,322.78 L432.00,323.41 L433.00,323.90 L434.00,324.29 L435.00,324.63 L436.08,324.90 L437.24,325.08 L438.36,325.18 L439.32,325.24 L440.00,325.30" fill="none" stroke="#3f9a4a" stroke-width="1.05" stroke-linejoin="round"/>
<path d="M397.50,325.30 L397.85,324.50 L398.34,323.56 L398.92,322.19 L399.49,319.83 L400.00,317.22 L400.43,312.46 L400.84,306.86 L401.22,300.07 L401.61,293.52 L402.00,287.77 L402.41,281.35 L402.82,274.49 L403.24,268.68 L403.63,262.79 L404.00,258.55 L404.32,255.12 L404.61,253.80 L404.89,252.25 L405.18,252.51 L405.50,252.45 L405.86,253.12 L406.24,254.67 L406.64,256.96 L407.06,259.14 L407.50,262.27 L407.98,266.78 L408.49,271.82 L409.01,277.38 L409.52,282.83 L410.00,287.32 L410.44,291.06 L410.85,294.26 L411.24,296.98 L411.62,299.75 L412.00,301.72 L412.37,303.90 L412.72,305.37 L413.06,307.00 L413.42,308.26 L413.80,310.06 L414.20,311.76 L414.62,314.24 L415.06,316.09 L415.52,317.66 L416.00,319.42 L416.48,321.01 L416.96,321.77 L417.48,322.67 L418.08,323.41 L418.80,324.04 L419.77,324.53 L420.96,324.85 L422.18,325.05 L423.25,325.18 L424.00,325.30 L424.00,325.30 L397.50,325.30 Z" fill="#4f58a1" fill-opacity="0.33" stroke="none"/>
<path d="M397.50,325.30 L397.85,324.50 L398.34,323.56 L398.92,322.19 L399.49,319.83 L400.00,317.22 L400.43,312.46 L400.84,306.86 L401.22,300.07 L401.61,293.52 L402.00,287.77 L402.41,281.35 L402.82,274.49 L403.24,268.68 L403.63,262.79 L404.00,258.55 L404.32,255.12 L404.61,253.80 L404.89,252.25 L405.18,252.51 L405.50,252.45 L405.86,253.12 L406.24,254.67 L406.64,256.96 L407.06,259.14 L407.50,262.27 L407.98,266.78 L408.49,271.82 L409.01,277.38 L409.52,282.83 L410.00,287.32 L410.44,291.06 L410.85,294.26 L411.24,296.98 L411.62,299.75 L412.00,301.72 L412.37,303.90 L412.72,305.37 L413.06,307.00 L413.42,308.26 L413.80,310.06 L414.20,311.76 L414.62,314.24 L415.06,316.09 L415.52,317.66 L416.00,319.42 L416.48,321.01 L416.96,321.77 L417.48,322.67 L418.08,323.41 L418.80,324.04 L419.77,324.53 L420.96,324.85 L422.18,325.05 L423.25,325.18 L424.00,325.30" fill="none" stroke="#2b4a8c" stroke-width="1.05" stroke-linejoin="round"/>
<path d="M400.00,325.30 L400.42,324.70 L401.01,323.89 L401.69,322.89 L402.38,321.68 L403.00,320.00 L403.54,318.81 L404.06,316.57 L404.56,314.49 L405.04,312.56 L405.50,310.16 L405.92,308.40 L406.31,306.87 L406.69,305.33 L407.08,302.79 L407.50,300.42 L407.98,296.74 L408.49,292.38 L409.01,287.61 L409.52,283.09 L410.00,278.95 L410.44,275.58 L410.87,272.35 L411.27,269.91 L411.65,267.01 L412.00,264.80 L412.30,262.99 L412.56,262.12 L412.80,261.12 L413.04,260.35 L413.30,259.86 L413.59,260.11 L413.89,260.91 L414.19,262.16 L414.50,263.31 L414.80,265.00 L415.08,266.68 L415.35,269.38 L415.63,271.69 L415.94,273.51 L416.30,274.90 L416.75,276.28 L417.27,276.17 L417.81,276.37 L418.34,276.43 L418.80,277.51 L419.19,279.00 L419.52,280.83 L419.84,282.64 L420.15,284.91 L420.50,286.45 L420.85,288.25 L421.19,289.60 L421.56,291.31 L421.98,292.76 L422.50,294.83 L423.15,297.78 L423.90,301.01 L424.70,304.67 L425.52,307.78 L426.30,310.41 L426.99,312.05 L427.63,313.30 L428.29,314.27 L429.05,314.58 L430.00,315.13 L431.13,316.09 L432.39,315.78 L433.79,316.35 L435.32,316.42 L437.00,316.19 L438.88,316.99 L440.97,317.27 L443.17,317.32 L445.38,317.65 L447.50,317.99 L449.62,317.81 L451.80,318.38 L453.92,318.69 L455.86,319.28 L457.50,319.65 L458.78,320.12 L459.77,320.45 L460.57,321.19 L461.28,321.45 L462.00,321.95 L462.58,322.46 L462.97,323.00 L463.37,323.51 L463.98,323.96 L465.00,324.30 L466.55,324.51 L468.50,324.62 L470.66,324.66 L472.89,324.65 L475.00,324.63 L477.08,324.57 L479.24,324.46 L481.36,324.32 L483.32,324.18 L485.00,324.04 L486.32,323.90 L487.36,323.73 L488.24,323.58 L489.08,323.47 L490.00,323.46 L490.87,323.57 L491.62,323.77 L492.42,324.03 L493.49,324.27 L495.00,324.46 L497.30,324.59 L500.25,324.69 L503.35,324.77 L506.10,324.83 L508.00,324.88 L508.00,325.30 L400.00,325.30 Z" fill="#cb522e" fill-opacity="0.33" stroke="none"/>
<path d="M400.00,325.30 L400.42,324.70 L401.01,323.89 L401.69,322.89 L402.38,321.68 L403.00,320.00 L403.54,318.81 L404.06,316.57 L404.56,314.49 L405.04,312.56 L405.50,310.16 L405.92,308.40 L406.31,306.87 L406.69,305.33 L407.08,302.79 L407.50,300.42 L407.98,296.74 L408.49,292.38 L409.01,287.61 L409.52,283.09 L410.00,278.95 L410.44,275.58 L410.87,272.35 L411.27,269.91 L411.65,267.01 L412.00,264.80 L412.30,262.99 L412.56,262.12 L412.80,261.12 L413.04,260.35 L413.30,259.86 L413.59,260.11 L413.89,260.91 L414.19,262.16 L414.50,263.31 L414.80,265.00 L415.08,266.68 L415.35,269.38 L415.63,271.69 L415.94,273.51 L416.30,274.90 L416.75,276.28 L417.27,276.17 L417.81,276.37 L418.34,276.43 L418.80,277.51 L419.19,279.00 L419.52,280.83 L419.84,282.64 L420.15,284.91 L420.50,286.45 L420.85,288.25 L421.19,289.60 L421.56,291.31 L421.98,292.76 L422.50,294.83 L423.15,297.78 L423.90,301.01 L424.70,304.67 L425.52,307.78 L426.30,310.41 L426.99,312.05 L427.63,313.30 L428.29,314.27 L429.05,314.58 L430.00,315.13 L431.13,316.09 L432.39,315.78 L433.79,316.35 L435.32,316.42 L437.00,316.19 L438.88,316.99 L440.97,317.27 L443.17,317.32 L445.38,317.65 L447.50,317.99 L449.62,317.81 L451.80,318.38 L453.92,318.69 L455.86,319.28 L457.50,319.65 L458.78,320.12 L459.77,320.45 L460.57,321.19 L461.28,321.45 L462.00,321.95 L462.58,322.46 L462.97,323.00 L463.37,323.51 L463.98,323.96 L465.00,324.30 L466.55,324.51 L468.50,324.62 L470.66,324.66 L472.89,324.65 L475.00,324.63 L477.08,324.57 L479.24,324.46 L481.36,324.32 L483.32,324.18 L485.00,324.04 L486.32,323.90 L487.36,323.73 L488.24,323.58 L489.08,323.47 L490.00,323.46 L490.87,323.57 L491.62,323.77 L492.42,324.03 L493.49,324.27 L495.00,324.46 L497.30,324.59 L500.25,324.69 L503.35,324.77 L506.10,324.83 L508.00,324.88" fill="none" stroke="#b81e3c" stroke-width="1.05" stroke-linejoin="round"/>
</g>
<rect x="365.60" y="237.30" width="143.20" height="88.00" fill="none" stroke="#111" stroke-width="1.2" />
<line x1="362.60" y1="325.30" x2="365.60" y2="325.30" stroke="#111" stroke-width="0.8" />
<line x1="363.80" y1="321.12" x2="365.60" y2="321.12" stroke="#111" stroke-width="0.8" />
<line x1="363.80" y1="316.93" x2="365.60" y2="316.93" stroke="#111" stroke-width="0.8" />
<line x1="363.80" y1="312.75" x2="365.60" y2="312.75" stroke="#111" stroke-width="0.8" />
<line x1="362.60" y1="308.56" x2="365.60" y2="308.56" stroke="#111" stroke-width="0.8" />
<line x1="363.80" y1="304.38" x2="365.60" y2="304.38" stroke="#111" stroke-width="0.8" />
<line x1="363.80" y1="300.19" x2="365.60" y2="300.19" stroke="#111" stroke-width="0.8" />
<line x1="363.80" y1="296.00" x2="365.60" y2="296.00" stroke="#111" stroke-width="0.8" />
<line x1="362.60" y1="291.82" x2="365.60" y2="291.82" stroke="#111" stroke-width="0.8" />
<line x1="363.80" y1="287.63" x2="365.60" y2="287.63" stroke="#111" stroke-width="0.8" />
<line x1="363.80" y1="283.45" x2="365.60" y2="283.45" stroke="#111" stroke-width="0.8" />
<line x1="363.80" y1="279.27" x2="365.60" y2="279.27" stroke="#111" stroke-width="0.8" />
<line x1="362.60" y1="275.08" x2="365.60" y2="275.08" stroke="#111" stroke-width="0.8" />
<line x1="363.80" y1="270.90" x2="365.60" y2="270.90" stroke="#111" stroke-width="0.8" />
<line x1="363.80" y1="266.71" x2="365.60" y2="266.71" stroke="#111" stroke-width="0.8" />
<line x1="363.80" y1="262.53" x2="365.60" y2="262.53" stroke="#111" stroke-width="0.8" />
<line x1="362.60" y1="258.34" x2="365.60" y2="258.34" stroke="#111" stroke-width="0.8" />
<line x1="363.80" y1="254.16" x2="365.60" y2="254.16" stroke="#111" stroke-width="0.8" />
<line x1="363.80" y1="249.97" x2="365.60" y2="249.97" stroke="#111" stroke-width="0.8" />
<line x1="363.80" y1="245.79" x2="365.60" y2="245.79" stroke="#111" stroke-width="0.8" />
<line x1="362.60" y1="241.60" x2="365.60" y2="241.60" stroke="#111" stroke-width="0.8" />
<line x1="373.80" y1="325.30" x2="373.80" y2="327.90" stroke="#111" stroke-width="0.8" />
<line x1="400.00" y1="325.30" x2="400.00" y2="327.90" stroke="#111" stroke-width="0.8" />
<line x1="422.50" y1="325.30" x2="422.50" y2="327.90" stroke="#111" stroke-width="0.8" />
<line x1="460.00" y1="325.30" x2="460.00" y2="327.90" stroke="#111" stroke-width="0.8" />
<line x1="494.50" y1="325.30" x2="494.50" y2="327.90" stroke="#111" stroke-width="0.8" />
<line x1="379.04" y1="325.30" x2="379.04" y2="326.80" stroke="#111" stroke-width="0.6" />
<line x1="384.28" y1="325.30" x2="384.28" y2="326.80" stroke="#111" stroke-width="0.6" />
<line x1="388.21" y1="325.30" x2="388.21" y2="326.80" stroke="#111" stroke-width="0.6" />
<line x1="391.62" y1="325.30" x2="391.62" y2="326.80" stroke="#111" stroke-width="0.6" />
<line x1="394.24" y1="325.30" x2="394.24" y2="326.80" stroke="#111" stroke-width="0.6" />
<line x1="396.33" y1="325.30" x2="396.33" y2="326.80" stroke="#111" stroke-width="0.6" />
<line x1="397.90" y1="325.30" x2="397.90" y2="326.80" stroke="#111" stroke-width="0.6" />
<line x1="398.95" y1="325.30" x2="398.95" y2="326.80" stroke="#111" stroke-width="0.6" />
<line x1="401.80" y1="325.30" x2="401.80" y2="326.80" stroke="#111" stroke-width="0.6" />
<line x1="404.05" y1="325.30" x2="404.05" y2="326.80" stroke="#111" stroke-width="0.6" />
<line x1="406.75" y1="325.30" x2="406.75" y2="326.80" stroke="#111" stroke-width="0.6" />
<line x1="410.12" y1="325.30" x2="410.12" y2="326.80" stroke="#111" stroke-width="0.6" />
<line x1="414.62" y1="325.30" x2="414.62" y2="326.80" stroke="#111" stroke-width="0.6" />
<line x1="419.12" y1="325.30" x2="419.12" y2="326.80" stroke="#111" stroke-width="0.6" />
<line x1="433.75" y1="325.30" x2="433.75" y2="326.80" stroke="#111" stroke-width="0.6" />
<line x1="470.35" y1="325.30" x2="470.35" y2="326.80" stroke="#111" stroke-width="0.6" />
<line x1="440.50" y1="325.30" x2="440.50" y2="326.80" stroke="#111" stroke-width="0.6" />
<line x1="476.56" y1="325.30" x2="476.56" y2="326.80" stroke="#111" stroke-width="0.6" />
<line x1="445.00" y1="325.30" x2="445.00" y2="326.80" stroke="#111" stroke-width="0.6" />
<line x1="480.70" y1="325.30" x2="480.70" y2="326.80" stroke="#111" stroke-width="0.6" />
<line x1="448.75" y1="325.30" x2="448.75" y2="326.80" stroke="#111" stroke-width="0.6" />
<line x1="484.15" y1="325.30" x2="484.15" y2="326.80" stroke="#111" stroke-width="0.6" />
<line x1="451.75" y1="325.30" x2="451.75" y2="326.80" stroke="#111" stroke-width="0.6" />
<line x1="486.91" y1="325.30" x2="486.91" y2="326.80" stroke="#111" stroke-width="0.6" />
<line x1="454.38" y1="325.30" x2="454.38" y2="326.80" stroke="#111" stroke-width="0.6" />
<line x1="489.32" y1="325.30" x2="489.32" y2="326.80" stroke="#111" stroke-width="0.6" />
<line x1="456.25" y1="325.30" x2="456.25" y2="326.80" stroke="#111" stroke-width="0.6" />
<line x1="491.05" y1="325.30" x2="491.05" y2="326.80" stroke="#111" stroke-width="0.6" />
<line x1="458.12" y1="325.30" x2="458.12" y2="326.80" stroke="#111" stroke-width="0.6" />
<line x1="492.77" y1="325.30" x2="492.77" y2="326.80" stroke="#111" stroke-width="0.6" />
<text x="366.80" y="338.70" font-size="7.2" fill="#333" textLength="10.40" lengthAdjust="spacingAndGlyphs" stroke="#333" stroke-width="0.15" >−10</text>
<text x="377.30" y="335.30" font-size="4.4" fill="#333" stroke="#333" stroke-width="0.15" >3</text>
<text x="400.00" y="338.70" font-size="7.2" fill="#333" text-anchor="middle" stroke="#333" stroke-width="0.15" >0</text>
<text x="418.30" y="338.70" font-size="7.2" fill="#333" textLength="6.80" lengthAdjust="spacingAndGlyphs" stroke="#333" stroke-width="0.15" >10</text>
<text x="425.20" y="335.30" font-size="4.4" fill="#333" stroke="#333" stroke-width="0.15" >3</text>
<text x="455.80" y="338.70" font-size="7.2" fill="#333" textLength="6.80" lengthAdjust="spacingAndGlyphs" stroke="#333" stroke-width="0.15" >10</text>
<text x="462.70" y="335.30" font-size="4.4" fill="#333" stroke="#333" stroke-width="0.15" >4</text>
<text x="490.30" y="338.70" font-size="7.2" fill="#333" textLength="6.80" lengthAdjust="spacingAndGlyphs" stroke="#333" stroke-width="0.15" >10</text>
<text x="497.20" y="335.30" font-size="4.4" fill="#333" stroke="#333" stroke-width="0.15" >5</text>
<g>
<path d="M102.50,436.60 L102.98,435.71 L103.67,434.47 L104.47,433.01 L105.28,431.67 L106.00,430.20 L106.62,428.29 L107.21,426.67 L107.79,425.33 L108.38,424.05 L109.00,422.11 L109.68,421.10 L110.41,418.85 L111.15,416.91 L111.86,414.83 L112.50,412.82 L113.06,410.52 L113.57,407.87 L114.05,406.59 L114.52,404.36 L115.00,401.87 L115.50,399.60 L116.00,397.35 L116.50,394.30 L117.00,392.72 L117.50,390.02 L118.00,387.80 L118.50,386.09 L119.00,384.78 L119.50,382.49 L120.00,381.45 L120.50,380.18 L121.00,378.20 L121.50,376.73 L122.00,375.62 L122.50,374.78 L123.00,373.97 L123.50,373.06 L124.00,372.47 L124.50,371.31 L125.00,370.88 L125.51,370.41 L126.02,370.32 L126.54,369.33 L127.03,369.41 L127.50,369.08 L127.94,370.02 L128.35,371.64 L128.75,373.77 L129.13,375.58 L129.50,377.25 L129.83,378.24 L130.10,379.77 L130.38,381.11 L130.73,382.88 L131.20,384.91 L131.81,389.03 L132.51,392.22 L133.29,397.38 L134.13,401.66 L135.00,404.64 L135.90,408.89 L136.86,413.05 L137.86,416.82 L138.90,419.58 L140.00,422.29 L141.20,424.66 L142.51,427.52 L143.84,428.46 L145.09,430.38 L146.20,431.24 L147.01,432.77 L147.60,433.65 L148.15,434.34 L148.88,434.89 L150.00,435.36 L151.76,435.72 L154.03,435.94 L156.42,436.05 L158.54,436.12 L160.00,436.19 L160.00,436.60 L102.50,436.60 Z" fill="#6eb958" fill-opacity="0.33" stroke="none"/>
<path d="M102.50,436.60 L102.98,435.71 L103.67,434.47 L104.47,433.01 L105.28,431.67 L106.00,430.20 L106.62,428.29 L107.21,426.67 L107.79,425.33 L108.38,424.05 L109.00,422.11 L109.68,421.10 L110.41,418.85 L111.15,416.91 L111.86,414.83 L112.50,412.82 L113.06,410.52 L113.57,407.87 L114.05,406.59 L114.52,404.36 L115.00,401.87 L115.50,399.60 L116.00,397.35 L116.50,394.30 L117.00,392.72 L117.50,390.02 L118.00,387.80 L118.50,386.09 L119.00,384.78 L119.50,382.49 L120.00,381.45 L120.50,380.18 L121.00,378.20 L121.50,376.73 L122.00,375.62 L122.50,374.78 L123.00,373.97 L123.50,373.06 L124.00,372.47 L124.50,371.31 L125.00,370.88 L125.51,370.41 L126.02,370.32 L126.54,369.33 L127.03,369.41 L127.50,369.08 L127.94,370.02 L128.35,371.64 L128.75,373.77 L129.13,375.58 L129.50,377.25 L129.83,378.24 L130.10,379.77 L130.38,381.11 L130.73,382.88 L131.20,384.91 L131.81,389.03 L132.51,392.22 L133.29,397.38 L134.13,401.66 L135.00,404.64 L135.90,408.89 L136.86,413.05 L137.86,416.82 L138.90,419.58 L140.00,422.29 L141.20,424.66 L142.51,427.52 L143.84,428.46 L145.09,430.38 L146.20,431.24 L147.01,432.77 L147.60,433.65 L148.15,434.34 L148.88,434.89 L150.00,435.36 L151.76,435.72 L154.03,435.94 L156.42,436.05 L158.54,436.12 L160.00,436.19" fill="none" stroke="#357a3c" stroke-width="1.3" stroke-dasharray="2.6 1.5" stroke-linejoin="round"/>
<path d="M96.20,436.60 L96.72,435.85 L97.45,434.82 L98.30,433.58 L99.19,432.25 L100.00,431.31 L100.77,428.90 L101.55,427.99 L102.33,425.92 L103.05,424.61 L103.70,422.76 L104.24,420.70 L104.70,419.94 L105.12,418.02 L105.54,416.05 L106.00,414.55 L106.53,413.68 L107.09,412.30 L107.67,410.77 L108.21,409.07 L108.70,407.48 L109.11,405.29 L109.48,403.42 L109.81,399.90 L110.14,398.09 L110.50,395.62 L110.88,392.30 L111.26,390.60 L111.65,387.80 L112.06,385.56 L112.50,382.61 L112.97,380.63 L113.46,378.73 L113.98,377.60 L114.49,375.45 L115.00,373.59 L115.50,372.05 L116.00,370.28 L116.50,368.57 L117.00,367.45 L117.50,367.50 L118.00,366.72 L118.50,367.76 L119.00,367.57 L119.50,368.17 L120.00,368.80 L120.50,368.33 L121.00,368.09 L121.50,368.35 L122.00,368.34 L122.50,369.13 L122.98,370.67 L123.44,373.34 L123.91,376.26 L124.42,379.17 L125.00,383.09 L125.64,386.74 L126.33,392.61 L127.07,397.70 L127.86,403.28 L128.70,407.81 L129.62,411.49 L130.61,415.00 L131.64,419.44 L132.68,421.73 L133.70,424.99 L134.68,427.45 L135.64,429.72 L136.61,432.22 L137.62,433.64 L138.70,434.95 L139.74,435.76 L140.71,436.11 L141.79,436.17 L143.16,436.13 L145.00,436.19 L147.68,436.33 L151.09,436.43 L154.66,436.50 L157.82,436.56 L160.00,436.60 L160.00,436.60 L96.20,436.60 Z" fill="#4f58a1" fill-opacity="0.33" stroke="none"/>
<path d="M96.20,436.60 L96.72,435.85 L97.45,434.82 L98.30,433.58 L99.19,432.25 L100.00,431.31 L100.77,428.90 L101.55,427.99 L102.33,425.92 L103.05,424.61 L103.70,422.76 L104.24,420.70 L104.70,419.94 L105.12,418.02 L105.54,416.05 L106.00,414.55 L106.53,413.68 L107.09,412.30 L107.67,410.77 L108.21,409.07 L108.70,407.48 L109.11,405.29 L109.48,403.42 L109.81,399.90 L110.14,398.09 L110.50,395.62 L110.88,392.30 L111.26,390.60 L111.65,387.80 L112.06,385.56 L112.50,382.61 L112.97,380.63 L113.46,378.73 L113.98,377.60 L114.49,375.45 L115.00,373.59 L115.50,372.05 L116.00,370.28 L116.50,368.57 L117.00,367.45 L117.50,367.50 L118.00,366.72 L118.50,367.76 L119.00,367.57 L119.50,368.17 L120.00,368.80 L120.50,368.33 L121.00,368.09 L121.50,368.35 L122.00,368.34 L122.50,369.13 L122.98,370.67 L123.44,373.34 L123.91,376.26 L124.42,379.17 L125.00,383.09 L125.64,386.74 L126.33,392.61 L127.07,397.70 L127.86,403.28 L128.70,407.81 L129.62,411.49 L130.61,415.00 L131.64,419.44 L132.68,421.73 L133.70,424.99 L134.68,427.45 L135.64,429.72 L136.61,432.22 L137.62,433.64 L138.70,434.95 L139.74,435.76 L140.71,436.11 L141.79,436.17 L143.16,436.13 L145.00,436.19 L147.68,436.33 L151.09,436.43 L154.66,436.50 L157.82,436.56 L160.00,436.60" fill="none" stroke="#26386e" stroke-width="1.3" stroke-dasharray="2.6 1.5" stroke-linejoin="round"/>
<path d="M103.70,436.60 L104.15,435.94 L104.80,435.01 L105.54,433.92 L106.31,432.76 L107.00,432.16 L107.63,430.28 L108.25,429.59 L108.85,428.04 L109.44,427.14 L110.00,425.73 L110.49,424.31 L110.92,423.17 L111.34,422.01 L111.85,421.39 L112.50,419.23 L113.36,416.76 L114.39,414.98 L115.49,412.38 L116.56,409.13 L117.50,406.43 L118.29,404.51 L118.98,402.66 L119.64,401.28 L120.29,399.26 L121.00,397.44 L121.78,395.08 L122.61,392.73 L123.45,390.34 L124.26,387.66 L125.00,385.23 L125.64,383.76 L126.20,382.83 L126.74,381.86 L127.32,381.06 L128.00,379.88 L128.84,378.99 L129.79,378.50 L130.77,376.38 L131.70,375.87 L132.50,375.54 L133.13,375.88 L133.64,375.66 L134.10,376.50 L134.53,377.43 L135.00,378.60 L135.46,379.59 L135.88,381.10 L136.32,382.13 L136.84,383.67 L137.50,384.80 L138.34,387.60 L139.32,391.73 L140.38,395.67 L141.46,399.02 L142.50,402.79 L143.48,405.74 L144.44,409.88 L145.41,414.12 L146.42,417.42 L147.50,420.45 L148.66,423.13 L149.89,424.57 L151.16,426.36 L152.43,428.11 L153.70,430.01 L154.89,431.43 L156.04,432.70 L157.21,432.98 L158.50,433.60 L160.00,434.12 L161.76,434.53 L163.73,434.79 L165.82,434.92 L167.94,434.97 L170.00,434.95 L172.08,434.83 L174.24,434.60 L176.36,434.30 L178.32,433.99 L180.00,433.71 L181.29,433.44 L182.26,433.17 L183.10,432.90 L183.95,432.66 L185.00,432.71 L186.26,432.50 L187.61,432.57 L189.03,432.19 L190.50,432.23 L192.00,431.55 L193.58,432.13 L195.27,431.22 L196.97,431.66 L198.58,431.10 L200.00,430.60 L201.17,430.42 L202.15,430.68 L203.05,431.30 L203.96,431.61 L205.00,431.21 L206.28,431.47 L207.73,432.35 L209.17,432.71 L210.42,433.05 L211.30,433.29 L211.30,436.60 L103.70,436.60 Z" fill="#cb522e" fill-opacity="0.33" stroke="none"/>
<path d="M103.70,436.60 L104.15,435.94 L104.80,435.01 L105.54,433.92 L106.31,432.76 L107.00,432.16 L107.63,430.28 L108.25,429.59 L108.85,428.04 L109.44,427.14 L110.00,425.73 L110.49,424.31 L110.92,423.17 L111.34,422.01 L111.85,421.39 L112.50,419.23 L113.36,416.76 L114.39,414.98 L115.49,412.38 L116.56,409.13 L117.50,406.43 L118.29,404.51 L118.98,402.66 L119.64,401.28 L120.29,399.26 L121.00,397.44 L121.78,395.08 L122.61,392.73 L123.45,390.34 L124.26,387.66 L125.00,385.23 L125.64,383.76 L126.20,382.83 L126.74,381.86 L127.32,381.06 L128.00,379.88 L128.84,378.99 L129.79,378.50 L130.77,376.38 L131.70,375.87 L132.50,375.54 L133.13,375.88 L133.64,375.66 L134.10,376.50 L134.53,377.43 L135.00,378.60 L135.46,379.59 L135.88,381.10 L136.32,382.13 L136.84,383.67 L137.50,384.80 L138.34,387.60 L139.32,391.73 L140.38,395.67 L141.46,399.02 L142.50,402.79 L143.48,405.74 L144.44,409.88 L145.41,414.12 L146.42,417.42 L147.50,420.45 L148.66,423.13 L149.89,424.57 L151.16,426.36 L152.43,428.11 L153.70,430.01 L154.89,431.43 L156.04,432.70 L157.21,432.98 L158.50,433.60 L160.00,434.12 L161.76,434.53 L163.73,434.79 L165.82,434.92 L167.94,434.97 L170.00,434.95 L172.08,434.83 L174.24,434.60 L176.36,434.30 L178.32,433.99 L180.00,433.71 L181.29,433.44 L182.26,433.17 L183.10,432.90 L183.95,432.66 L185.00,432.71 L186.26,432.50 L187.61,432.57 L189.03,432.19 L190.50,432.23 L192.00,431.55 L193.58,432.13 L195.27,431.22 L196.97,431.66 L198.58,431.10 L200.00,430.60 L201.17,430.42 L202.15,430.68 L203.05,431.30 L203.96,431.61 L205.00,431.21 L206.28,431.47 L207.73,432.35 L209.17,432.71 L210.42,433.05 L211.30,433.29" fill="none" stroke="#9a2a3a" stroke-width="1.3" stroke-dasharray="2.6 1.5" stroke-linejoin="round"/>
</g>
<rect x="64.30" y="349.60" width="147.20" height="87.00" fill="none" stroke="#111" stroke-width="1.2" />
<line x1="61.30" y1="436.60" x2="64.30" y2="436.60" stroke="#111" stroke-width="0.8" />
<line x1="62.50" y1="432.47" x2="64.30" y2="432.47" stroke="#111" stroke-width="0.8" />
<line x1="62.50" y1="428.33" x2="64.30" y2="428.33" stroke="#111" stroke-width="0.8" />
<line x1="62.50" y1="424.20" x2="64.30" y2="424.20" stroke="#111" stroke-width="0.8" />
<line x1="61.30" y1="420.06" x2="64.30" y2="420.06" stroke="#111" stroke-width="0.8" />
<line x1="62.50" y1="415.93" x2="64.30" y2="415.93" stroke="#111" stroke-width="0.8" />
<line x1="62.50" y1="411.79" x2="64.30" y2="411.79" stroke="#111" stroke-width="0.8" />
<line x1="62.50" y1="407.66" x2="64.30" y2="407.66" stroke="#111" stroke-width="0.8" />
<line x1="61.30" y1="403.52" x2="64.30" y2="403.52" stroke="#111" stroke-width="0.8" />
<line x1="62.50" y1="399.39" x2="64.30" y2="399.39" stroke="#111" stroke-width="0.8" />
<line x1="62.50" y1="395.25" x2="64.30" y2="395.25" stroke="#111" stroke-width="0.8" />
<line x1="62.50" y1="391.12" x2="64.30" y2="391.12" stroke="#111" stroke-width="0.8" />
<line x1="61.30" y1="386.98" x2="64.30" y2="386.98" stroke="#111" stroke-width="0.8" />
<line x1="62.50" y1="382.85" x2="64.30" y2="382.85" stroke="#111" stroke-width="0.8" />
<line x1="62.50" y1="378.71" x2="64.30" y2="378.71" stroke="#111" stroke-width="0.8" />
<line x1="62.50" y1="374.58" x2="64.30" y2="374.58" stroke="#111" stroke-width="0.8" />
<line x1="61.30" y1="370.44" x2="64.30" y2="370.44" stroke="#111" stroke-width="0.8" />
<line x1="62.50" y1="366.31" x2="64.30" y2="366.31" stroke="#111" stroke-width="0.8" />
<line x1="62.50" y1="362.17" x2="64.30" y2="362.17" stroke="#111" stroke-width="0.8" />
<line x1="62.50" y1="358.04" x2="64.30" y2="358.04" stroke="#111" stroke-width="0.8" />
<line x1="61.30" y1="353.90" x2="64.30" y2="353.90" stroke="#111" stroke-width="0.8" />
<line x1="72.60" y1="436.60" x2="72.60" y2="439.20" stroke="#111" stroke-width="0.8" />
<line x1="100.60" y1="436.60" x2="100.60" y2="439.20" stroke="#111" stroke-width="0.8" />
<line x1="122.80" y1="436.60" x2="122.80" y2="439.20" stroke="#111" stroke-width="0.8" />
<line x1="162.60" y1="436.60" x2="162.60" y2="439.20" stroke="#111" stroke-width="0.8" />
<line x1="195.00" y1="436.60" x2="195.00" y2="439.20" stroke="#111" stroke-width="0.8" />
<line x1="78.20" y1="436.60" x2="78.20" y2="438.10" stroke="#111" stroke-width="0.6" />
<line x1="83.80" y1="436.60" x2="83.80" y2="438.10" stroke="#111" stroke-width="0.6" />
<line x1="88.00" y1="436.60" x2="88.00" y2="438.10" stroke="#111" stroke-width="0.6" />
<line x1="91.64" y1="436.60" x2="91.64" y2="438.10" stroke="#111" stroke-width="0.6" />
<line x1="94.44" y1="436.60" x2="94.44" y2="438.10" stroke="#111" stroke-width="0.6" />
<line x1="96.68" y1="436.60" x2="96.68" y2="438.10" stroke="#111" stroke-width="0.6" />
<line x1="98.36" y1="436.60" x2="98.36" y2="438.10" stroke="#111" stroke-width="0.6" />
<line x1="99.48" y1="436.60" x2="99.48" y2="438.10" stroke="#111" stroke-width="0.6" />
<line x1="102.38" y1="436.60" x2="102.38" y2="438.10" stroke="#111" stroke-width="0.6" />
<line x1="104.60" y1="436.60" x2="104.60" y2="438.10" stroke="#111" stroke-width="0.6" />
<line x1="107.26" y1="436.60" x2="107.26" y2="438.10" stroke="#111" stroke-width="0.6" />
<line x1="110.59" y1="436.60" x2="110.59" y2="438.10" stroke="#111" stroke-width="0.6" />
<line x1="115.03" y1="436.60" x2="115.03" y2="438.10" stroke="#111" stroke-width="0.6" />
<line x1="119.47" y1="436.60" x2="119.47" y2="438.10" stroke="#111" stroke-width="0.6" />
<line x1="134.74" y1="436.60" x2="134.74" y2="438.10" stroke="#111" stroke-width="0.6" />
<line x1="172.32" y1="436.60" x2="172.32" y2="438.10" stroke="#111" stroke-width="0.6" />
<line x1="141.90" y1="436.60" x2="141.90" y2="438.10" stroke="#111" stroke-width="0.6" />
<line x1="178.15" y1="436.60" x2="178.15" y2="438.10" stroke="#111" stroke-width="0.6" />
<line x1="146.68" y1="436.60" x2="146.68" y2="438.10" stroke="#111" stroke-width="0.6" />
<line x1="182.04" y1="436.60" x2="182.04" y2="438.10" stroke="#111" stroke-width="0.6" />
<line x1="150.66" y1="436.60" x2="150.66" y2="438.10" stroke="#111" stroke-width="0.6" />
<line x1="185.28" y1="436.60" x2="185.28" y2="438.10" stroke="#111" stroke-width="0.6" />
<line x1="153.84" y1="436.60" x2="153.84" y2="438.10" stroke="#111" stroke-width="0.6" />
<line x1="187.87" y1="436.60" x2="187.87" y2="438.10" stroke="#111" stroke-width="0.6" />
<line x1="156.63" y1="436.60" x2="156.63" y2="438.10" stroke="#111" stroke-width="0.6" />
<line x1="190.14" y1="436.60" x2="190.14" y2="438.10" stroke="#111" stroke-width="0.6" />
<line x1="158.62" y1="436.60" x2="158.62" y2="438.10" stroke="#111" stroke-width="0.6" />
<line x1="191.76" y1="436.60" x2="191.76" y2="438.10" stroke="#111" stroke-width="0.6" />
<line x1="160.61" y1="436.60" x2="160.61" y2="438.10" stroke="#111" stroke-width="0.6" />
<line x1="193.38" y1="436.60" x2="193.38" y2="438.10" stroke="#111" stroke-width="0.6" />
<text x="65.60" y="450.00" font-size="7.2" fill="#333" textLength="10.40" lengthAdjust="spacingAndGlyphs" stroke="#333" stroke-width="0.15" >−10</text>
<text x="76.10" y="446.60" font-size="4.4" fill="#333" stroke="#333" stroke-width="0.15" >3</text>
<text x="100.60" y="450.00" font-size="7.2" fill="#333" text-anchor="middle" stroke="#333" stroke-width="0.15" >0</text>
<text x="118.60" y="450.00" font-size="7.2" fill="#333" textLength="6.80" lengthAdjust="spacingAndGlyphs" stroke="#333" stroke-width="0.15" >10</text>
<text x="125.50" y="446.60" font-size="4.4" fill="#333" stroke="#333" stroke-width="0.15" >3</text>
<text x="158.40" y="450.00" font-size="7.2" fill="#333" textLength="6.80" lengthAdjust="spacingAndGlyphs" stroke="#333" stroke-width="0.15" >10</text>
<text x="165.30" y="446.60" font-size="4.4" fill="#333" stroke="#333" stroke-width="0.15" >4</text>
<text x="190.80" y="450.00" font-size="7.2" fill="#333" textLength="6.80" lengthAdjust="spacingAndGlyphs" stroke="#333" stroke-width="0.15" >10</text>
<text x="197.70" y="446.60" font-size="4.4" fill="#333" stroke="#333" stroke-width="0.15" >5</text>
<text x="58.00" y="439.10" font-size="7.2" fill="#333" text-anchor="end" textLength="3.90" lengthAdjust="spacingAndGlyphs" stroke="#333" stroke-width="0.15" >0</text>
<text x="58.00" y="422.56" font-size="7.2" fill="#333" text-anchor="end" textLength="7.60" lengthAdjust="spacingAndGlyphs" stroke="#333" stroke-width="0.15" >20</text>
<text x="58.00" y="406.02" font-size="7.2" fill="#333" text-anchor="end" textLength="7.60" lengthAdjust="spacingAndGlyphs" stroke="#333" stroke-width="0.15" >40</text>
<text x="58.00" y="389.48" font-size="7.2" fill="#333" text-anchor="end" textLength="7.60" lengthAdjust="spacingAndGlyphs" stroke="#333" stroke-width="0.15" >60</text>
<text x="58.00" y="372.94" font-size="7.2" fill="#333" text-anchor="end" textLength="7.60" lengthAdjust="spacingAndGlyphs" stroke="#333" stroke-width="0.15" >80</text>
<text x="58.00" y="356.40" font-size="7.2" fill="#333" text-anchor="end" textLength="10.60" lengthAdjust="spacingAndGlyphs" stroke="#333" stroke-width="0.15" >100</text>
<g>
<path d="M254.00,436.60 L254.54,435.02 L255.29,432.85 L256.17,430.32 L257.10,427.17 L258.00,423.89 L258.87,420.78 L259.76,416.09 L260.68,412.23 L261.59,408.46 L262.50,405.68 L263.38,402.77 L264.25,400.97 L265.13,398.76 L266.04,396.80 L267.00,394.97 L268.05,393.68 L269.18,391.23 L270.32,388.67 L271.45,386.41 L272.50,385.32 L273.49,384.29 L274.44,383.09 L275.36,382.18 L276.21,382.00 L277.00,381.66 L277.70,380.29 L278.31,379.57 L278.87,379.44 L279.42,379.09 L280.00,378.91 L280.62,377.90 L281.25,378.10 L281.87,377.57 L282.46,376.81 L283.00,375.90 L283.47,375.92 L283.88,374.15 L284.26,373.69 L284.63,372.34 L285.00,372.20 L285.37,373.35 L285.73,373.91 L286.08,376.04 L286.44,377.12 L286.80,378.37 L287.15,380.00 L287.49,381.93 L287.83,384.03 L288.23,386.28 L288.70,387.42 L289.28,389.86 L289.93,391.98 L290.63,395.22 L291.34,396.69 L292.00,398.89 L292.62,401.14 L293.22,403.75 L293.81,406.49 L294.40,408.58 L295.00,410.39 L295.60,412.52 L296.19,414.18 L296.79,415.15 L297.39,416.55 L298.00,418.89 L298.63,420.13 L299.28,420.74 L299.94,422.75 L300.58,423.70 L301.20,424.88 L301.77,425.97 L302.32,426.88 L302.85,427.71 L303.40,428.93 L304.00,429.82 L304.59,431.14 L305.16,430.74 L305.78,432.10 L306.53,431.69 L307.50,432.31 L308.62,433.00 L309.85,433.58 L311.27,434.13 L312.96,434.61 L315.00,434.95 L317.60,435.12 L320.70,435.16 L324.00,435.12 L327.20,435.04 L330.00,434.95 L332.36,434.85 L334.48,434.71 L336.42,434.55 L338.24,434.35 L340.00,434.12 L341.71,433.80 L343.32,433.40 L344.84,432.99 L346.23,432.65 L347.50,432.82 L348.51,432.81 L349.28,432.50 L349.98,432.78 L350.83,433.03 L352.00,433.29 L353.73,433.60 L355.90,433.97 L358.14,434.36 L360.13,434.71 L361.50,434.95 L361.50,436.60 L254.00,436.60 Z" fill="#6eb958" fill-opacity="0.33" stroke="none"/>
<path d="M254.00,436.60 L254.54,435.02 L255.29,432.85 L256.17,430.32 L257.10,427.17 L258.00,423.89 L258.87,420.78 L259.76,416.09 L260.68,412.23 L261.59,408.46 L262.50,405.68 L263.38,402.77 L264.25,400.97 L265.13,398.76 L266.04,396.80 L267.00,394.97 L268.05,393.68 L269.18,391.23 L270.32,388.67 L271.45,386.41 L272.50,385.32 L273.49,384.29 L274.44,383.09 L275.36,382.18 L276.21,382.00 L277.00,381.66 L277.70,380.29 L278.31,379.57 L278.87,379.44 L279.42,379.09 L280.00,378.91 L280.62,377.90 L281.25,378.10 L281.87,377.57 L282.46,376.81 L283.00,375.90 L283.47,375.92 L283.88,374.15 L284.26,373.69 L284.63,372.34 L285.00,372.20 L285.37,373.35 L285.73,373.91 L286.08,376.04 L286.44,377.12 L286.80,378.37 L287.15,380.00 L287.49,381.93 L287.83,384.03 L288.23,386.28 L288.70,387.42 L289.28,389.86 L289.93,391.98 L290.63,395.22 L291.34,396.69 L292.00,398.89 L292.62,401.14 L293.22,403.75 L293.81,406.49 L294.40,408.58 L295.00,410.39 L295.60,412.52 L296.19,414.18 L296.79,415.15 L297.39,416.55 L298.00,418.89 L298.63,420.13 L299.28,420.74 L299.94,422.75 L300.58,423.70 L301.20,424.88 L301.77,425.97 L302.32,426.88 L302.85,427.71 L303.40,428.93 L304.00,429.82 L304.59,431.14 L305.16,430.74 L305.78,432.10 L306.53,431.69 L307.50,432.31 L308.62,433.00 L309.85,433.58 L311.27,434.13 L312.96,434.61 L315.00,434.95 L317.60,435.12 L320.70,435.16 L324.00,435.12 L327.20,435.04 L330.00,434.95 L332.36,434.85 L334.48,434.71 L336.42,434.55 L338.24,434.35 L340.00,434.12 L341.71,433.80 L343.32,433.40 L344.84,432.99 L346.23,432.65 L347.50,432.82 L348.51,432.81 L349.28,432.50 L349.98,432.78 L350.83,433.03 L352.00,433.29 L353.73,433.60 L355.90,433.97 L358.14,434.36 L360.13,434.71 L361.50,434.95" fill="none" stroke="#357a3c" stroke-width="1.3" stroke-dasharray="2.6 1.5" stroke-linejoin="round"/>
<path d="M252.50,436.60 L252.97,435.36 L253.62,433.66 L254.40,431.10 L255.21,429.21 L256.00,426.54 L256.78,424.12 L257.61,419.80 L258.45,416.32 L259.26,413.46 L260.00,409.62 L260.66,407.88 L261.26,406.65 L261.83,405.19 L262.40,402.99 L263.00,401.35 L263.65,399.51 L264.33,398.48 L265.01,395.72 L265.65,394.23 L266.20,392.38 L266.65,389.74 L267.01,387.60 L267.33,386.31 L267.65,383.97 L268.00,381.76 L268.38,380.42 L268.76,378.10 L269.15,376.35 L269.56,374.74 L270.00,374.86 L270.47,375.17 L270.96,375.70 L271.48,377.23 L271.99,377.39 L272.50,378.42 L272.99,379.01 L273.48,379.62 L273.96,379.63 L274.47,379.09 L275.00,379.26 L275.57,380.05 L276.16,380.87 L276.78,382.21 L277.39,382.34 L278.00,384.00 L278.61,384.92 L279.22,386.03 L279.84,387.07 L280.43,388.13 L281.00,389.27 L281.53,390.93 L282.03,392.82 L282.51,395.29 L283.00,396.66 L283.50,399.05 L284.03,402.18 L284.56,404.40 L285.10,407.04 L285.65,409.72 L286.20,412.67 L286.74,414.42 L287.28,416.89 L287.82,418.36 L288.39,419.95 L289.00,420.63 L289.66,421.87 L290.35,423.25 L291.07,424.99 L291.79,426.49 L292.50,427.44 L293.19,428.47 L293.88,429.93 L294.56,431.36 L295.27,432.52 L296.00,433.29 L296.67,434.10 L297.28,434.78 L297.94,435.35 L298.81,435.81 L300.00,436.19 L301.78,436.43 L304.05,436.55 L306.43,436.58 L308.54,436.58 L310.00,436.60 L310.00,436.60 L252.50,436.60 Z" fill="#4f58a1" fill-opacity="0.33" stroke="none"/>
<path d="M252.50,436.60 L252.97,435.36 L253.62,433.66 L254.40,431.10 L255.21,429.21 L256.00,426.54 L256.78,424.12 L257.61,419.80 L258.45,416.32 L259.26,413.46 L260.00,409.62 L260.66,407.88 L261.26,406.65 L261.83,405.19 L262.40,402.99 L263.00,401.35 L263.65,399.51 L264.33,398.48 L265.01,395.72 L265.65,394.23 L266.20,392.38 L266.65,389.74 L267.01,387.60 L267.33,386.31 L267.65,383.97 L268.00,381.76 L268.38,380.42 L268.76,378.10 L269.15,376.35 L269.56,374.74 L270.00,374.86 L270.47,375.17 L270.96,375.70 L271.48,377.23 L271.99,377.39 L272.50,378.42 L272.99,379.01 L273.48,379.62 L273.96,379.63 L274.47,379.09 L275.00,379.26 L275.57,380.05 L276.16,380.87 L276.78,382.21 L277.39,382.34 L278.00,384.00 L278.61,384.92 L279.22,386.03 L279.84,387.07 L280.43,388.13 L281.00,389.27 L281.53,390.93 L282.03,392.82 L282.51,395.29 L283.00,396.66 L283.50,399.05 L284.03,402.18 L284.56,404.40 L285.10,407.04 L285.65,409.72 L286.20,412.67 L286.74,414.42 L287.28,416.89 L287.82,418.36 L288.39,419.95 L289.00,420.63 L289.66,421.87 L290.35,423.25 L291.07,424.99 L291.79,426.49 L292.50,427.44 L293.19,428.47 L293.88,429.93 L294.56,431.36 L295.27,432.52 L296.00,433.29 L296.67,434.10 L297.28,434.78 L297.94,435.35 L298.81,435.81 L300.00,436.19 L301.78,436.43 L304.05,436.55 L306.43,436.58 L308.54,436.58 L310.00,436.60" fill="none" stroke="#26386e" stroke-width="1.3" stroke-dasharray="2.6 1.5" stroke-linejoin="round"/>
<path d="M255.00,436.60 L255.64,435.83 L256.52,434.83 L257.58,433.54 L258.76,432.22 L260.00,430.37 L261.39,427.61 L262.96,423.89 L264.60,421.35 L266.15,417.56 L267.50,415.17 L268.58,412.89 L269.47,411.62 L270.27,409.55 L271.08,408.15 L272.00,406.55 L273.07,404.63 L274.22,403.51 L275.40,401.26 L276.51,399.16 L277.50,397.62 L278.32,396.88 L279.02,395.11 L279.66,393.68 L280.30,393.28 L281.00,392.11 L281.79,391.54 L282.64,389.69 L283.48,389.29 L284.29,388.91 L285.00,388.18 L285.60,387.54 L286.11,385.88 L286.57,385.50 L287.02,384.68 L287.50,384.16 L287.98,384.47 L288.44,383.54 L288.91,383.44 L289.42,382.36 L290.00,382.42 L290.69,381.40 L291.48,380.56 L292.30,380.54 L293.06,380.26 L293.70,379.10 L294.18,379.75 L294.55,380.15 L294.86,380.20 L295.16,380.81 L295.50,380.80 L295.88,380.70 L296.26,380.29 L296.65,380.21 L297.06,380.10 L297.50,380.04 L297.97,380.98 L298.46,383.02 L298.98,385.42 L299.49,387.03 L300.00,389.25 L300.50,391.23 L301.00,394.13 L301.50,396.12 L302.00,397.77 L302.50,399.77 L303.00,401.80 L303.50,403.48 L304.00,404.99 L304.50,405.77 L305.00,407.29 L305.50,409.36 L306.00,410.53 L306.50,411.88 L307.00,413.40 L307.50,415.60 L308.00,416.39 L308.50,418.19 L309.00,419.47 L309.50,421.01 L310.00,422.94 L310.48,424.50 L310.95,425.22 L311.43,426.40 L311.94,428.26 L312.50,428.83 L313.13,429.64 L313.80,431.55 L314.52,431.85 L315.25,432.66 L316.00,433.29 L316.59,433.80 L317.04,434.19 L317.58,434.49 L318.49,434.73 L320.00,434.95 L322.38,435.13 L325.45,435.26 L328.83,435.34 L332.14,435.38 L335.00,435.36 L337.32,435.27 L339.36,435.12 L341.24,434.92 L343.08,434.72 L345.00,434.53 L347.06,434.34 L349.17,434.12 L351.25,433.92 L353.22,433.77 L355.00,433.71 L356.63,433.78 L358.16,433.96 L359.54,434.18 L360.67,434.39 L361.50,434.53 L361.50,436.60 L255.00,436.60 Z" fill="#cb522e" fill-opacity="0.33" stroke="none"/>
<path d="M255.00,436.60 L255.64,435.83 L256.52,434.83 L257.58,433.54 L258.76,432.22 L260.00,430.37 L261.39,427.61 L262.96,423.89 L264.60,421.35 L266.15,417.56 L267.50,415.17 L268.58,412.89 L269.47,411.62 L270.27,409.55 L271.08,408.15 L272.00,406.55 L273.07,404.63 L274.22,403.51 L275.40,401.26 L276.51,399.16 L277.50,397.62 L278.32,396.88 L279.02,395.11 L279.66,393.68 L280.30,393.28 L281.00,392.11 L281.79,391.54 L282.64,389.69 L283.48,389.29 L284.29,388.91 L285.00,388.18 L285.60,387.54 L286.11,385.88 L286.57,385.50 L287.02,384.68 L287.50,384.16 L287.98,384.47 L288.44,383.54 L288.91,383.44 L289.42,382.36 L290.00,382.42 L290.69,381.40 L291.48,380.56 L292.30,380.54 L293.06,380.26 L293.70,379.10 L294.18,379.75 L294.55,380.15 L294.86,380.20 L295.16,380.81 L295.50,380.80 L295.88,380.70 L296.26,380.29 L296.65,380.21 L297.06,380.10 L297.50,380.04 L297.97,380.98 L298.46,383.02 L298.98,385.42 L299.49,387.03 L300.00,389.25 L300.50,391.23 L301.00,394.13 L301.50,396.12 L302.00,397.77 L302.50,399.77 L303.00,401.80 L303.50,403.48 L304.00,404.99 L304.50,405.77 L305.00,407.29 L305.50,409.36 L306.00,410.53 L306.50,411.88 L307.00,413.40 L307.50,415.60 L308.00,416.39 L308.50,418.19 L309.00,419.47 L309.50,421.01 L310.00,422.94 L310.48,424.50 L310.95,425.22 L311.43,426.40 L311.94,428.26 L312.50,428.83 L313.13,429.64 L313.80,431.55 L314.52,431.85 L315.25,432.66 L316.00,433.29 L316.59,433.80 L317.04,434.19 L317.58,434.49 L318.49,434.73 L320.00,434.95 L322.38,435.13 L325.45,435.26 L328.83,435.34 L332.14,435.38 L335.00,435.36 L337.32,435.27 L339.36,435.12 L341.24,434.92 L343.08,434.72 L345.00,434.53 L347.06,434.34 L349.17,434.12 L351.25,433.92 L353.22,433.77 L355.00,433.71 L356.63,433.78 L358.16,433.96 L359.54,434.18 L360.67,434.39 L361.50,434.53" fill="none" stroke="#9a2a3a" stroke-width="1.3" stroke-dasharray="2.6 1.5" stroke-linejoin="round"/>
</g>
<rect x="216.20" y="349.60" width="145.30" height="87.00" fill="none" stroke="#111" stroke-width="1.2" />
<line x1="213.20" y1="436.60" x2="216.20" y2="436.60" stroke="#111" stroke-width="0.8" />
<line x1="214.40" y1="432.47" x2="216.20" y2="432.47" stroke="#111" stroke-width="0.8" />
<line x1="214.40" y1="428.33" x2="216.20" y2="428.33" stroke="#111" stroke-width="0.8" />
<line x1="214.40" y1="424.20" x2="216.20" y2="424.20" stroke="#111" stroke-width="0.8" />
<line x1="213.20" y1="420.06" x2="216.20" y2="420.06" stroke="#111" stroke-width="0.8" />
<line x1="214.40" y1="415.93" x2="216.20" y2="415.93" stroke="#111" stroke-width="0.8" />
<line x1="214.40" y1="411.79" x2="216.20" y2="411.79" stroke="#111" stroke-width="0.8" />
<line x1="214.40" y1="407.66" x2="216.20" y2="407.66" stroke="#111" stroke-width="0.8" />
<line x1="213.20" y1="403.52" x2="216.20" y2="403.52" stroke="#111" stroke-width="0.8" />
<line x1="214.40" y1="399.39" x2="216.20" y2="399.39" stroke="#111" stroke-width="0.8" />
<line x1="214.40" y1="395.25" x2="216.20" y2="395.25" stroke="#111" stroke-width="0.8" />
<line x1="214.40" y1="391.12" x2="216.20" y2="391.12" stroke="#111" stroke-width="0.8" />
<line x1="213.20" y1="386.98" x2="216.20" y2="386.98" stroke="#111" stroke-width="0.8" />
<line x1="214.40" y1="382.85" x2="216.20" y2="382.85" stroke="#111" stroke-width="0.8" />
<line x1="214.40" y1="378.71" x2="216.20" y2="378.71" stroke="#111" stroke-width="0.8" />
<line x1="214.40" y1="374.58" x2="216.20" y2="374.58" stroke="#111" stroke-width="0.8" />
<line x1="213.20" y1="370.44" x2="216.20" y2="370.44" stroke="#111" stroke-width="0.8" />
<line x1="214.40" y1="366.31" x2="216.20" y2="366.31" stroke="#111" stroke-width="0.8" />
<line x1="214.40" y1="362.17" x2="216.20" y2="362.17" stroke="#111" stroke-width="0.8" />
<line x1="214.40" y1="358.04" x2="216.20" y2="358.04" stroke="#111" stroke-width="0.8" />
<line x1="213.20" y1="353.90" x2="216.20" y2="353.90" stroke="#111" stroke-width="0.8" />
<line x1="223.80" y1="436.60" x2="223.80" y2="439.20" stroke="#111" stroke-width="0.8" />
<line x1="251.50" y1="436.60" x2="251.50" y2="439.20" stroke="#111" stroke-width="0.8" />
<line x1="273.00" y1="436.60" x2="273.00" y2="439.20" stroke="#111" stroke-width="0.8" />
<line x1="313.00" y1="436.60" x2="313.00" y2="439.20" stroke="#111" stroke-width="0.8" />
<line x1="348.60" y1="436.60" x2="348.60" y2="439.20" stroke="#111" stroke-width="0.8" />
<line x1="229.34" y1="436.60" x2="229.34" y2="438.10" stroke="#111" stroke-width="0.6" />
<line x1="234.88" y1="436.60" x2="234.88" y2="438.10" stroke="#111" stroke-width="0.6" />
<line x1="239.03" y1="436.60" x2="239.03" y2="438.10" stroke="#111" stroke-width="0.6" />
<line x1="242.64" y1="436.60" x2="242.64" y2="438.10" stroke="#111" stroke-width="0.6" />
<line x1="245.41" y1="436.60" x2="245.41" y2="438.10" stroke="#111" stroke-width="0.6" />
<line x1="247.62" y1="436.60" x2="247.62" y2="438.10" stroke="#111" stroke-width="0.6" />
<line x1="249.28" y1="436.60" x2="249.28" y2="438.10" stroke="#111" stroke-width="0.6" />
<line x1="250.39" y1="436.60" x2="250.39" y2="438.10" stroke="#111" stroke-width="0.6" />
<line x1="253.22" y1="436.60" x2="253.22" y2="438.10" stroke="#111" stroke-width="0.6" />
<line x1="255.37" y1="436.60" x2="255.37" y2="438.10" stroke="#111" stroke-width="0.6" />
<line x1="257.95" y1="436.60" x2="257.95" y2="438.10" stroke="#111" stroke-width="0.6" />
<line x1="261.18" y1="436.60" x2="261.18" y2="438.10" stroke="#111" stroke-width="0.6" />
<line x1="265.48" y1="436.60" x2="265.48" y2="438.10" stroke="#111" stroke-width="0.6" />
<line x1="269.77" y1="436.60" x2="269.77" y2="438.10" stroke="#111" stroke-width="0.6" />
<line x1="285.00" y1="436.60" x2="285.00" y2="438.10" stroke="#111" stroke-width="0.6" />
<line x1="323.68" y1="436.60" x2="323.68" y2="438.10" stroke="#111" stroke-width="0.6" />
<line x1="292.20" y1="436.60" x2="292.20" y2="438.10" stroke="#111" stroke-width="0.6" />
<line x1="330.09" y1="436.60" x2="330.09" y2="438.10" stroke="#111" stroke-width="0.6" />
<line x1="297.00" y1="436.60" x2="297.00" y2="438.10" stroke="#111" stroke-width="0.6" />
<line x1="334.36" y1="436.60" x2="334.36" y2="438.10" stroke="#111" stroke-width="0.6" />
<line x1="301.00" y1="436.60" x2="301.00" y2="438.10" stroke="#111" stroke-width="0.6" />
<line x1="337.92" y1="436.60" x2="337.92" y2="438.10" stroke="#111" stroke-width="0.6" />
<line x1="304.20" y1="436.60" x2="304.20" y2="438.10" stroke="#111" stroke-width="0.6" />
<line x1="340.77" y1="436.60" x2="340.77" y2="438.10" stroke="#111" stroke-width="0.6" />
<line x1="307.00" y1="436.60" x2="307.00" y2="438.10" stroke="#111" stroke-width="0.6" />
<line x1="343.26" y1="436.60" x2="343.26" y2="438.10" stroke="#111" stroke-width="0.6" />
<line x1="309.00" y1="436.60" x2="309.00" y2="438.10" stroke="#111" stroke-width="0.6" />
<line x1="345.04" y1="436.60" x2="345.04" y2="438.10" stroke="#111" stroke-width="0.6" />
<line x1="311.00" y1="436.60" x2="311.00" y2="438.10" stroke="#111" stroke-width="0.6" />
<line x1="346.82" y1="436.60" x2="346.82" y2="438.10" stroke="#111" stroke-width="0.6" />
<text x="216.80" y="450.00" font-size="7.2" fill="#333" textLength="10.40" lengthAdjust="spacingAndGlyphs" stroke="#333" stroke-width="0.15" >−10</text>
<text x="227.30" y="446.60" font-size="4.4" fill="#333" stroke="#333" stroke-width="0.15" >3</text>
<text x="251.50" y="450.00" font-size="7.2" fill="#333" text-anchor="middle" stroke="#333" stroke-width="0.15" >0</text>
<text x="268.80" y="450.00" font-size="7.2" fill="#333" textLength="6.80" lengthAdjust="spacingAndGlyphs" stroke="#333" stroke-width="0.15" >10</text>
<text x="275.70" y="446.60" font-size="4.4" fill="#333" stroke="#333" stroke-width="0.15" >3</text>
<text x="308.80" y="450.00" font-size="7.2" fill="#333" textLength="6.80" lengthAdjust="spacingAndGlyphs" stroke="#333" stroke-width="0.15" >10</text>
<text x="315.70" y="446.60" font-size="4.4" fill="#333" stroke="#333" stroke-width="0.15" >4</text>
<text x="344.40" y="450.00" font-size="7.2" fill="#333" textLength="6.80" lengthAdjust="spacingAndGlyphs" stroke="#333" stroke-width="0.15" >10</text>
<text x="351.30" y="446.60" font-size="4.4" fill="#333" stroke="#333" stroke-width="0.15" >5</text>
<g>
<path d="M399.00,436.60 L399.83,435.73 L401.02,434.51 L402.38,433.07 L403.77,431.87 L405.00,429.88 L406.06,428.87 L407.07,426.79 L408.05,424.79 L409.02,422.91 L410.00,421.77 L411.02,420.02 L412.05,418.35 L413.07,415.49 L414.06,414.27 L415.00,412.47 L415.87,411.48 L416.70,410.22 L417.48,409.66 L418.25,409.25 L419.00,408.95 L419.76,407.30 L420.51,407.06 L421.23,406.69 L421.90,406.01 L422.50,404.01 L423.00,402.41 L423.42,401.47 L423.79,399.53 L424.14,397.02 L424.50,394.76 L424.87,394.10 L425.22,391.95 L425.56,391.03 L425.92,389.30 L426.30,388.16 L426.73,386.14 L427.18,385.61 L427.65,383.83 L428.10,382.94 L428.50,382.40 L428.83,381.51 L429.10,380.09 L429.36,379.45 L429.65,378.84 L430.00,377.90 L430.45,376.17 L430.98,373.86 L431.52,371.95 L432.05,370.79 L432.50,370.05 L432.85,369.06 L433.13,370.20 L433.39,371.42 L433.66,371.90 L434.00,374.12 L434.41,374.82 L434.87,377.10 L435.35,378.96 L435.83,381.03 L436.30,382.63 L436.74,384.69 L437.16,386.85 L437.59,388.68 L438.03,390.95 L438.50,392.71 L439.01,394.70 L439.54,396.25 L440.09,398.91 L440.65,400.75 L441.20,402.40 L441.74,404.87 L442.28,406.74 L442.82,408.20 L443.39,409.68 L444.00,411.76 L444.66,413.10 L445.35,414.87 L446.07,416.89 L446.79,418.13 L447.50,420.00 L448.19,421.41 L448.88,422.13 L449.56,423.92 L450.27,424.38 L451.00,426.11 L451.78,427.09 L452.61,427.63 L453.45,427.92 L454.26,429.19 L455.00,429.85 L455.65,431.34 L456.22,431.34 L456.78,432.61 L457.35,433.42 L458.00,434.12 L458.67,434.69 L459.34,435.17 L460.06,435.58 L460.93,435.91 L462.00,436.19 L463.47,436.38 L465.30,436.49 L467.18,436.54 L468.85,436.57 L470.00,436.60 L470.00,436.60 L399.00,436.60 Z" fill="#6eb958" fill-opacity="0.33" stroke="none"/>
<path d="M399.00,436.60 L399.83,435.73 L401.02,434.51 L402.38,433.07 L403.77,431.87 L405.00,429.88 L406.06,428.87 L407.07,426.79 L408.05,424.79 L409.02,422.91 L410.00,421.77 L411.02,420.02 L412.05,418.35 L413.07,415.49 L414.06,414.27 L415.00,412.47 L415.87,411.48 L416.70,410.22 L417.48,409.66 L418.25,409.25 L419.00,408.95 L419.76,407.30 L420.51,407.06 L421.23,406.69 L421.90,406.01 L422.50,404.01 L423.00,402.41 L423.42,401.47 L423.79,399.53 L424.14,397.02 L424.50,394.76 L424.87,394.10 L425.22,391.95 L425.56,391.03 L425.92,389.30 L426.30,388.16 L426.73,386.14 L427.18,385.61 L427.65,383.83 L428.10,382.94 L428.50,382.40 L428.83,381.51 L429.10,380.09 L429.36,379.45 L429.65,378.84 L430.00,377.90 L430.45,376.17 L430.98,373.86 L431.52,371.95 L432.05,370.79 L432.50,370.05 L432.85,369.06 L433.13,370.20 L433.39,371.42 L433.66,371.90 L434.00,374.12 L434.41,374.82 L434.87,377.10 L435.35,378.96 L435.83,381.03 L436.30,382.63 L436.74,384.69 L437.16,386.85 L437.59,388.68 L438.03,390.95 L438.50,392.71 L439.01,394.70 L439.54,396.25 L440.09,398.91 L440.65,400.75 L441.20,402.40 L441.74,404.87 L442.28,406.74 L442.82,408.20 L443.39,409.68 L444.00,411.76 L444.66,413.10 L445.35,414.87 L446.07,416.89 L446.79,418.13 L447.50,420.00 L448.19,421.41 L448.88,422.13 L449.56,423.92 L450.27,424.38 L451.00,426.11 L451.78,427.09 L452.61,427.63 L453.45,427.92 L454.26,429.19 L455.00,429.85 L455.65,431.34 L456.22,431.34 L456.78,432.61 L457.35,433.42 L458.00,434.12 L458.67,434.69 L459.34,435.17 L460.06,435.58 L460.93,435.91 L462.00,436.19 L463.47,436.38 L465.30,436.49 L467.18,436.54 L468.85,436.57 L470.00,436.60" fill="none" stroke="#357a3c" stroke-width="1.3" stroke-dasharray="2.6 1.5" stroke-linejoin="round"/>
<path d="M397.50,436.60 L397.97,434.94 L398.62,432.61 L399.40,430.26 L400.21,427.53 L401.00,424.45 L401.78,421.82 L402.61,418.31 L403.45,416.31 L404.26,412.91 L405.00,410.64 L405.68,407.87 L406.32,404.34 L406.92,402.36 L407.48,399.90 L408.00,396.43 L408.45,394.32 L408.82,392.44 L409.18,389.50 L409.55,388.05 L410.00,385.08 L410.54,383.27 L411.15,380.04 L411.79,377.99 L412.42,376.18 L413.00,373.43 L413.55,371.74 L414.08,370.41 L414.60,368.85 L415.07,367.56 L415.50,367.20 L415.86,367.24 L416.16,368.66 L416.43,369.29 L416.70,370.61 L417.00,370.90 L417.33,372.67 L417.67,373.12 L418.02,374.89 L418.40,376.45 L418.80,377.73 L419.26,379.99 L419.77,381.44 L420.29,383.41 L420.78,385.87 L421.20,387.37 L421.51,391.09 L421.74,393.79 L421.95,396.74 L422.18,400.28 L422.50,402.43 L422.92,405.57 L423.41,407.22 L423.94,408.91 L424.48,411.16 L425.00,412.55 L425.48,413.95 L425.95,416.16 L426.43,416.88 L426.94,419.12 L427.50,419.79 L428.13,421.40 L428.80,422.87 L429.52,423.43 L430.25,424.41 L431.00,424.82 L431.74,425.14 L432.47,425.72 L433.23,426.30 L434.06,427.23 L435.00,427.43 L436.06,427.91 L437.23,428.70 L438.47,428.19 L439.74,428.59 L441.00,429.33 L442.30,428.82 L443.66,428.92 L445.02,429.41 L446.32,429.29 L447.50,429.83 L448.51,430.06 L449.40,430.91 L450.22,431.43 L451.07,431.56 L452.00,432.60 L453.00,433.11 L454.03,433.85 L455.11,434.59 L456.26,435.26 L457.50,435.77 L458.99,436.11 L460.72,436.32 L462.44,436.45 L463.95,436.53 L465.00,436.60 L465.00,436.60 L397.50,436.60 Z" fill="#4f58a1" fill-opacity="0.33" stroke="none"/>
<path d="M397.50,436.60 L397.97,434.94 L398.62,432.61 L399.40,430.26 L400.21,427.53 L401.00,424.45 L401.78,421.82 L402.61,418.31 L403.45,416.31 L404.26,412.91 L405.00,410.64 L405.68,407.87 L406.32,404.34 L406.92,402.36 L407.48,399.90 L408.00,396.43 L408.45,394.32 L408.82,392.44 L409.18,389.50 L409.55,388.05 L410.00,385.08 L410.54,383.27 L411.15,380.04 L411.79,377.99 L412.42,376.18 L413.00,373.43 L413.55,371.74 L414.08,370.41 L414.60,368.85 L415.07,367.56 L415.50,367.20 L415.86,367.24 L416.16,368.66 L416.43,369.29 L416.70,370.61 L417.00,370.90 L417.33,372.67 L417.67,373.12 L418.02,374.89 L418.40,376.45 L418.80,377.73 L419.26,379.99 L419.77,381.44 L420.29,383.41 L420.78,385.87 L421.20,387.37 L421.51,391.09 L421.74,393.79 L421.95,396.74 L422.18,400.28 L422.50,402.43 L422.92,405.57 L423.41,407.22 L423.94,408.91 L424.48,411.16 L425.00,412.55 L425.48,413.95 L425.95,416.16 L426.43,416.88 L426.94,419.12 L427.50,419.79 L428.13,421.40 L428.80,422.87 L429.52,423.43 L430.25,424.41 L431.00,424.82 L431.74,425.14 L432.47,425.72 L433.23,426.30 L434.06,427.23 L435.00,427.43 L436.06,427.91 L437.23,428.70 L438.47,428.19 L439.74,428.59 L441.00,429.33 L442.30,428.82 L443.66,428.92 L445.02,429.41 L446.32,429.29 L447.50,429.83 L448.51,430.06 L449.40,430.91 L450.22,431.43 L451.07,431.56 L452.00,432.60 L453.00,433.11 L454.03,433.85 L455.11,434.59 L456.26,435.26 L457.50,435.77 L458.99,436.11 L460.72,436.32 L462.44,436.45 L463.95,436.53 L465.00,436.60" fill="none" stroke="#26386e" stroke-width="1.3" stroke-dasharray="2.6 1.5" stroke-linejoin="round"/>
<path d="M406.20,436.60 L406.71,435.71 L407.44,434.47 L408.28,433.01 L409.17,431.44 L410.00,429.58 L410.80,429.03 L411.61,426.78 L412.43,425.17 L413.23,423.60 L414.00,422.69 L414.73,421.46 L415.44,419.87 L416.12,417.97 L416.81,416.33 L417.50,414.56 L418.19,413.77 L418.88,412.19 L419.56,410.47 L420.27,409.30 L421.00,407.59 L421.77,406.63 L422.56,404.89 L423.38,402.85 L424.19,402.09 L425.00,399.71 L425.81,398.86 L426.62,397.36 L427.44,395.85 L428.23,394.37 L429.00,393.90 L429.75,391.84 L430.48,391.24 L431.20,390.51 L431.87,388.51 L432.50,387.48 L433.06,386.85 L433.57,385.69 L434.05,384.83 L434.52,384.06 L435.00,382.49 L435.51,381.80 L436.02,380.98 L436.54,379.99 L437.03,380.34 L437.50,379.85 L437.94,379.66 L438.35,378.99 L438.75,380.15 L439.13,380.35 L439.50,380.33 L439.86,380.85 L440.20,380.76 L440.53,380.78 L440.86,381.03 L441.20,381.72 L441.55,382.28 L441.90,383.54 L442.26,385.05 L442.63,386.10 L443.00,387.36 L443.38,388.33 L443.76,389.02 L444.15,390.53 L444.56,391.58 L445.00,393.09 L445.47,393.84 L445.96,394.56 L446.48,395.94 L446.99,397.26 L447.50,397.42 L447.98,399.02 L448.44,398.83 L448.91,399.91 L449.42,400.93 L450.00,402.96 L450.66,405.19 L451.39,407.39 L452.16,409.59 L452.93,412.92 L453.70,414.91 L454.46,417.42 L455.23,420.91 L456.00,423.28 L456.76,425.76 L457.50,427.68 L458.21,429.43 L458.90,429.84 L459.58,430.93 L460.27,431.32 L461.00,432.03 L461.67,432.07 L462.28,432.77 L462.94,432.81 L463.81,433.05 L465.00,433.29 L466.62,433.53 L468.57,433.74 L470.71,433.92 L472.90,434.05 L475.00,434.12 L477.00,434.10 L479.00,434.00 L481.00,433.87 L483.00,433.76 L485.00,433.71 L487.05,433.76 L489.14,433.87 L491.22,434.00 L493.19,434.10 L495.00,434.12 L496.60,434.01 L498.03,433.80 L499.36,433.56 L500.66,433.37 L502.00,433.29 L503.48,433.36 L505.06,433.54 L506.58,433.77 L507.88,433.98 L508.80,434.12 L508.80,436.60 L406.20,436.60 Z" fill="#cb522e" fill-opacity="0.33" stroke="none"/>
<path d="M406.20,436.60 L406.71,435.71 L407.44,434.47 L408.28,433.01 L409.17,431.44 L410.00,429.58 L410.80,429.03 L411.61,426.78 L412.43,425.17 L413.23,423.60 L414.00,422.69 L414.73,421.46 L415.44,419.87 L416.12,417.97 L416.81,416.33 L417.50,414.56 L418.19,413.77 L418.88,412.19 L419.56,410.47 L420.27,409.30 L421.00,407.59 L421.77,406.63 L422.56,404.89 L423.38,402.85 L424.19,402.09 L425.00,399.71 L425.81,398.86 L426.62,397.36 L427.44,395.85 L428.23,394.37 L429.00,393.90 L429.75,391.84 L430.48,391.24 L431.20,390.51 L431.87,388.51 L432.50,387.48 L433.06,386.85 L433.57,385.69 L434.05,384.83 L434.52,384.06 L435.00,382.49 L435.51,381.80 L436.02,380.98 L436.54,379.99 L437.03,380.34 L437.50,379.85 L437.94,379.66 L438.35,378.99 L438.75,380.15 L439.13,380.35 L439.50,380.33 L439.86,380.85 L440.20,380.76 L440.53,380.78 L440.86,381.03 L441.20,381.72 L441.55,382.28 L441.90,383.54 L442.26,385.05 L442.63,386.10 L443.00,387.36 L443.38,388.33 L443.76,389.02 L444.15,390.53 L444.56,391.58 L445.00,393.09 L445.47,393.84 L445.96,394.56 L446.48,395.94 L446.99,397.26 L447.50,397.42 L447.98,399.02 L448.44,398.83 L448.91,399.91 L449.42,400.93 L450.00,402.96 L450.66,405.19 L451.39,407.39 L452.16,409.59 L452.93,412.92 L453.70,414.91 L454.46,417.42 L455.23,420.91 L456.00,423.28 L456.76,425.76 L457.50,427.68 L458.21,429.43 L458.90,429.84 L459.58,430.93 L460.27,431.32 L461.00,432.03 L461.67,432.07 L462.28,432.77 L462.94,432.81 L463.81,433.05 L465.00,433.29 L466.62,433.53 L468.57,433.74 L470.71,433.92 L472.90,434.05 L475.00,434.12 L477.00,434.10 L479.00,434.00 L481.00,433.87 L483.00,433.76 L485.00,433.71 L487.05,433.76 L489.14,433.87 L491.22,434.00 L493.19,434.10 L495.00,434.12 L496.60,434.01 L498.03,433.80 L499.36,433.56 L500.66,433.37 L502.00,433.29 L503.48,433.36 L505.06,433.54 L506.58,433.77 L507.88,433.98 L508.80,434.12" fill="none" stroke="#9a2a3a" stroke-width="1.3" stroke-dasharray="2.6 1.5" stroke-linejoin="round"/>
</g>
<rect x="365.60" y="349.60" width="143.20" height="87.00" fill="none" stroke="#111" stroke-width="1.2" />
<line x1="362.60" y1="436.60" x2="365.60" y2="436.60" stroke="#111" stroke-width="0.8" />
<line x1="363.80" y1="432.47" x2="365.60" y2="432.47" stroke="#111" stroke-width="0.8" />
<line x1="363.80" y1="428.33" x2="365.60" y2="428.33" stroke="#111" stroke-width="0.8" />
<line x1="363.80" y1="424.20" x2="365.60" y2="424.20" stroke="#111" stroke-width="0.8" />
<line x1="362.60" y1="420.06" x2="365.60" y2="420.06" stroke="#111" stroke-width="0.8" />
<line x1="363.80" y1="415.93" x2="365.60" y2="415.93" stroke="#111" stroke-width="0.8" />
<line x1="363.80" y1="411.79" x2="365.60" y2="411.79" stroke="#111" stroke-width="0.8" />
<line x1="363.80" y1="407.66" x2="365.60" y2="407.66" stroke="#111" stroke-width="0.8" />
<line x1="362.60" y1="403.52" x2="365.60" y2="403.52" stroke="#111" stroke-width="0.8" />
<line x1="363.80" y1="399.39" x2="365.60" y2="399.39" stroke="#111" stroke-width="0.8" />
<line x1="363.80" y1="395.25" x2="365.60" y2="395.25" stroke="#111" stroke-width="0.8" />
<line x1="363.80" y1="391.12" x2="365.60" y2="391.12" stroke="#111" stroke-width="0.8" />
<line x1="362.60" y1="386.98" x2="365.60" y2="386.98" stroke="#111" stroke-width="0.8" />
<line x1="363.80" y1="382.85" x2="365.60" y2="382.85" stroke="#111" stroke-width="0.8" />
<line x1="363.80" y1="378.71" x2="365.60" y2="378.71" stroke="#111" stroke-width="0.8" />
<line x1="363.80" y1="374.58" x2="365.60" y2="374.58" stroke="#111" stroke-width="0.8" />
<line x1="362.60" y1="370.44" x2="365.60" y2="370.44" stroke="#111" stroke-width="0.8" />
<line x1="363.80" y1="366.31" x2="365.60" y2="366.31" stroke="#111" stroke-width="0.8" />
<line x1="363.80" y1="362.17" x2="365.60" y2="362.17" stroke="#111" stroke-width="0.8" />
<line x1="363.80" y1="358.04" x2="365.60" y2="358.04" stroke="#111" stroke-width="0.8" />
<line x1="362.60" y1="353.90" x2="365.60" y2="353.90" stroke="#111" stroke-width="0.8" />
<line x1="373.80" y1="436.60" x2="373.80" y2="439.20" stroke="#111" stroke-width="0.8" />
<line x1="400.00" y1="436.60" x2="400.00" y2="439.20" stroke="#111" stroke-width="0.8" />
<line x1="422.50" y1="436.60" x2="422.50" y2="439.20" stroke="#111" stroke-width="0.8" />
<line x1="460.00" y1="436.60" x2="460.00" y2="439.20" stroke="#111" stroke-width="0.8" />
<line x1="494.50" y1="436.60" x2="494.50" y2="439.20" stroke="#111" stroke-width="0.8" />
<line x1="379.04" y1="436.60" x2="379.04" y2="438.10" stroke="#111" stroke-width="0.6" />
<line x1="384.28" y1="436.60" x2="384.28" y2="438.10" stroke="#111" stroke-width="0.6" />
<line x1="388.21" y1="436.60" x2="388.21" y2="438.10" stroke="#111" stroke-width="0.6" />
<line x1="391.62" y1="436.60" x2="391.62" y2="438.10" stroke="#111" stroke-width="0.6" />
<line x1="394.24" y1="436.60" x2="394.24" y2="438.10" stroke="#111" stroke-width="0.6" />
<line x1="396.33" y1="436.60" x2="396.33" y2="438.10" stroke="#111" stroke-width="0.6" />
<line x1="397.90" y1="436.60" x2="397.90" y2="438.10" stroke="#111" stroke-width="0.6" />
<line x1="398.95" y1="436.60" x2="398.95" y2="438.10" stroke="#111" stroke-width="0.6" />
<line x1="401.80" y1="436.60" x2="401.80" y2="438.10" stroke="#111" stroke-width="0.6" />
<line x1="404.05" y1="436.60" x2="404.05" y2="438.10" stroke="#111" stroke-width="0.6" />
<line x1="406.75" y1="436.60" x2="406.75" y2="438.10" stroke="#111" stroke-width="0.6" />
<line x1="410.12" y1="436.60" x2="410.12" y2="438.10" stroke="#111" stroke-width="0.6" />
<line x1="414.62" y1="436.60" x2="414.62" y2="438.10" stroke="#111" stroke-width="0.6" />
<line x1="419.12" y1="436.60" x2="419.12" y2="438.10" stroke="#111" stroke-width="0.6" />
<line x1="433.75" y1="436.60" x2="433.75" y2="438.10" stroke="#111" stroke-width="0.6" />
<line x1="470.35" y1="436.60" x2="470.35" y2="438.10" stroke="#111" stroke-width="0.6" />
<line x1="440.50" y1="436.60" x2="440.50" y2="438.10" stroke="#111" stroke-width="0.6" />
<line x1="476.56" y1="436.60" x2="476.56" y2="438.10" stroke="#111" stroke-width="0.6" />
<line x1="445.00" y1="436.60" x2="445.00" y2="438.10" stroke="#111" stroke-width="0.6" />
<line x1="480.70" y1="436.60" x2="480.70" y2="438.10" stroke="#111" stroke-width="0.6" />
<line x1="448.75" y1="436.60" x2="448.75" y2="438.10" stroke="#111" stroke-width="0.6" />
<line x1="484.15" y1="436.60" x2="484.15" y2="438.10" stroke="#111" stroke-width="0.6" />
<line x1="451.75" y1="436.60" x2="451.75" y2="438.10" stroke="#111" stroke-width="0.6" />
<line x1="486.91" y1="436.60" x2="486.91" y2="438.10" stroke="#111" stroke-width="0.6" />
<line x1="454.38" y1="436.60" x2="454.38" y2="438.10" stroke="#111" stroke-width="0.6" />
<line x1="489.32" y1="436.60" x2="489.32" y2="438.10" stroke="#111" stroke-width="0.6" />
<line x1="456.25" y1="436.60" x2="456.25" y2="438.10" stroke="#111" stroke-width="0.6" />
<line x1="491.05" y1="436.60" x2="491.05" y2="438.10" stroke="#111" stroke-width="0.6" />
<line x1="458.12" y1="436.60" x2="458.12" y2="438.10" stroke="#111" stroke-width="0.6" />
<line x1="492.77" y1="436.60" x2="492.77" y2="438.10" stroke="#111" stroke-width="0.6" />
<text x="366.80" y="450.00" font-size="7.2" fill="#333" textLength="10.40" lengthAdjust="spacingAndGlyphs" stroke="#333" stroke-width="0.15" >−10</text>
<text x="377.30" y="446.60" font-size="4.4" fill="#333" stroke="#333" stroke-width="0.15" >3</text>
<text x="400.00" y="450.00" font-size="7.2" fill="#333" text-anchor="middle" stroke="#333" stroke-width="0.15" >0</text>
<text x="418.30" y="450.00" font-size="7.2" fill="#333" textLength="6.80" lengthAdjust="spacingAndGlyphs" stroke="#333" stroke-width="0.15" >10</text>
<text x="425.20" y="446.60" font-size="4.4" fill="#333" stroke="#333" stroke-width="0.15" >3</text>
<text x="455.80" y="450.00" font-size="7.2" fill="#333" textLength="6.80" lengthAdjust="spacingAndGlyphs" stroke="#333" stroke-width="0.15" >10</text>
<text x="462.70" y="446.60" font-size="4.4" fill="#333" stroke="#333" stroke-width="0.15" >4</text>
<text x="490.30" y="450.00" font-size="7.2" fill="#333" textLength="6.80" lengthAdjust="spacingAndGlyphs" stroke="#333" stroke-width="0.15" >10</text>
<text x="497.20" y="446.60" font-size="4.4" fill="#333" stroke="#333" stroke-width="0.15" >5</text>
<rect x="136.70" y="245.80" width="11.2" height="3.8" fill="#cb522e" fill-opacity="0.75" stroke="#b81e3c" stroke-width="1.0"/>
<text x="150.80" y="250.30" font-size="7.3" fill="#d03a5a" textLength="11.80" lengthAdjust="spacingAndGlyphs" stroke="#d03a5a" stroke-width="0.15" >IgG</text>
<rect x="136.70" y="254.35" width="11.2" height="3.8" fill="#6eb958" fill-opacity="0.75" stroke="#3f9a4a" stroke-width="1.0"/>
<text x="150.80" y="258.85" font-size="7.3" fill="#58b458" textLength="25.00" lengthAdjust="spacingAndGlyphs" stroke="#58b458" stroke-width="0.15" >α-AREG</text>
<rect x="136.70" y="262.90" width="11.2" height="3.8" fill="#4f58a1" fill-opacity="0.75" stroke="#2b4a8c" stroke-width="1.0"/>
<text x="150.80" y="267.40" font-size="7.3" fill="#36588c" textLength="34.80" lengthAdjust="spacingAndGlyphs" stroke="#36588c" stroke-width="0.15" >Cetuximab</text>
<path d="M189.10,244.60 L192.60,244.60 L192.60,253.10 L194.40,254.60 L192.60,256.10 L192.60,264.60 L189.10,264.60" fill="none" stroke="#cc2244" stroke-width="0.9"/>
<text x="194.60" y="257.20" font-size="7.4" fill="#cc2244" textLength="11.60" lengthAdjust="spacingAndGlyphs" stroke="#cc2244" stroke-width="0.15" >Ctr</text>
<rect x="139.70" y="355.40" width="11.2" height="3.6" rx="1.5" fill="#cb522e" fill-opacity="0.8" stroke="#b81e3c" stroke-width="1.0" stroke-dasharray="2 1"/>
<text x="154.30" y="359.80" font-size="7.3" fill="#d03a5a" textLength="11.80" lengthAdjust="spacingAndGlyphs" stroke="#d03a5a" stroke-width="0.15" >IgG</text>
<rect x="139.70" y="363.95" width="11.2" height="3.6" rx="1.5" fill="#6eb958" fill-opacity="0.8" stroke="#3f9a4a" stroke-width="1.0" stroke-dasharray="2 1"/>
<text x="154.30" y="368.35" font-size="7.3" fill="#58b458" textLength="25.00" lengthAdjust="spacingAndGlyphs" stroke="#58b458" stroke-width="0.15" >α-AREG</text>
<rect x="139.70" y="372.50" width="11.2" height="3.6" rx="1.5" fill="#4f58a1" fill-opacity="0.8" stroke="#2b4a8c" stroke-width="1.0" stroke-dasharray="2 1"/>
<text x="154.30" y="376.90" font-size="7.3" fill="#36588c" textLength="34.80" lengthAdjust="spacingAndGlyphs" stroke="#36588c" stroke-width="0.15" >Cetuximab</text>
<path d="M189.90,353.40 L193.40,353.40 L193.40,362.30 L195.20,363.80 L193.40,365.30 L193.40,374.20 L189.90,374.20" fill="none" stroke="#4aaa4a" stroke-width="0.9"/>
<text x="195.20" y="366.40" font-size="7.4" fill="#4aaa4a" textLength="11.80" lengthAdjust="spacingAndGlyphs" stroke="#4aaa4a" stroke-width="0.15" >KO</text>
<line x1="86.30" y1="481.20" x2="86.30" y2="550.00" stroke="#111" stroke-width="1.1" />
<line x1="82.50" y1="549.50" x2="187.00" y2="549.50" stroke="#111" stroke-width="1.1" />
<line x1="82.70" y1="549.50" x2="86.30" y2="549.50" stroke="#111" stroke-width="1.0" />
<text x="79.30" y="552.00" font-size="7.0" fill="#333" text-anchor="end" textLength="3.75" lengthAdjust="spacingAndGlyphs" stroke="#333" stroke-width="0.15" >0</text>
<line x1="82.70" y1="527.23" x2="86.30" y2="527.23" stroke="#111" stroke-width="1.0" />
<text x="79.30" y="529.73" font-size="7.0" fill="#333" text-anchor="end" textLength="15.00" lengthAdjust="spacingAndGlyphs" stroke="#333" stroke-width="0.15" >5000</text>
<line x1="82.70" y1="504.97" x2="86.30" y2="504.97" stroke="#111" stroke-width="1.0" />
<text x="79.30" y="507.47" font-size="7.0" fill="#333" text-anchor="end" textLength="18.75" lengthAdjust="spacingAndGlyphs" stroke="#333" stroke-width="0.15" >10000</text>
<line x1="82.70" y1="482.70" x2="86.30" y2="482.70" stroke="#111" stroke-width="1.0" />
<text x="79.30" y="485.20" font-size="7.0" fill="#333" text-anchor="end" textLength="18.75" lengthAdjust="spacingAndGlyphs" stroke="#333" stroke-width="0.15" >15000</text>
<text x="53.60" y="546.50" font-size="8.2" fill="#333" textLength="64.00" lengthAdjust="spacingAndGlyphs" transform="rotate(-90 53.60 546.50)" stroke="#333" stroke-width="0.15" >MFI of EGFR (Y845)</text>
<rect x="91.00" y="540.26" width="9.70" height="9.24" fill="#d2002c" stroke="none" stroke-width="0" />
<line x1="95.85" y1="541.33" x2="95.85" y2="538.48" stroke="#111" stroke-width="0.9" />
<line x1="94.25" y1="538.48" x2="97.45" y2="538.48" stroke="#111" stroke-width="0.9" />
<circle cx="98.35" cy="537.48" r="1.70" fill="#111"/>
<circle cx="94.35" cy="538.81" r="1.70" fill="#111"/>
<circle cx="95.85" cy="540.59" r="1.70" fill="#111"/>
<circle cx="96.85" cy="541.93" r="1.70" fill="#111"/>
<circle cx="94.85" cy="542.82" r="1.70" fill="#111"/>
<rect x="105.00" y="543.27" width="9.80" height="6.23" fill="#3aac3a" stroke="none" stroke-width="0" />
<line x1="109.90" y1="544.07" x2="109.90" y2="541.93" stroke="#111" stroke-width="0.9" />
<line x1="108.30" y1="541.93" x2="111.50" y2="541.93" stroke="#111" stroke-width="0.9" />
<circle cx="108.40" cy="541.48" r="1.20" fill="none" stroke="#111" stroke-width="1.0"/>
<circle cx="111.40" cy="541.04" r="1.20" fill="none" stroke="#111" stroke-width="1.0"/>
<circle cx="109.90" cy="542.82" r="1.20" fill="none" stroke="#111" stroke-width="1.0"/>
<circle cx="107.90" cy="543.71" r="1.20" fill="none" stroke="#111" stroke-width="1.0"/>
<circle cx="111.90" cy="544.16" r="1.20" fill="none" stroke="#111" stroke-width="1.0"/>
<rect x="119.20" y="543.27" width="9.80" height="6.23" fill="#1e5396" stroke="none" stroke-width="0" />
<line x1="124.10" y1="544.07" x2="124.10" y2="541.93" stroke="#111" stroke-width="0.9" />
<line x1="122.50" y1="541.93" x2="125.70" y2="541.93" stroke="#111" stroke-width="0.9" />
<circle cx="124.10" cy="540.15" r="1.20" fill="none" stroke="#111" stroke-width="1.0"/>
<circle cx="122.60" cy="541.93" r="1.20" fill="none" stroke="#111" stroke-width="1.0"/>
<circle cx="125.60" cy="542.37" r="1.20" fill="none" stroke="#111" stroke-width="1.0"/>
<circle cx="124.10" cy="543.71" r="1.20" fill="none" stroke="#111" stroke-width="1.0"/>
<circle cx="122.10" cy="543.93" r="1.20" fill="none" stroke="#111" stroke-width="1.0"/>
<rect x="143.10" y="504.97" width="9.50" height="44.53" fill="#d2002c" stroke="none" stroke-width="0" />
<line x1="147.85" y1="508.97" x2="147.85" y2="498.29" stroke="#111" stroke-width="0.9" />
<line x1="146.25" y1="498.29" x2="149.45" y2="498.29" stroke="#111" stroke-width="0.9" />
<circle cx="147.85" cy="498.29" r="1.70" fill="#111"/>
<circle cx="145.85" cy="504.08" r="1.70" fill="#111"/>
<circle cx="149.85" cy="504.52" r="1.70" fill="#111"/>
<circle cx="147.85" cy="508.53" r="1.70" fill="#111"/>
<circle cx="147.85" cy="512.98" r="1.70" fill="#111"/>
<rect x="157.20" y="516.99" width="9.90" height="32.51" fill="#3aac3a" stroke="none" stroke-width="0" />
<line x1="162.15" y1="519.66" x2="162.15" y2="512.54" stroke="#111" stroke-width="0.9" />
<line x1="160.55" y1="512.54" x2="163.75" y2="512.54" stroke="#111" stroke-width="0.9" />
<circle cx="162.15" cy="505.86" r="1.20" fill="none" stroke="#111" stroke-width="1.0"/>
<circle cx="162.15" cy="509.42" r="1.20" fill="none" stroke="#111" stroke-width="1.0"/>
<circle cx="160.15" cy="513.87" r="1.20" fill="none" stroke="#111" stroke-width="1.0"/>
<circle cx="162.15" cy="516.99" r="1.20" fill="none" stroke="#111" stroke-width="1.0"/>
<circle cx="165.15" cy="519.22" r="1.20" fill="none" stroke="#111" stroke-width="1.0"/>
<circle cx="159.15" cy="518.77" r="1.20" fill="none" stroke="#111" stroke-width="1.0"/>
<circle cx="162.15" cy="521.89" r="1.20" fill="none" stroke="#111" stroke-width="1.0"/>
<circle cx="162.15" cy="526.34" r="1.20" fill="none" stroke="#111" stroke-width="1.0"/>
<rect x="171.40" y="529.91" width="9.80" height="19.59" fill="#1e5396" stroke="none" stroke-width="0" />
<line x1="176.30" y1="532.04" x2="176.30" y2="526.34" stroke="#111" stroke-width="0.9" />
<line x1="174.70" y1="526.34" x2="177.90" y2="526.34" stroke="#111" stroke-width="0.9" />
<circle cx="173.30" cy="522.78" r="1.20" fill="none" stroke="#111" stroke-width="1.0"/>
<circle cx="176.30" cy="523.23" r="1.20" fill="none" stroke="#111" stroke-width="1.0"/>
<circle cx="179.30" cy="522.33" r="1.20" fill="none" stroke="#111" stroke-width="1.0"/>
<circle cx="176.30" cy="526.34" r="1.20" fill="none" stroke="#111" stroke-width="1.0"/>
<circle cx="175.30" cy="529.01" r="1.20" fill="none" stroke="#111" stroke-width="1.0"/>
<line x1="110.00" y1="549.50" x2="110.00" y2="552.10" stroke="#111" stroke-width="0.9" />
<line x1="162.15" y1="549.50" x2="162.15" y2="552.10" stroke="#111" stroke-width="0.9" />
<text x="109.40" y="563.50" font-size="7.3" fill="#333" text-anchor="middle" font-style="italic" textLength="29.20" lengthAdjust="spacingAndGlyphs" stroke="#333" stroke-width="0.15" >LepRCre;</text>
<text x="97.40" y="571.60" font-size="7.3" fill="#333" font-style="italic" textLength="18.30" lengthAdjust="spacingAndGlyphs" stroke="#333" stroke-width="0.15" >Brca2</text>
<text x="116.00" y="567.60" font-size="4.6" fill="#333" font-style="italic" textLength="6.40" lengthAdjust="spacingAndGlyphs" stroke="#333" stroke-width="0.15" >+/+</text>
<text x="161.55" y="563.50" font-size="7.3" fill="#333" text-anchor="middle" font-style="italic" textLength="29.20" lengthAdjust="spacingAndGlyphs" stroke="#333" stroke-width="0.15" >LepRCre;</text>
<text x="149.55" y="571.60" font-size="7.3" fill="#333" font-style="italic" textLength="18.30" lengthAdjust="spacingAndGlyphs" stroke="#333" stroke-width="0.15" >Brca2</text>
<text x="168.15" y="567.60" font-size="4.6" fill="#333" font-style="italic" textLength="5.60" lengthAdjust="spacingAndGlyphs" stroke="#333" stroke-width="0.15" >fl/fl</text>
<path d="M94.50,505.00 L94.50,486.50 L146.60,486.50 L146.60,491.20" fill="none" stroke="#2a2a2a" stroke-width="1.1" stroke-dasharray="2.0 1.3"/>
<text x="121.40" y="485.60" font-size="7.4" fill="#222" text-anchor="middle" font-weight="bold" >**</text>
<text x="162.20" y="505.50" font-size="7.4" fill="#222" text-anchor="middle" font-weight="bold" >*</text>
<text x="176.30" y="522.50" font-size="7.4" fill="#222" text-anchor="middle" font-weight="bold" >**</text>
<line x1="242.50" y1="481.00" x2="242.50" y2="550.10" stroke="#111" stroke-width="1.1" />
<line x1="238.70" y1="549.60" x2="342.00" y2="549.60" stroke="#111" stroke-width="1.1" />
<line x1="238.90" y1="549.60" x2="242.50" y2="549.60" stroke="#111" stroke-width="1.0" />
<text x="236.50" y="552.10" font-size="7.0" fill="#333" text-anchor="end" textLength="3.75" lengthAdjust="spacingAndGlyphs" stroke="#333" stroke-width="0.15" >0</text>
<line x1="238.90" y1="527.23" x2="242.50" y2="527.23" stroke="#111" stroke-width="1.0" />
<text x="236.50" y="529.73" font-size="7.0" fill="#333" text-anchor="end" textLength="15.00" lengthAdjust="spacingAndGlyphs" stroke="#333" stroke-width="0.15" >5000</text>
<line x1="238.90" y1="504.87" x2="242.50" y2="504.87" stroke="#111" stroke-width="1.0" />
<text x="236.50" y="507.37" font-size="7.0" fill="#333" text-anchor="end" textLength="18.75" lengthAdjust="spacingAndGlyphs" stroke="#333" stroke-width="0.15" >10000</text>
<line x1="238.90" y1="482.50" x2="242.50" y2="482.50" stroke="#111" stroke-width="1.0" />
<text x="236.50" y="485.00" font-size="7.0" fill="#333" text-anchor="end" textLength="18.75" lengthAdjust="spacingAndGlyphs" stroke="#333" stroke-width="0.15" >15000</text>
<text x="209.60" y="543.50" font-size="8.2" fill="#333" textLength="58.00" lengthAdjust="spacingAndGlyphs" transform="rotate(-90 209.60 543.50)" stroke="#333" stroke-width="0.15" >MFI of Akt (S473)</text>
<rect x="246.80" y="538.19" width="10.10" height="11.41" fill="#d2002c" stroke="none" stroke-width="0" />
<line x1="251.85" y1="541.68" x2="251.85" y2="532.38" stroke="#111" stroke-width="0.9" />
<line x1="250.25" y1="532.38" x2="253.45" y2="532.38" stroke="#111" stroke-width="0.9" />
<circle cx="251.85" cy="528.13" r="1.70" fill="#111"/>
<circle cx="249.85" cy="536.18" r="1.70" fill="#111"/>
<circle cx="253.85" cy="537.97" r="1.70" fill="#111"/>
<circle cx="251.85" cy="540.65" r="1.70" fill="#111"/>
<circle cx="250.85" cy="542.89" r="1.70" fill="#111"/>
<rect x="261.50" y="542.89" width="9.90" height="6.71" fill="#3aac3a" stroke="none" stroke-width="0" />
<line x1="266.45" y1="543.83" x2="266.45" y2="541.32" stroke="#111" stroke-width="0.9" />
<line x1="264.85" y1="541.32" x2="268.05" y2="541.32" stroke="#111" stroke-width="0.9" />
<circle cx="263.95" cy="541.10" r="1.20" fill="none" stroke="#111" stroke-width="1.0"/>
<circle cx="266.45" cy="540.65" r="1.20" fill="none" stroke="#111" stroke-width="1.0"/>
<circle cx="268.95" cy="541.10" r="1.20" fill="none" stroke="#111" stroke-width="1.0"/>
<circle cx="266.45" cy="542.44" r="1.20" fill="none" stroke="#111" stroke-width="1.0"/>
<circle cx="265.45" cy="543.78" r="1.20" fill="none" stroke="#111" stroke-width="1.0"/>
<rect x="275.60" y="540.43" width="10.20" height="9.17" fill="#1e5396" stroke="none" stroke-width="0" />
<line x1="280.70" y1="541.23" x2="280.70" y2="539.09" stroke="#111" stroke-width="0.9" />
<line x1="279.10" y1="539.09" x2="282.30" y2="539.09" stroke="#111" stroke-width="0.9" />
<circle cx="278.20" cy="539.31" r="1.20" fill="none" stroke="#111" stroke-width="1.0"/>
<circle cx="280.70" cy="538.86" r="1.20" fill="none" stroke="#111" stroke-width="1.0"/>
<circle cx="283.20" cy="539.31" r="1.20" fill="none" stroke="#111" stroke-width="1.0"/>
<circle cx="280.70" cy="540.65" r="1.20" fill="none" stroke="#111" stroke-width="1.0"/>
<circle cx="279.70" cy="541.10" r="1.20" fill="none" stroke="#111" stroke-width="1.0"/>
<rect x="300.00" y="503.52" width="9.80" height="46.08" fill="#d2002c" stroke="none" stroke-width="0" />
<line x1="304.90" y1="506.21" x2="304.90" y2="499.05" stroke="#111" stroke-width="0.9" />
<line x1="303.30" y1="499.05" x2="306.50" y2="499.05" stroke="#111" stroke-width="0.9" />
<circle cx="304.90" cy="495.92" r="1.70" fill="#111"/>
<circle cx="302.90" cy="501.29" r="1.70" fill="#111"/>
<circle cx="306.90" cy="502.18" r="1.70" fill="#111"/>
<circle cx="304.90" cy="507.10" r="1.70" fill="#111"/>
<circle cx="304.90" cy="510.23" r="1.70" fill="#111"/>
<rect x="313.80" y="513.81" width="9.90" height="35.79" fill="#3aac3a" stroke="none" stroke-width="0" />
<line x1="318.75" y1="515.69" x2="318.75" y2="510.68" stroke="#111" stroke-width="0.9" />
<line x1="317.15" y1="510.68" x2="320.35" y2="510.68" stroke="#111" stroke-width="0.9" />
<circle cx="315.75" cy="510.68" r="1.20" fill="none" stroke="#111" stroke-width="1.0"/>
<circle cx="318.75" cy="509.79" r="1.20" fill="none" stroke="#111" stroke-width="1.0"/>
<circle cx="321.75" cy="511.13" r="1.20" fill="none" stroke="#111" stroke-width="1.0"/>
<circle cx="316.75" cy="515.16" r="1.20" fill="none" stroke="#111" stroke-width="1.0"/>
<circle cx="320.75" cy="515.60" r="1.20" fill="none" stroke="#111" stroke-width="1.0"/>
<circle cx="318.75" cy="518.29" r="1.20" fill="none" stroke="#111" stroke-width="1.0"/>
<rect x="327.70" y="518.73" width="9.90" height="30.87" fill="#1e5396" stroke="none" stroke-width="0" />
<line x1="332.65" y1="519.94" x2="332.65" y2="516.72" stroke="#111" stroke-width="0.9" />
<line x1="331.05" y1="516.72" x2="334.25" y2="516.72" stroke="#111" stroke-width="0.9" />
<circle cx="329.65" cy="517.84" r="1.20" fill="none" stroke="#111" stroke-width="1.0"/>
<circle cx="332.65" cy="516.94" r="1.20" fill="none" stroke="#111" stroke-width="1.0"/>
<circle cx="335.65" cy="518.29" r="1.20" fill="none" stroke="#111" stroke-width="1.0"/>
<circle cx="332.65" cy="519.63" r="1.20" fill="none" stroke="#111" stroke-width="1.0"/>
<circle cx="330.65" cy="520.52" r="1.20" fill="none" stroke="#111" stroke-width="1.0"/>
<line x1="266.30" y1="549.60" x2="266.30" y2="552.20" stroke="#111" stroke-width="0.9" />
<line x1="318.80" y1="549.60" x2="318.80" y2="552.20" stroke="#111" stroke-width="0.9" />
<text x="265.70" y="563.50" font-size="7.3" fill="#333" text-anchor="middle" font-style="italic" textLength="29.20" lengthAdjust="spacingAndGlyphs" stroke="#333" stroke-width="0.15" >LepRCre;</text>
<text x="253.70" y="571.60" font-size="7.3" fill="#333" font-style="italic" textLength="18.30" lengthAdjust="spacingAndGlyphs" stroke="#333" stroke-width="0.15" >Brca2</text>
<text x="272.30" y="567.60" font-size="4.6" fill="#333" font-style="italic" textLength="6.40" lengthAdjust="spacingAndGlyphs" stroke="#333" stroke-width="0.15" >+/+</text>
<text x="318.20" y="563.50" font-size="7.3" fill="#333" text-anchor="middle" font-style="italic" textLength="29.20" lengthAdjust="spacingAndGlyphs" stroke="#333" stroke-width="0.15" >LepRCre;</text>
<text x="306.20" y="571.60" font-size="7.3" fill="#333" font-style="italic" textLength="18.30" lengthAdjust="spacingAndGlyphs" stroke="#333" stroke-width="0.15" >Brca2</text>
<text x="324.80" y="567.60" font-size="4.6" fill="#333" font-style="italic" textLength="5.60" lengthAdjust="spacingAndGlyphs" stroke="#333" stroke-width="0.15" >fl/fl</text>
<path d="M252.30,503.50 L252.30,485.60 L304.60,485.60 L304.60,491.20" fill="none" stroke="#2a2a2a" stroke-width="1.1" stroke-dasharray="2.0 1.3"/>
<text x="279.40" y="485.40" font-size="7.4" fill="#222" text-anchor="middle" font-weight="bold" >**</text>
<text x="318.80" y="510.00" font-size="7.4" fill="#222" text-anchor="middle" font-weight="bold" >*</text>
<text x="332.60" y="517.60" font-size="7.4" fill="#222" text-anchor="middle" font-weight="bold" >*</text>
<line x1="398.00" y1="480.40" x2="398.00" y2="550.20" stroke="#111" stroke-width="1.1" />
<line x1="394.20" y1="549.70" x2="495.00" y2="549.70" stroke="#111" stroke-width="1.1" />
<line x1="394.40" y1="549.70" x2="398.00" y2="549.70" stroke="#111" stroke-width="1.0" />
<text x="391.00" y="552.20" font-size="7.0" fill="#333" text-anchor="end" textLength="3.75" lengthAdjust="spacingAndGlyphs" stroke="#333" stroke-width="0.15" >0</text>
<line x1="394.40" y1="527.10" x2="398.00" y2="527.10" stroke="#111" stroke-width="1.0" />
<text x="391.00" y="529.60" font-size="7.0" fill="#333" text-anchor="end" textLength="15.00" lengthAdjust="spacingAndGlyphs" stroke="#333" stroke-width="0.15" >5000</text>
<line x1="394.40" y1="504.50" x2="398.00" y2="504.50" stroke="#111" stroke-width="1.0" />
<text x="391.00" y="507.00" font-size="7.0" fill="#333" text-anchor="end" textLength="18.75" lengthAdjust="spacingAndGlyphs" stroke="#333" stroke-width="0.15" >10000</text>
<line x1="394.40" y1="481.90" x2="398.00" y2="481.90" stroke="#111" stroke-width="1.0" />
<text x="391.00" y="484.40" font-size="7.0" fill="#333" text-anchor="end" textLength="18.75" lengthAdjust="spacingAndGlyphs" stroke="#333" stroke-width="0.15" >15000</text>
<text x="364.60" y="550.00" font-size="8.2" fill="#333" textLength="71.00" lengthAdjust="spacingAndGlyphs" transform="rotate(-90 364.60 550.00)" stroke="#333" stroke-width="0.15" >MFI of mTOR (S2448)</text>
<rect x="402.10" y="536.77" width="9.80" height="12.93" fill="#d2002c" stroke="none" stroke-width="0" />
<line x1="407.00" y1="537.59" x2="407.00" y2="535.42" stroke="#111" stroke-width="0.9" />
<line x1="405.40" y1="535.42" x2="408.60" y2="535.42" stroke="#111" stroke-width="0.9" />
<circle cx="404.50" cy="535.69" r="1.70" fill="#111"/>
<circle cx="407.00" cy="535.24" r="1.70" fill="#111"/>
<circle cx="409.50" cy="536.14" r="1.70" fill="#111"/>
<circle cx="407.00" cy="537.50" r="1.70" fill="#111"/>
<circle cx="406.00" cy="537.95" r="1.70" fill="#111"/>
<rect x="416.50" y="542.02" width="9.90" height="7.68" fill="#3aac3a" stroke="none" stroke-width="0" />
<line x1="421.45" y1="542.83" x2="421.45" y2="540.66" stroke="#111" stroke-width="0.9" />
<line x1="419.85" y1="540.66" x2="423.05" y2="540.66" stroke="#111" stroke-width="0.9" />
<circle cx="418.95" cy="540.21" r="1.20" fill="none" stroke="#111" stroke-width="1.0"/>
<circle cx="421.45" cy="539.30" r="1.20" fill="none" stroke="#111" stroke-width="1.0"/>
<circle cx="423.95" cy="540.66" r="1.20" fill="none" stroke="#111" stroke-width="1.0"/>
<circle cx="421.45" cy="542.02" r="1.20" fill="none" stroke="#111" stroke-width="1.0"/>
<circle cx="420.45" cy="542.92" r="1.20" fill="none" stroke="#111" stroke-width="1.0"/>
<rect x="431.00" y="541.38" width="10.10" height="8.32" fill="#1e5396" stroke="none" stroke-width="0" />
<line x1="436.05" y1="542.20" x2="436.05" y2="540.03" stroke="#111" stroke-width="0.9" />
<line x1="434.45" y1="540.03" x2="437.65" y2="540.03" stroke="#111" stroke-width="0.9" />
<circle cx="434.05" cy="539.30" r="1.20" fill="none" stroke="#111" stroke-width="1.0"/>
<circle cx="436.05" cy="538.40" r="1.20" fill="none" stroke="#111" stroke-width="1.0"/>
<circle cx="438.05" cy="540.21" r="1.20" fill="none" stroke="#111" stroke-width="1.0"/>
<circle cx="436.05" cy="541.56" r="1.20" fill="none" stroke="#111" stroke-width="1.0"/>
<circle cx="435.05" cy="542.47" r="1.20" fill="none" stroke="#111" stroke-width="1.0"/>
<rect x="455.00" y="505.04" width="9.80" height="44.66" fill="#d2002c" stroke="none" stroke-width="0" />
<line x1="459.90" y1="507.48" x2="459.90" y2="500.97" stroke="#111" stroke-width="0.9" />
<line x1="458.30" y1="500.97" x2="461.50" y2="500.97" stroke="#111" stroke-width="0.9" />
<circle cx="459.90" cy="498.62" r="1.70" fill="#111"/>
<circle cx="457.90" cy="502.24" r="1.70" fill="#111"/>
<circle cx="461.90" cy="503.14" r="1.70" fill="#111"/>
<circle cx="459.90" cy="505.86" r="1.70" fill="#111"/>
<circle cx="459.90" cy="507.66" r="1.70" fill="#111"/>
<rect x="468.80" y="536.50" width="9.90" height="13.20" fill="#3aac3a" stroke="none" stroke-width="0" />
<line x1="473.75" y1="537.59" x2="473.75" y2="534.69" stroke="#111" stroke-width="0.9" />
<line x1="472.15" y1="534.69" x2="475.35" y2="534.69" stroke="#111" stroke-width="0.9" />
<circle cx="470.75" cy="533.88" r="1.20" fill="none" stroke="#111" stroke-width="1.0"/>
<circle cx="473.75" cy="532.52" r="1.20" fill="none" stroke="#111" stroke-width="1.0"/>
<circle cx="476.75" cy="534.33" r="1.20" fill="none" stroke="#111" stroke-width="1.0"/>
<circle cx="471.75" cy="536.59" r="1.20" fill="none" stroke="#111" stroke-width="1.0"/>
<circle cx="475.75" cy="537.04" r="1.20" fill="none" stroke="#111" stroke-width="1.0"/>
<circle cx="473.75" cy="537.95" r="1.20" fill="none" stroke="#111" stroke-width="1.0"/>
<rect x="483.30" y="537.99" width="10.10" height="11.71" fill="#1e5396" stroke="none" stroke-width="0" />
<line x1="488.35" y1="538.81" x2="488.35" y2="536.64" stroke="#111" stroke-width="0.9" />
<line x1="486.75" y1="536.64" x2="489.95" y2="536.64" stroke="#111" stroke-width="0.9" />
<circle cx="485.35" cy="536.59" r="1.20" fill="none" stroke="#111" stroke-width="1.0"/>
<circle cx="488.35" cy="535.69" r="1.20" fill="none" stroke="#111" stroke-width="1.0"/>
<circle cx="491.35" cy="537.04" r="1.20" fill="none" stroke="#111" stroke-width="1.0"/>
<circle cx="488.35" cy="538.40" r="1.20" fill="none" stroke="#111" stroke-width="1.0"/>
<circle cx="487.35" cy="539.30" r="1.20" fill="none" stroke="#111" stroke-width="1.0"/>
<line x1="421.60" y1="549.70" x2="421.60" y2="552.30" stroke="#111" stroke-width="0.9" />
<line x1="474.20" y1="549.70" x2="474.20" y2="552.30" stroke="#111" stroke-width="0.9" />
<text x="421.00" y="563.50" font-size="7.3" fill="#333" text-anchor="middle" font-style="italic" textLength="29.20" lengthAdjust="spacingAndGlyphs" stroke="#333" stroke-width="0.15" >LepRCre;</text>
<text x="409.00" y="571.60" font-size="7.3" fill="#333" font-style="italic" textLength="18.30" lengthAdjust="spacingAndGlyphs" stroke="#333" stroke-width="0.15" >Brca2</text>
<text x="427.60" y="567.60" font-size="4.6" fill="#333" font-style="italic" textLength="6.40" lengthAdjust="spacingAndGlyphs" stroke="#333" stroke-width="0.15" >+/+</text>
<text x="473.60" y="563.50" font-size="7.3" fill="#333" text-anchor="middle" font-style="italic" textLength="29.20" lengthAdjust="spacingAndGlyphs" stroke="#333" stroke-width="0.15" >LepRCre;</text>
<text x="461.60" y="571.60" font-size="7.3" fill="#333" font-style="italic" textLength="18.30" lengthAdjust="spacingAndGlyphs" stroke="#333" stroke-width="0.15" >Brca2</text>
<text x="480.20" y="567.60" font-size="4.6" fill="#333" font-style="italic" textLength="5.60" lengthAdjust="spacingAndGlyphs" stroke="#333" stroke-width="0.15" >fl/fl</text>
<path d="M407.30,503.50 L407.30,486.50 L458.00,486.50 L458.00,491.20" fill="none" stroke="#2a2a2a" stroke-width="1.1" stroke-dasharray="2.0 1.3"/>
<text x="434.40" y="485.40" font-size="7.4" fill="#222" text-anchor="middle" font-weight="bold" >**</text>
<text x="473.80" y="532.00" font-size="7.4" fill="#222" text-anchor="middle" font-weight="bold" >**</text>
<text x="488.30" y="536.50" font-size="7.4" fill="#222" text-anchor="middle" font-weight="bold" >**</text>
<circle cx="473.50" cy="479.60" r="1.70" fill="#111"/>
<text x="477.60" y="482.20" font-size="7.3" fill="#d03a5a" textLength="11.50" lengthAdjust="spacingAndGlyphs" stroke="#d03a5a" stroke-width="0.15" >IgG</text>
<circle cx="473.50" cy="489.30" r="1.20" fill="none" stroke="#111" stroke-width="1.0"/>
<text x="477.60" y="491.90" font-size="7.3" fill="#58b458" textLength="25.20" lengthAdjust="spacingAndGlyphs" stroke="#58b458" stroke-width="0.15" >α-AREG</text>
<circle cx="473.50" cy="499.30" r="1.20" fill="none" stroke="#111" stroke-width="1.0"/>
<text x="477.60" y="501.90" font-size="7.3" fill="#36588c" textLength="34.80" lengthAdjust="spacingAndGlyphs" stroke="#36588c" stroke-width="0.15" >Cetuximab</text>
<rect x="0.5" y="0.5" width="519" height="579.8" fill="none" stroke="#474747" stroke-width="1.1"/>
</svg>
</body></html>
